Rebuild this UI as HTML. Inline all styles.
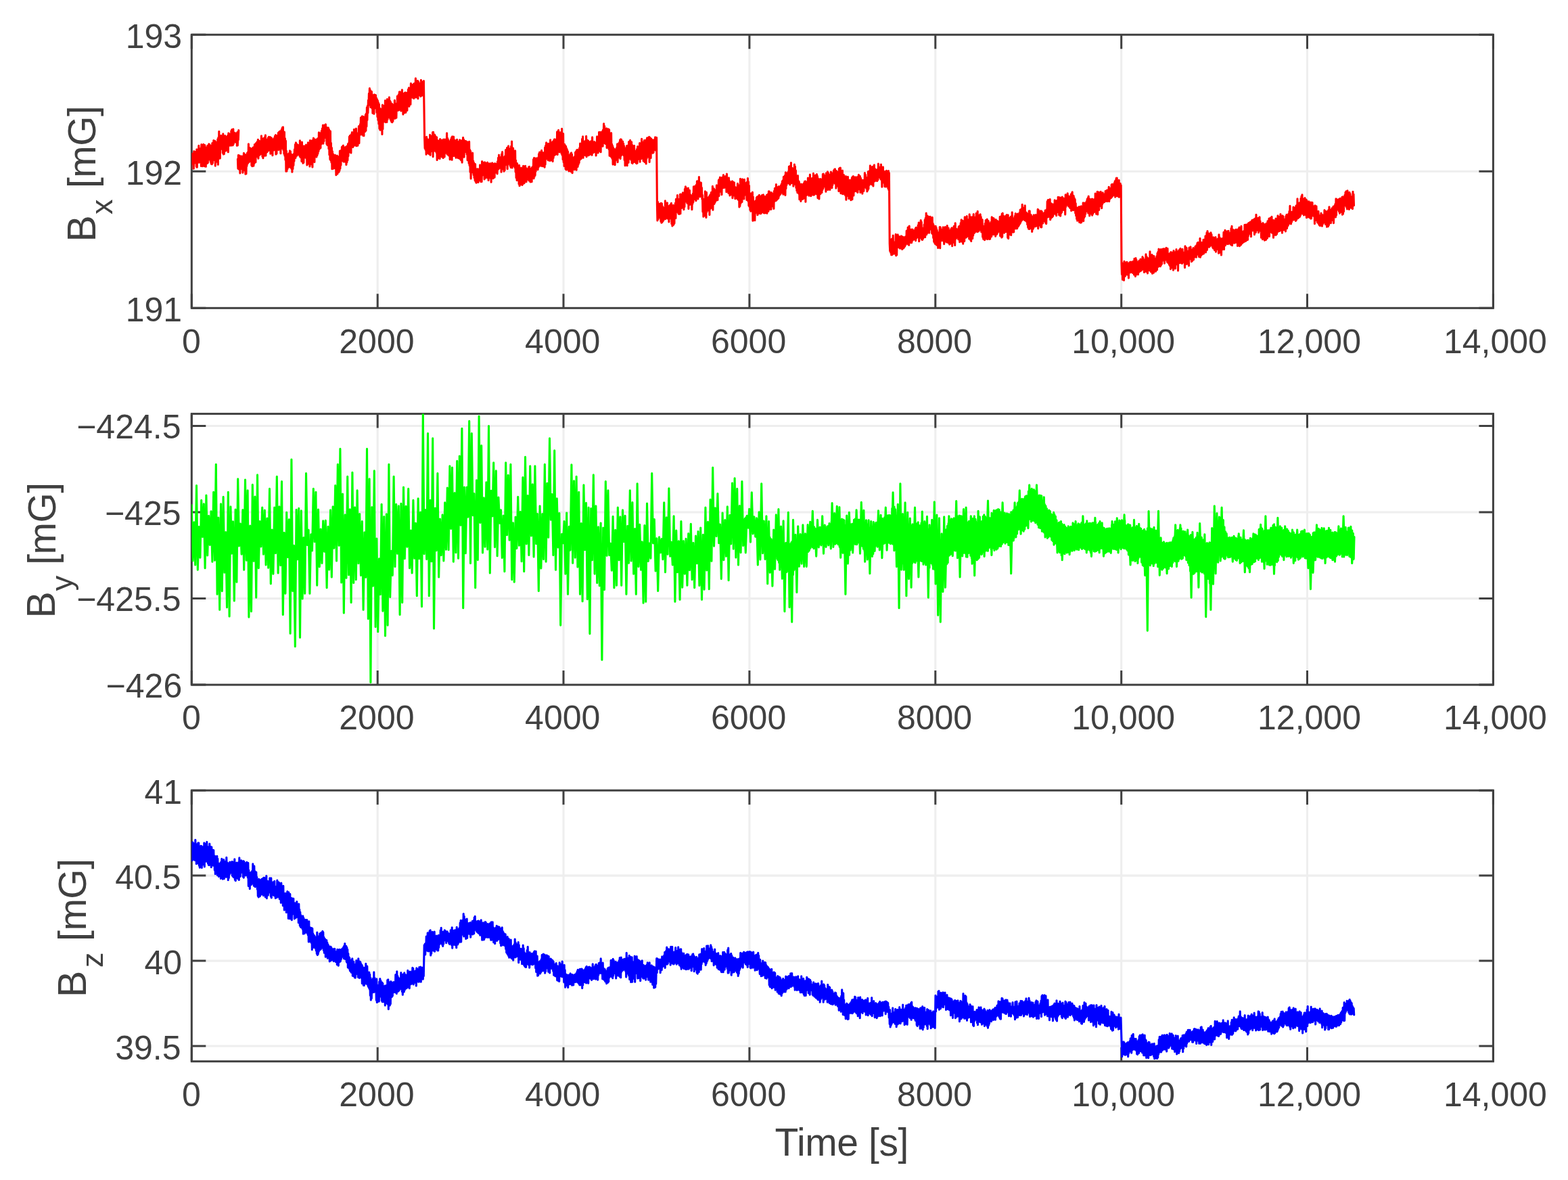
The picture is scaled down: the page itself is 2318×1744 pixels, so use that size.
<!DOCTYPE html>
<html lang="en">
<head>
<meta charset="utf-8">
<title>Magnetic field components Bx, By, Bz versus time</title>
<style>
html,body{margin:0;padding:0;background:#fff;}
body{width:2318px;height:1744px;overflow:hidden;}
svg{display:block;}
text{font-family:"Liberation Sans",sans-serif;fill:#404040;}
.t{font-size:50px;}
.g{stroke:#eeeeee;stroke-width:3.1;fill:none;}
.a{stroke:#404040;stroke-width:3.0;fill:none;}
.d{stroke-width:3.1;fill:none;stroke-linejoin:round;stroke-linecap:round;}
</style>
</head>
<body>
<svg width="2318" height="1744" viewBox="0 0 2318 1744" role="img" aria-label="Magnetic field components versus time">
<rect width="2318" height="1744" fill="#fff"/>
<defs><clipPath id="c0"><rect x="283.3" y="51.3" width="1924.1" height="404.0"/></clipPath><clipPath id="c1"><rect x="283.3" y="611.6" width="1924.1" height="400.5"/></clipPath><clipPath id="c2"><rect x="283.3" y="1168.2" width="1924.1" height="400.5"/></clipPath></defs>
<g><path class="g" d="M558.2 51.3V455.3M833.0 51.3V455.3M1107.9 51.3V455.3M1382.8 51.3V455.3M1657.7 51.3V455.3M1932.5 51.3V455.3M283.3 253.3H2207.4"/>
<path class="a" d="M283.3 51.3v21M283.3 455.3v-21M558.2 51.3v21M558.2 455.3v-21M833.0 51.3v21M833.0 455.3v-21M1107.9 51.3v21M1107.9 455.3v-21M1382.8 51.3v21M1382.8 455.3v-21M1657.7 51.3v21M1657.7 455.3v-21M1932.5 51.3v21M1932.5 455.3v-21M2207.4 51.3v21M2207.4 455.3v-21M283.3 51.3h21M2207.4 51.3h-21M283.3 253.3h21M2207.4 253.3h-21M283.3 455.3h21M2207.4 455.3h-21"/>
<rect class="a" x="283.3" y="51.3" width="1924.1" height="404.0"/>
<path class="d" clip-path="url(#c0)" stroke="#ff0000" d="M281.8 233.3L282.3 249.1L282.8 230.0L283.3 242.8L283.8 227.3L284.3 242.1L284.8 227.1L285.3 241.5L285.8 229.8L286.3 249.1L286.8 223.6L287.3 241.1L287.8 224.3L288.3 240.1L288.8 224.6L289.3 240.1L289.8 226.0L290.3 246.3L290.8 220.9L291.3 247.2L291.8 224.3L292.3 239.9L292.8 220.8L293.3 238.7L293.8 215.3L294.3 240.1L294.8 221.0L295.3 237.9L295.8 219.8L296.3 238.1L296.8 219.1L297.3 245.5L297.8 213.5L298.3 238.5L298.8 215.7L299.3 245.6L299.8 219.6L300.3 239.4L300.8 213.2L301.3 243.2L301.8 219.8L302.3 245.8L302.8 214.5L303.3 244.7L303.8 217.5L304.3 246.1L304.8 219.4L305.3 239.2L305.8 219.5L306.3 241.4L306.8 215.3L307.3 240.5L307.8 215.3L308.3 236.0L308.8 212.9L309.3 235.1L309.8 213.6L310.3 236.2L310.8 215.3L311.3 239.3L311.8 215.2L312.3 242.1L312.8 220.8L313.3 242.7L313.8 211.5L314.3 241.1L314.8 219.7L315.3 236.9L315.8 207.5L316.3 235.4L316.8 208.8L317.3 233.9L317.8 208.4L318.3 245.1L318.8 209.8L319.3 239.4L319.8 211.7L320.3 239.0L320.8 210.5L321.3 237.4L321.8 205.7L322.3 243.2L322.8 203.3L323.3 234.5L323.8 194.4L324.3 229.8L324.8 206.2L325.3 233.9L325.8 202.4L326.3 219.7L326.8 200.4L327.3 216.6L327.8 203.4L328.3 220.4L328.8 205.9L329.3 225.9L329.8 197.8L330.3 227.9L330.8 207.8L331.3 227.7L331.8 211.4L332.3 223.7L332.8 200.6L333.3 222.0L333.8 206.6L334.3 222.7L334.8 203.3L335.3 221.3L335.8 201.9L336.3 218.3L336.8 200.3L337.3 224.7L337.8 196.8L338.3 215.7L338.8 197.9L339.3 213.3L339.8 202.2L340.3 214.9L340.8 200.2L341.3 214.9L341.8 193.5L342.3 214.9L342.8 191.6L343.3 214.0L343.8 198.9L344.3 214.8L344.8 190.9L345.3 212.8L345.8 197.4L346.3 209.7L346.8 196.4L347.3 209.5L347.8 196.9L348.3 210.1L348.8 197.7L349.3 209.7L349.8 197.0L350.3 215.1L350.8 195.5L351.3 214.9L351.8 194.7L352.3 206.7L352.8 192.6M351.4 235.0L351.9 249.3L352.4 229.4L352.9 250.0L353.4 234.3L353.9 249.2L354.4 230.0L354.9 255.9L355.4 234.9L355.9 247.5L356.4 234.1L356.9 249.5L357.4 230.9L357.9 248.1L358.4 231.2L358.9 255.3L359.4 232.7L359.9 248.7L360.4 226.2L360.9 251.7L361.4 227.9L361.9 251.8L362.4 228.8L362.9 257.3L363.4 229.0L363.9 257.0L364.4 236.4L364.9 245.5L365.4 226.3L365.9 242.2L366.4 224.9L366.9 240.7L367.4 212.8L367.9 239.6L368.4 219.2L368.9 239.0L369.4 218.6L369.9 235.9L370.4 219.3L370.9 238.1L371.4 222.0L371.9 244.5L372.4 224.7L372.9 245.7L373.4 218.8L373.9 236.5L374.4 217.9L374.9 245.1L375.4 222.0L375.9 241.7L376.4 213.6L376.9 237.3L377.4 215.5L377.9 239.6L378.4 211.7L378.9 229.9L379.4 210.8L379.9 231.5L380.4 209.3L380.9 231.0L381.4 206.2L381.9 234.1L382.4 211.7L382.9 228.5L383.4 208.4L383.9 229.3L384.4 210.9L384.9 228.0L385.4 211.5L385.9 225.3L386.4 200.8L386.9 227.3L387.4 207.5L387.9 231.2L388.4 209.3L388.9 233.6L389.4 204.5L389.9 227.8L390.4 209.0L390.9 230.1L391.4 202.8L391.9 226.2L392.4 199.8L392.9 230.0L393.4 205.7L393.9 225.5L394.4 206.9L394.9 224.7L395.4 208.1L395.9 223.4L396.4 203.6L396.9 221.9L397.4 202.2L397.9 221.9L398.4 205.9L398.9 222.3L399.4 202.6L399.9 227.2L400.4 209.7L400.9 223.8L401.4 203.9L401.9 221.9L402.4 211.1L402.9 229.7L403.4 207.6L403.9 222.1L404.4 205.5L404.9 221.9L405.4 204.1L405.9 220.0L406.4 201.2L406.9 219.0L407.4 199.5L407.9 227.9L408.4 202.3L408.9 227.3L409.4 201.3L409.9 219.3L410.4 200.1L410.9 216.1L411.4 196.3L411.9 221.4L412.4 195.3L412.9 217.4L413.4 194.4L413.9 219.9L414.4 193.9L414.9 226.8L415.4 196.2L415.9 219.7L416.4 191.1L416.9 214.6L417.4 188.6L417.9 214.6L418.4 187.8L418.9 221.5L419.4 197.1L419.9 227.1L420.4 195.0L420.9 230.1L421.4 204.5L421.9 236.3L422.4 208.0L422.9 253.3L423.4 223.0L423.9 253.0L424.4 227.2L424.9 250.0L425.4 228.9L425.9 247.5L426.4 228.2L426.9 247.3L427.4 226.2L427.9 246.0L428.4 222.7L428.9 244.9L429.4 223.9L429.9 247.7L430.4 236.5L430.9 249.4L431.4 228.4L431.9 254.3L432.4 235.4L432.9 249.8L433.4 231.3L433.9 244.4L434.4 227.3L434.9 238.3L435.4 220.7L435.9 231.4L436.4 213.5L436.9 233.5L437.4 210.8L437.9 227.0L438.4 212.6L438.9 230.1L439.4 213.7L439.9 228.8L440.4 214.4L440.9 228.3L441.4 215.4L441.9 228.2L442.4 214.5L442.9 230.4L443.4 207.8L443.9 232.2L444.4 212.1L444.9 232.6L445.4 213.9L445.9 238.4L446.4 210.0L446.9 231.8L447.4 218.3L447.9 241.1L448.4 217.9L448.9 240.4L449.4 215.7L449.9 233.3L450.4 216.2L450.9 232.4L451.4 219.6L451.9 232.9L452.4 214.1L452.9 234.0L453.4 223.5L453.9 244.0L454.4 222.6L454.9 237.6L455.4 210.9L455.9 242.0L456.4 220.2L456.9 240.1L457.4 215.7L457.9 245.9L458.4 207.6L458.9 239.3L459.4 214.7L459.9 242.7L460.4 208.1L460.9 242.5L461.4 214.4L461.9 246.9L462.4 207.2L462.9 231.7L463.4 204.0L463.9 234.6L464.4 205.5L464.9 239.5L465.4 207.2L465.9 229.7L466.4 206.4L466.9 230.0L467.4 207.1L467.9 232.0L468.4 206.0L468.9 229.8L469.4 204.7L469.9 227.2L470.4 205.2L470.9 223.8L471.4 195.9L471.9 220.8L472.4 201.4L472.9 219.4L473.4 196.9L473.9 218.7L474.4 196.2L474.9 213.0L475.4 193.2L475.9 212.1L476.4 189.8L476.9 209.5L477.4 185.0L477.9 212.1L478.4 189.4L478.9 208.6L479.4 185.1L479.9 203.6L480.4 186.4L480.9 202.7L481.4 183.7L481.9 203.8L482.4 193.0L482.9 212.7L483.4 188.5L483.9 214.4L484.4 191.1L484.9 212.8L485.4 188.9L485.9 219.7L486.4 191.4L486.9 228.8L487.4 196.8L487.9 235.4L488.4 193.9L488.9 237.0L489.4 211.2L489.9 240.0L490.4 218.2L490.9 249.7L491.4 223.6L491.9 247.6L492.4 227.5L492.9 249.1L493.4 233.7L493.9 248.5L494.4 232.2L494.9 248.4L495.4 229.0L495.9 249.0L496.4 234.5L496.9 258.7L497.4 235.4L497.9 249.9L498.4 230.0L498.9 256.9L499.4 231.9L499.9 250.6L500.4 231.9L500.9 254.5L501.4 236.2L501.9 252.5L502.4 223.1L502.9 249.3L503.4 229.2L503.9 244.1L504.4 222.2L504.9 232.7L505.4 217.4L505.9 237.1L506.4 216.2L506.9 237.6L507.4 215.1L507.9 239.0L508.4 223.5L508.9 239.0L509.4 223.3L509.9 239.0L510.4 217.6L510.9 236.6L511.4 220.7L511.9 243.5L512.4 216.3L512.9 239.9L513.4 216.4L513.9 237.0L514.4 212.7L514.9 230.7L515.4 211.5L515.9 225.1L516.4 202.0L516.9 222.3L517.4 200.4L517.9 219.6L518.4 202.8L518.9 225.9L519.4 198.5L519.9 217.2L520.4 195.5L520.9 213.9L521.4 198.0L521.9 217.4L522.4 197.2L522.9 215.8L523.4 191.2L523.9 214.4L524.4 193.0L524.9 214.1L525.4 191.4L525.9 214.9L526.4 190.0L526.9 215.8L527.4 196.5L527.9 212.2L528.4 197.4L528.9 215.2L529.4 197.3L529.9 207.8L530.4 186.6L530.9 211.8L531.4 187.9L531.9 198.4L532.4 183.7L532.9 194.0L533.4 173.8L533.9 199.0L534.4 178.5L534.9 198.7L535.4 171.9L535.9 194.3L536.4 173.4L536.9 200.5L537.4 172.6L537.9 200.7L538.4 175.1L538.9 194.8L539.4 174.2L539.9 194.5L540.4 169.6L540.9 193.3L541.4 167.7L541.9 186.9L542.4 158.8L542.9 177.4L543.4 156.4L543.9 167.0L544.4 148.0L544.9 155.6L545.4 138.0L545.9 152.9L546.4 130.5L546.9 152.1L547.4 133.2L547.9 158.4L548.4 134.8L548.9 157.5L549.4 135.3L549.9 160.0L550.4 139.9L550.9 167.1L551.4 145.9L551.9 164.4L552.4 141.6L552.9 168.3L553.4 139.8L553.9 160.1L554.4 141.2L554.9 158.6L555.4 140.5L555.9 158.8L556.4 144.7L556.9 166.1L557.4 146.9L557.9 172.5L558.4 148.7L558.9 177.4L559.4 151.8L559.9 183.0L560.4 154.1L560.9 190.0L561.4 159.7L561.9 192.1L562.4 170.9L562.9 189.9L563.4 172.2L563.9 186.4L564.4 160.9L564.9 198.5L565.4 155.0L565.9 190.7L566.4 160.1L566.9 180.1L567.4 156.6L567.9 179.5L568.4 156.4L568.9 179.0L569.4 148.5L569.9 180.6L570.4 156.9L570.9 171.8L571.4 157.0L571.9 180.4L572.4 146.5L572.9 176.7L573.4 155.1L573.9 174.0L574.4 150.5L574.9 170.6L575.4 143.9L575.9 173.3L576.4 148.8L576.9 175.7L577.4 150.6L577.9 178.3L578.4 154.6L578.9 180.1L579.4 153.3L579.9 180.7L580.4 154.6L580.9 179.2L581.4 162.5L581.9 175.0L582.4 160.9L582.9 172.0L583.4 148.2L583.9 175.1L584.4 155.8L584.9 172.4L585.4 154.6L585.9 174.3L586.4 152.8L586.9 163.8L587.4 142.1L587.9 162.3L588.4 149.0L588.9 163.3L589.4 139.5L589.9 162.4L590.4 135.7L590.9 160.2L591.4 135.9L591.9 161.0L592.4 142.2L592.9 163.9L593.4 143.5L593.9 161.8L594.4 132.8L594.9 161.9L595.4 137.7L595.9 169.0L596.4 139.1L596.9 162.6L597.4 138.4L597.9 166.7L598.4 137.1L598.9 158.2L599.4 136.8L599.9 166.2L600.4 138.7L600.9 154.1L601.4 137.6L601.9 163.3L602.4 136.9L602.9 156.4L603.4 132.4L603.9 155.1L604.4 129.9L604.9 157.3L605.4 131.3L605.9 146.8L606.4 133.1L606.9 154.2L607.4 123.2L607.9 143.2L608.4 130.6L608.9 142.9L609.4 128.6L609.9 144.2L610.4 125.0L610.9 142.7L611.4 124.4L611.9 145.5L612.4 123.3L612.9 139.4L613.4 123.0L613.9 139.5L614.4 115.7L614.9 143.9L615.4 123.9L615.9 138.8L616.4 120.5L616.9 143.3L617.4 119.3L617.9 145.8L618.4 120.5L618.9 138.0L619.4 122.7L619.9 137.8L620.4 127.7L620.9 141.2L621.4 126.7L621.9 142.4L622.4 118.2L622.9 141.2L623.4 120.5L623.9 141.3L624.4 121.3L624.9 140.7L625.4 121.4L625.9 135.2L626.4 119.5L627.6 203.7L628.1 219.2L628.6 205.7L629.1 221.2L629.6 204.6L630.1 228.3L630.6 202.2L631.1 222.5L631.6 205.6L632.1 226.2L632.6 206.0L633.1 225.3L633.6 207.2L634.1 227.5L634.6 207.9L635.1 226.3L635.6 199.2L636.1 229.3L636.6 201.0L637.1 223.9L637.6 201.2L638.1 222.8L638.6 201.6L639.1 222.5L639.6 195.5L640.1 231.6L640.6 195.2L641.1 221.7L641.6 199.7L642.1 222.9L642.6 199.1L643.1 222.2L643.6 201.0L644.1 223.4L644.6 205.1L645.1 225.4L645.6 202.8L646.1 236.5L646.6 210.1L647.1 232.6L647.6 207.7L648.1 233.7L648.6 212.3L649.1 233.7L649.6 211.5L650.1 234.4L650.6 205.6L651.1 228.1L651.6 206.6L652.1 226.1L652.6 211.7L653.1 231.6L653.6 211.4L654.1 225.3L654.6 206.9L655.1 233.4L655.6 206.1L656.1 228.7L656.6 207.3L657.1 231.9L657.6 206.0L658.1 226.5L658.6 207.7L659.1 223.5L659.6 208.6L660.1 221.3L660.6 196.9L661.1 227.9L661.6 204.2L662.1 227.4L662.6 206.6L663.1 229.7L663.6 208.6L664.1 228.5L664.6 209.0L665.1 235.7L665.6 209.3L666.1 224.7L666.6 206.1L667.1 229.8L667.6 203.3L668.1 236.3L668.6 201.7L669.1 228.5L669.6 205.4L670.1 230.4L670.6 202.1L671.1 230.3L671.6 206.7L672.1 229.3L672.6 207.3L673.1 231.0L673.6 208.6L674.1 233.2L674.6 210.3L675.1 226.5L675.6 206.2L676.1 232.3L676.6 209.4L677.1 233.4L677.6 215.9L678.1 227.3L678.6 209.6L679.1 234.1L679.6 206.8L680.1 234.3L680.6 209.8L681.1 236.1L681.6 207.8L682.1 236.9L682.6 208.4L683.1 240.1L683.6 207.4L684.1 228.7L684.6 203.3L685.1 229.2L685.6 206.4L686.1 232.2L686.6 208.0L687.1 219.7L687.6 209.4L688.1 222.2L688.6 208.5L689.1 224.8L689.6 209.1L690.1 228.0L690.6 209.8L691.1 236.6L691.6 210.2L692.1 231.6L692.6 211.3L693.1 241.3L693.6 209.2L694.1 244.6L694.6 221.3L695.1 254.2L695.6 223.3L696.1 264.0L696.6 228.2L697.1 248.4L697.6 231.9L698.1 252.1L698.6 226.0L699.1 254.9L699.6 237.9L700.1 258.4L700.6 240.6L701.1 262.7L701.6 246.0L702.1 266.5L702.6 242.5L703.1 268.5L703.6 249.5L704.1 270.2L704.6 250.3L705.1 267.8L705.6 249.9L706.1 269.2L706.6 249.8L707.1 269.5L707.6 251.8L708.1 267.3L708.6 252.8L709.1 264.0L709.6 243.7L710.1 263.1L710.6 244.7L711.1 268.6L711.6 246.7L712.1 268.5L712.6 238.6L713.1 259.1L713.6 245.5L714.1 257.9L714.6 240.4L715.1 255.5L715.6 241.7L716.1 264.9L716.6 239.7L717.1 263.5L717.6 240.8L718.1 260.3L718.6 244.0L719.1 262.4L719.6 245.0L720.1 262.2L720.6 240.1L721.1 263.0L721.6 241.5L722.1 266.4L722.6 243.9L723.1 259.5L723.6 242.4L724.1 262.5L724.6 241.6L725.1 263.1L725.6 242.4L726.1 269.2L726.6 246.0L727.1 262.9L727.6 240.7L728.1 261.9L728.6 241.9L729.1 263.7L729.6 242.3L730.1 261.9L730.6 245.3L731.1 262.2L731.6 241.6L732.1 255.5L732.6 246.4L733.1 254.7L733.6 242.2L734.1 254.3L734.6 244.2L735.1 256.9L735.6 238.6L736.1 250.7L736.6 233.0L737.1 249.6L737.6 229.1L738.1 248.4L738.6 232.1L739.1 248.2L739.6 233.8L740.1 244.9L740.6 232.9L741.1 254.3L741.6 227.8L742.1 250.3L742.6 224.6L743.1 250.0L743.6 234.0L744.1 247.7L744.6 234.4L745.1 253.2L745.6 232.0L746.1 251.8L746.6 230.6L747.1 243.9L747.6 221.5L748.1 242.8L748.6 227.4L749.1 242.6L749.6 218.3L750.1 249.6L750.6 225.1L751.1 242.8L751.6 215.9L752.1 241.1L752.6 219.3L753.1 241.4L753.6 220.7L754.1 244.9L754.6 221.0L755.1 247.5L755.6 216.1L756.1 241.4L756.6 209.1L757.1 247.9L757.6 221.5L758.1 245.1L758.6 219.1L759.1 245.2L759.6 225.0L760.1 245.4L760.6 226.2L761.1 247.7L761.6 222.7L762.1 254.1L762.6 237.0L763.1 262.7L763.6 241.4L764.1 266.5L764.6 241.5L765.1 266.3L765.6 246.0L766.1 263.4L766.6 251.8L767.1 271.9L767.6 244.3L768.1 274.7L768.6 254.6L769.1 273.1L769.6 252.5L770.1 266.7L770.6 248.1L771.1 266.7L771.6 250.6L772.1 273.5L772.6 250.4L773.1 271.0L773.6 245.3L774.1 271.2L774.6 250.7L775.1 270.6L775.6 245.9L776.1 266.4L776.6 245.2L777.1 266.7L777.6 248.4L778.1 268.6L778.6 251.2L779.1 265.7L779.6 249.7L780.1 264.8L780.6 249.5L781.1 265.0L781.6 246.7L782.1 266.9L782.6 246.4L783.1 265.3L783.6 249.5L784.1 268.9L784.6 251.4L785.1 261.1L785.6 249.0L786.1 268.6L786.6 247.4L787.1 262.9L787.6 246.2L788.1 262.1L788.6 235.6L789.1 263.6L789.6 233.4L790.1 260.9L790.6 236.6L791.1 259.2L791.6 234.5L792.1 253.3L792.6 233.7L793.1 250.4L793.6 236.0L794.1 247.7L794.6 234.7L795.1 250.8L795.6 232.7L796.1 247.3L796.6 227.5L797.1 245.6L797.6 225.0L798.1 241.2L798.6 225.1L799.1 240.5L799.6 226.1L800.1 245.2L800.6 222.3L801.1 244.5L801.6 228.2L802.1 245.7L802.6 225.5L803.1 245.0L803.6 226.9L804.1 245.7L804.6 228.7L805.1 247.3L805.6 218.0L806.1 242.9L806.6 215.3L807.1 234.6L807.6 210.7L808.1 232.4L808.6 215.3L809.1 234.5L809.6 213.4L810.1 236.7L810.6 212.2L811.1 236.7L811.6 212.6L812.1 237.1L812.6 215.3L813.1 237.4L813.6 206.7L814.1 232.2L814.6 215.0L815.1 236.7L815.6 211.6L816.1 228.3L816.6 210.0L817.1 238.5L817.6 209.0L818.1 233.4L818.6 207.6L819.1 229.6L819.6 205.7L820.1 229.2L820.6 206.6L821.1 228.5L821.6 207.6L822.1 227.2L822.6 205.5L823.1 225.3L823.6 194.9L824.1 228.5L824.6 198.4L825.1 222.8L825.6 192.2L826.1 223.4L826.6 197.1L827.1 224.6L827.6 195.9L828.1 214.3L828.6 195.9L829.1 215.2L829.6 195.4L830.1 227.1L830.6 190.3L831.1 229.2L831.6 207.2L832.1 235.7L832.6 197.5L833.1 239.6L833.6 217.4L834.1 245.4L834.6 213.4L835.1 244.2L835.6 215.2L836.1 249.8L836.6 216.2L837.1 251.0L837.6 219.4L838.1 249.6L838.6 221.5L839.1 246.2L839.6 224.1L840.1 251.1L840.6 231.5L841.1 253.0L841.6 229.3L842.1 250.5L842.6 232.8L843.1 249.4L843.6 226.8L844.1 253.6L844.6 225.8L845.1 252.3L845.6 228.4L846.1 255.6L846.6 233.5L847.1 248.5L847.6 233.4L848.1 248.5L848.6 232.6L849.1 250.7L849.6 231.3L850.1 248.7L850.6 225.1L851.1 247.6L851.6 223.9L852.1 251.1L852.6 221.7L853.1 241.0L853.6 221.4L854.1 246.4L854.6 225.8L855.1 243.2L855.6 222.8L856.1 240.8L856.6 218.9L857.1 236.4L857.6 212.1L858.1 232.8L858.6 212.5L859.1 234.8L859.6 215.3L860.1 225.6L860.6 205.2L861.1 226.2L861.6 201.9L862.1 233.3L862.6 211.1L863.1 228.1L863.6 209.9L864.1 228.2L864.6 208.7L865.1 229.4L865.6 209.3L866.1 229.2L866.6 201.2L867.1 231.7L867.6 209.9L868.1 225.3L868.6 207.3L869.1 222.9L869.6 208.0L870.1 229.6L870.6 209.9L871.1 228.4L871.6 210.0L872.1 228.5L872.6 209.9L873.1 222.9L873.6 208.8L874.1 223.3L874.6 208.8L875.1 229.2L875.6 202.9L876.1 225.8L876.6 210.2L877.1 225.8L877.6 210.5L878.1 224.9L878.6 209.5L879.1 222.1L879.6 210.5L880.1 221.5L880.6 211.5L881.1 229.9L881.6 210.7L882.1 223.4L882.6 201.8L883.1 221.5L883.6 209.0L884.1 226.0L884.6 205.7L885.1 219.8L885.6 195.3L886.1 220.4L886.6 199.8L887.1 223.4L887.6 195.2L888.1 224.8L888.6 198.2L889.1 210.4L889.6 196.0L890.1 207.3L890.6 194.0L891.1 216.1L891.6 191.7L892.1 205.2L892.6 182.7L893.1 210.8L893.6 186.2L894.1 211.6L894.6 190.5L895.1 212.4L895.6 193.2L896.1 208.3L896.6 189.8L897.1 218.5L897.6 193.8L898.1 215.2L898.6 190.8L899.1 214.8L899.6 190.9L900.1 220.4L900.6 191.8L901.1 230.2L901.6 204.4L902.1 226.5L902.6 201.9L903.1 231.1L903.6 196.6L904.1 232.4L904.6 213.1L905.1 234.5L905.6 215.6L906.1 242.9L906.6 218.4L907.1 239.1L907.6 220.0L908.1 241.2L908.6 220.5L909.1 243.8L909.6 221.3L910.1 236.9L910.6 220.9L911.1 233.8L911.6 218.3L912.1 232.1L912.6 212.9L913.1 239.6L913.6 217.4L914.1 233.2L914.6 212.2L915.1 232.8L915.6 210.3L916.1 228.3L916.6 206.8L917.1 234.5L917.6 205.7L918.1 230.1L918.6 206.2L919.1 228.9L919.6 210.4L920.1 224.5L920.6 209.1L921.1 226.0L921.6 212.1L922.1 229.6L922.6 215.5L923.1 236.5L923.6 218.6L924.1 244.8L924.6 220.3L925.1 240.6L925.6 219.4L926.1 239.8L926.6 215.6L927.1 244.6L927.6 215.4L928.1 238.5L928.6 218.3L929.1 240.2L929.6 209.5L930.1 234.5L930.6 214.1L931.1 234.6L931.6 207.2L932.1 234.4L932.6 212.7L933.1 236.5L933.6 209.7L934.1 240.7L934.6 214.3L935.1 241.4L935.6 217.8L936.1 238.8L936.6 219.1L937.1 239.5L937.6 215.2L938.1 238.3L938.6 222.7L939.1 239.1L939.6 224.0L940.1 240.6L940.6 224.5L941.1 241.7L941.6 220.3L942.1 241.1L942.6 216.6L943.1 235.8L943.6 217.1L944.1 234.0L944.6 217.4L945.1 231.9L945.6 211.5L946.1 239.1L946.6 212.3L947.1 230.4L947.6 211.5L948.1 234.4L948.6 205.3L949.1 233.7L949.6 209.5L950.1 231.2L950.6 211.8L951.1 237.9L951.6 213.1L952.1 234.2L952.6 207.3L953.1 239.4L953.6 210.4L954.1 238.9L954.6 208.8L955.1 242.0L955.6 206.4L956.1 234.0L956.6 203.8L957.1 229.9L957.6 203.7L958.1 228.6L958.6 203.8L959.1 232.1L959.6 202.4L960.1 239.4L960.6 203.0L961.1 231.6L961.6 212.2L962.1 233.4L962.6 204.8L963.1 224.9L963.6 209.5L964.1 224.5L964.6 206.7L965.1 226.3L965.6 207.2L966.1 225.4L966.6 206.8L967.1 221.8L967.6 206.7L968.1 221.1L968.6 202.7L969.1 221.4L969.6 209.9L970.1 223.2L970.6 203.4L971.4 303.1L971.9 326.0L972.4 298.2L972.9 324.3L973.4 302.8L973.9 318.1L974.4 305.8L974.9 319.4L975.4 301.0L975.9 322.0L976.4 303.0L976.9 327.2L977.4 300.4L977.9 329.1L978.4 300.9L978.9 328.5L979.4 305.0L979.9 327.3L980.4 307.1L980.9 325.8L981.4 307.4L981.9 323.7L982.4 306.8L982.9 322.2L983.4 296.9L983.9 323.6L984.4 303.5L984.9 319.4L985.4 303.1L985.9 322.1L986.4 299.7L986.9 320.6L987.4 306.3L987.9 323.7L988.4 305.8L988.9 328.0L989.4 304.4L989.9 323.2L990.4 303.3L990.9 322.8L991.4 302.0L991.9 319.8L992.4 300.2L992.9 330.7L993.4 306.8L993.9 334.0L994.4 308.0L994.9 332.6L995.4 303.3L995.9 331.9L996.4 308.1L996.9 330.2L997.4 304.8L997.9 317.8L998.4 300.1L998.9 322.4L999.4 294.2L999.9 313.4L1000.4 296.2L1000.9 312.8L1001.4 288.6L1001.9 313.3L1002.4 299.0L1002.9 315.5L1003.4 297.7L1003.9 316.4L1004.4 294.1L1004.9 315.9L1005.4 287.3L1005.9 315.8L1006.4 287.1L1006.9 306.3L1007.4 292.7L1007.9 307.4L1008.4 288.5L1008.9 304.6L1009.4 284.8L1009.9 301.5L1010.4 286.2L1010.9 309.8L1011.4 285.0L1011.9 305.7L1012.4 279.2L1012.9 296.0L1013.4 275.7L1013.9 295.2L1014.4 277.8L1014.9 298.1L1015.4 279.7L1015.9 300.1L1016.4 281.3L1016.9 300.8L1017.4 278.1L1017.9 308.4L1018.4 285.1L1018.9 301.6L1019.4 281.4L1019.9 302.4L1020.4 287.5L1020.9 300.6L1021.4 288.5L1021.9 300.4L1022.4 289.6L1022.9 309.8L1023.4 289.8L1023.9 301.1L1024.4 286.1L1024.9 298.7L1025.4 275.9L1025.9 293.9L1026.4 278.2L1026.9 294.3L1027.4 275.2L1027.9 294.7L1028.4 274.9L1028.9 296.7L1029.4 273.0L1029.9 288.7L1030.4 267.8L1030.9 289.8L1031.4 267.9L1031.9 293.9L1032.4 267.2L1032.9 290.0L1033.4 261.5L1033.9 286.6L1034.4 269.2L1034.9 290.7L1035.4 271.5L1035.9 286.3L1036.4 270.1L1036.9 287.7L1037.4 277.4L1037.9 294.3L1038.4 288.4L1038.9 313.0L1039.4 294.5L1039.9 320.1L1040.4 294.5L1040.9 318.0L1041.4 295.1L1041.9 318.6L1042.4 282.9L1042.9 317.5L1043.4 285.3L1043.9 321.5L1044.4 284.4L1044.9 313.1L1045.4 292.0L1045.9 310.9L1046.4 292.5L1046.9 309.4L1047.4 291.9L1047.9 311.3L1048.4 290.3L1048.9 317.5L1049.4 288.7L1049.9 308.7L1050.4 287.2L1050.9 304.9L1051.4 284.3L1051.9 302.6L1052.4 285.4L1052.9 307.7L1053.4 275.3L1053.9 310.2L1054.4 279.9L1054.9 299.6L1055.4 278.7L1055.9 301.4L1056.4 280.6L1056.9 299.4L1057.4 282.1L1057.9 297.5L1058.4 281.0L1058.9 294.4L1059.4 273.9L1059.9 295.8L1060.4 278.7L1060.9 295.7L1061.4 276.8L1061.9 286.3L1062.4 266.3L1062.9 289.8L1063.4 265.0L1063.9 283.4L1064.4 262.1L1064.9 283.3L1065.4 263.2L1065.9 279.3L1066.4 264.0L1066.9 287.8L1067.4 262.2L1067.9 277.8L1068.4 262.6L1068.9 277.6L1069.4 258.6L1069.9 276.5L1070.4 264.0L1070.9 277.5L1071.4 265.7L1071.9 276.5L1072.4 260.6L1072.9 275.8L1073.4 261.9L1073.9 283.7L1074.4 257.0L1074.9 283.0L1075.4 266.4L1075.9 276.7L1076.4 267.2L1076.9 285.4L1077.4 262.8L1077.9 279.9L1078.4 267.2L1078.9 288.9L1079.4 270.0L1079.9 286.6L1080.4 270.8L1080.9 285.3L1081.4 268.7L1081.9 287.9L1082.4 267.8L1082.9 292.8L1083.4 268.6L1083.9 285.0L1084.4 270.4L1084.9 289.0L1085.4 269.8L1085.9 288.9L1086.4 276.9L1086.9 293.7L1087.4 276.9L1087.9 293.3L1088.4 277.3L1088.9 290.4L1089.4 277.5L1089.9 293.2L1090.4 271.4L1090.9 294.8L1091.4 277.0L1091.9 295.7L1092.4 277.2L1092.9 305.9L1093.4 273.4L1093.9 304.4L1094.4 264.3L1094.9 300.7L1095.4 270.3L1095.9 292.2L1096.4 269.8L1096.9 298.4L1097.4 264.9L1097.9 290.4L1098.4 272.4L1098.9 287.5L1099.4 267.6L1099.9 294.0L1100.4 265.2L1100.9 288.5L1101.4 270.0L1101.9 285.9L1102.4 272.0L1102.9 285.3L1103.4 271.0L1103.9 295.5L1104.4 268.7L1104.9 290.1L1105.4 263.6L1105.9 297.3L1106.4 268.6L1106.9 304.0L1107.4 274.2L1107.9 305.1L1108.4 285.4L1108.9 310.3L1109.4 288.5L1109.9 312.2L1110.4 292.9L1110.9 309.5L1111.4 285.5L1111.9 310.7L1112.4 284.0L1112.9 326.2L1113.4 291.1L1113.9 325.5L1114.4 297.3L1114.9 323.7L1115.4 300.0L1115.9 325.6L1116.4 298.7L1116.9 315.0L1117.4 296.4L1117.9 312.5L1118.4 292.0L1118.9 311.4L1119.4 290.8L1119.9 317.7L1120.4 290.7L1120.9 315.9L1121.4 289.9L1121.9 311.9L1122.4 288.4L1122.9 314.1L1123.4 295.3L1123.9 315.8L1124.4 290.2L1124.9 315.7L1125.4 293.4L1125.9 314.2L1126.4 288.6L1126.9 310.2L1127.4 295.2L1127.9 309.7L1128.4 287.9L1128.9 314.5L1129.4 289.7L1129.9 315.0L1130.4 291.5L1130.9 307.6L1131.4 291.4L1131.9 314.6L1132.4 290.3L1132.9 305.7L1133.4 288.4L1133.9 315.1L1134.4 287.8L1134.9 304.1L1135.4 286.9L1135.9 312.1L1136.4 282.7L1136.9 308.1L1137.4 283.0L1137.9 309.4L1138.4 288.8L1138.9 303.0L1139.4 285.7L1139.9 309.4L1140.4 284.5L1140.9 301.4L1141.4 287.2L1141.9 300.1L1142.4 287.6L1142.9 305.1L1143.4 285.8L1143.9 308.5L1144.4 282.4L1144.9 297.8L1145.4 278.4L1145.9 296.8L1146.4 280.1L1146.9 296.7L1147.4 272.5L1147.9 296.2L1148.4 281.8L1148.9 294.7L1149.4 279.7L1149.9 294.0L1150.4 276.4L1150.9 292.8L1151.4 275.5L1151.9 289.4L1152.4 276.9L1152.9 287.9L1153.4 276.2L1153.9 286.9L1154.4 274.0L1154.9 284.8L1155.4 271.9L1155.9 284.0L1156.4 267.9L1156.9 285.3L1157.4 266.6L1157.9 287.1L1158.4 261.2L1158.9 286.4L1159.4 262.9L1159.9 284.1L1160.4 259.4L1160.9 288.5L1161.4 254.7L1161.9 278.6L1162.4 258.9L1162.9 273.4L1163.4 256.9L1163.9 270.1L1164.4 255.6L1164.9 268.2L1165.4 253.5L1165.9 271.0L1166.4 246.1L1166.9 270.6L1167.4 252.2L1167.9 272.9L1168.4 245.0L1168.9 269.0L1169.4 240.5L1169.9 270.8L1170.4 248.3L1170.9 266.7L1171.4 248.5L1171.9 268.8L1172.4 249.1L1172.9 275.1L1173.4 250.1L1173.9 272.3L1174.4 243.1L1174.9 270.8L1175.4 246.1L1175.9 272.2L1176.4 251.9L1176.9 277.4L1177.4 263.4L1177.9 281.8L1178.4 264.9L1178.9 284.6L1179.4 259.5L1179.9 284.5L1180.4 267.3L1180.9 286.2L1181.4 268.9L1181.9 294.8L1182.4 272.4L1182.9 290.2L1183.4 277.2L1183.9 297.4L1184.4 272.1L1184.9 294.9L1185.4 272.5L1185.9 293.8L1186.4 273.9L1186.9 294.2L1187.4 272.4L1187.9 293.4L1188.4 270.7L1188.9 292.0L1189.4 268.3L1189.9 291.6L1190.4 267.9L1190.9 298.1L1191.4 268.7L1191.9 288.6L1192.4 269.8L1192.9 288.1L1193.4 268.6L1193.9 286.5L1194.4 263.1L1194.9 286.7L1195.4 264.6L1195.9 289.1L1196.4 265.6L1196.9 289.0L1197.4 258.0L1197.9 287.6L1198.4 264.3L1198.9 289.6L1199.4 264.0L1199.9 283.2L1200.4 263.5L1200.9 286.4L1201.4 267.5L1201.9 288.0L1202.4 256.2L1202.9 288.1L1203.4 261.3L1203.9 287.8L1204.4 265.7L1204.9 285.5L1205.4 259.1L1205.9 284.7L1206.4 266.2L1206.9 286.8L1207.4 257.6L1207.9 286.7L1208.4 260.2L1208.9 292.6L1209.4 263.7L1209.9 285.0L1210.4 268.1L1210.9 294.0L1211.4 266.6L1211.9 281.0L1212.4 264.6L1212.9 286.7L1213.4 264.9L1213.9 282.1L1214.4 265.4L1214.9 284.8L1215.4 266.0L1215.9 280.8L1216.4 257.3L1216.9 278.6L1217.4 257.1L1217.9 276.3L1218.4 262.6L1218.9 275.7L1219.4 260.3L1219.9 274.5L1220.4 259.0L1220.9 283.1L1221.4 256.1L1221.9 278.4L1222.4 263.2L1222.9 279.8L1223.4 253.7L1223.9 280.5L1224.4 255.6L1224.9 276.1L1225.4 260.5L1225.9 278.4L1226.4 258.4L1226.9 280.5L1227.4 258.6L1227.9 277.1L1228.4 254.1L1228.9 275.3L1229.4 258.8L1229.9 277.6L1230.4 258.0L1230.9 273.5L1231.4 255.5L1231.9 269.6L1232.4 252.4L1232.9 270.3L1233.4 250.6L1233.9 270.4L1234.4 249.9L1234.9 271.6L1235.4 254.8L1235.9 278.1L1236.4 252.5L1236.9 271.6L1237.4 253.9L1237.9 273.9L1238.4 256.7L1238.9 275.4L1239.4 255.0L1239.9 282.5L1240.4 249.2L1240.9 274.6L1241.4 248.4L1241.9 279.3L1242.4 248.1L1242.9 285.6L1243.4 258.7L1243.9 275.9L1244.4 260.8L1244.9 286.0L1245.4 252.1L1245.9 286.7L1246.4 261.1L1246.9 285.5L1247.4 258.6L1247.9 281.3L1248.4 266.0L1248.9 287.4L1249.4 268.8L1249.9 288.9L1250.4 260.5L1250.9 295.2L1251.4 270.4L1251.9 285.5L1252.4 263.9L1252.9 287.6L1253.4 261.3L1253.9 289.6L1254.4 266.3L1254.9 293.5L1255.4 266.7L1255.9 291.9L1256.4 266.1L1256.9 291.4L1257.4 268.7L1257.9 295.8L1258.4 267.4L1258.9 289.6L1259.4 262.9L1259.9 294.7L1260.4 261.0L1260.9 285.3L1261.4 260.6L1261.9 289.0L1262.4 261.7L1262.9 283.2L1263.4 262.2L1263.9 282.7L1264.4 261.7L1264.9 281.1L1265.4 262.2L1265.9 282.2L1266.4 262.1L1266.9 283.1L1267.4 261.8L1267.9 284.5L1268.4 261.2L1268.9 278.7L1269.4 258.4L1269.9 279.7L1270.4 262.4L1270.9 279.6L1271.4 260.4L1271.9 284.5L1272.4 263.0L1272.9 279.7L1273.4 265.8L1273.9 280.3L1274.4 266.5L1274.9 286.3L1275.4 266.3L1275.9 281.6L1276.4 266.6L1276.9 282.5L1277.4 266.1L1277.9 277.2L1278.4 255.5L1278.9 276.6L1279.4 258.2L1279.9 276.6L1280.4 262.5L1280.9 278.6L1281.4 263.6L1281.9 282.9L1282.4 262.1L1282.9 281.1L1283.4 253.5L1283.9 279.2L1284.4 254.1L1284.9 273.6L1285.4 252.6L1285.9 270.3L1286.4 244.7L1286.9 270.1L1287.4 247.6L1287.9 272.3L1288.4 247.6L1288.9 272.8L1289.4 246.6L1289.9 271.8L1290.4 246.4L1290.9 275.0L1291.4 245.7L1291.9 267.3L1292.4 243.7L1292.9 268.0L1293.4 249.2L1293.9 267.1L1294.4 250.9L1294.9 265.9L1295.4 251.0L1295.9 267.2L1296.4 251.3L1296.9 267.5L1297.4 250.2L1297.9 265.6L1298.4 242.0L1298.9 262.4L1299.4 246.7L1299.9 262.1L1300.4 249.9L1300.9 262.1L1301.4 250.7L1301.9 264.7L1302.4 243.1L1302.9 265.9L1303.4 254.1L1303.9 276.3L1304.4 253.6L1304.9 268.3L1305.4 246.7L1305.9 269.5L1306.4 252.9L1306.9 270.3L1307.4 258.1L1307.9 275.7L1308.4 253.8L1308.9 275.6L1309.4 259.9L1309.9 275.9L1310.4 252.2L1310.9 271.8L1311.4 260.7L1311.9 271.4L1312.4 255.1L1312.9 278.5L1313.4 252.5L1313.9 280.7L1314.4 255.6L1315.2 360.0L1315.7 371.2L1316.2 359.4L1316.7 373.4L1317.2 356.3L1317.7 376.6L1318.2 353.3L1318.7 376.6L1319.2 352.6L1319.7 373.2L1320.2 348.0L1320.7 374.6L1321.2 358.3L1321.7 375.2L1322.2 358.0L1322.7 372.6L1323.2 357.7L1323.7 371.8L1324.2 346.3L1324.7 377.8L1325.2 348.4L1325.7 376.8L1326.2 350.4L1326.7 365.7L1327.2 346.8L1327.7 365.5L1328.2 349.7L1328.7 364.4L1329.2 349.6L1329.7 366.3L1330.2 352.2L1330.7 367.1L1331.2 350.4L1331.7 366.1L1332.2 348.8L1332.7 363.7L1333.2 349.4L1333.7 368.4L1334.2 350.7L1334.7 361.3L1335.2 350.3L1335.7 366.9L1336.2 351.7L1336.7 365.4L1337.2 351.7L1337.7 364.1L1338.2 350.0L1338.7 362.3L1339.2 349.7L1339.7 360.5L1340.2 341.0L1340.7 359.9L1341.2 343.7L1341.7 360.1L1342.2 336.0L1342.7 361.3L1343.2 339.6L1343.7 362.3L1344.2 334.1L1344.7 355.8L1345.2 338.9L1345.7 355.7L1346.2 340.9L1346.7 358.6L1347.2 339.3L1347.7 358.7L1348.2 339.0L1348.7 355.9L1349.2 339.4L1349.7 353.7L1350.2 341.8L1350.7 354.3L1351.2 342.6L1351.7 353.3L1352.2 340.5L1352.7 353.0L1353.2 337.7L1353.7 355.8L1354.2 336.3L1354.7 352.3L1355.2 336.7L1355.7 350.8L1356.2 336.7L1356.7 350.7L1357.2 332.8L1357.7 350.0L1358.2 329.1L1358.7 356.6L1359.2 336.7L1359.7 350.2L1360.2 336.6L1360.7 349.6L1361.2 325.6L1361.7 351.8L1362.2 328.0L1362.7 354.0L1363.2 336.8L1363.7 354.4L1364.2 337.3L1364.7 352.4L1365.2 337.1L1365.7 350.3L1366.2 331.8L1366.7 350.5L1367.2 325.1L1367.7 350.4L1368.2 322.4L1368.7 344.5L1369.2 315.1L1369.7 346.7L1370.2 318.6L1370.7 344.6L1371.2 319.0L1371.7 340.2L1372.2 320.7L1372.7 340.9L1373.2 320.5L1373.7 344.1L1374.2 320.2L1374.7 337.5L1375.2 320.3L1375.7 338.0L1376.2 322.3L1376.7 339.1L1377.2 322.7L1377.7 344.7L1378.2 321.4L1378.7 345.9L1379.2 330.4L1379.7 351.4L1380.2 332.8L1380.7 357.2L1381.2 335.2L1381.7 358.9L1382.2 335.4L1382.7 360.8L1383.2 334.2L1383.7 359.7L1384.2 336.8L1384.7 362.3L1385.2 340.1L1385.7 362.4L1386.2 343.3L1386.7 366.5L1387.2 344.1L1387.7 358.7L1388.2 344.1L1388.7 361.1L1389.2 335.5L1389.7 366.8L1390.2 335.7L1390.7 356.5L1391.2 340.0L1391.7 355.1L1392.2 339.4L1392.7 355.2L1393.2 340.6L1393.7 355.4L1394.2 335.8L1394.7 356.3L1395.2 341.1L1395.7 360.7L1396.2 341.4L1396.7 355.6L1397.2 335.5L1397.7 356.8L1398.2 336.2L1398.7 357.2L1399.2 337.7L1399.7 358.0L1400.2 333.5L1400.7 358.2L1401.2 341.1L1401.7 358.1L1402.2 337.1L1402.7 359.3L1403.2 344.5L1403.7 361.1L1404.2 342.9L1404.7 360.5L1405.2 340.0L1405.7 357.3L1406.2 337.8L1406.7 358.4L1407.2 336.7L1407.7 363.8L1408.2 341.2L1408.7 358.8L1409.2 341.5L1409.7 353.6L1410.2 334.3L1410.7 358.1L1411.2 339.0L1411.7 362.5L1412.2 329.8L1412.7 353.4L1413.2 339.4L1413.7 351.9L1414.2 338.5L1414.7 350.9L1415.2 339.4L1415.7 351.1L1416.2 338.8L1416.7 353.7L1417.2 335.2L1417.7 352.8L1418.2 334.0L1418.7 357.6L1419.2 335.2L1419.7 350.5L1420.2 329.5L1420.7 355.7L1421.2 324.7L1421.7 357.1L1422.2 326.0L1422.7 356.7L1423.2 326.4L1423.7 360.3L1424.2 334.4L1424.7 352.3L1425.2 334.2L1425.7 356.4L1426.2 320.9L1426.7 349.9L1427.2 329.7L1427.7 351.3L1428.2 321.2L1428.7 350.4L1429.2 319.6L1429.7 349.4L1430.2 325.2L1430.7 347.8L1431.2 324.8L1431.7 348.2L1432.2 325.9L1432.7 353.0L1433.2 316.8L1433.7 344.7L1434.2 322.5L1434.7 354.6L1435.2 320.7L1435.7 356.5L1436.2 321.9L1436.7 346.6L1437.2 320.7L1437.7 352.4L1438.2 322.4L1438.7 348.0L1439.2 316.6L1439.7 345.0L1440.2 323.4L1440.7 344.2L1441.2 321.3L1441.7 342.8L1442.2 321.1L1442.7 337.6L1443.2 315.3L1443.7 335.6L1444.2 320.9L1444.7 342.8L1445.2 312.2L1445.7 341.7L1446.2 319.1L1446.7 342.0L1447.2 320.8L1447.7 340.2L1448.2 317.7L1448.7 331.3L1449.2 316.7L1449.7 333.3L1450.2 320.5L1450.7 342.8L1451.2 324.1L1451.7 343.3L1452.2 324.8L1452.7 350.3L1453.2 336.3L1453.7 353.1L1454.2 336.4L1454.7 348.3L1455.2 334.4L1455.7 354.8L1456.2 330.3L1456.7 347.4L1457.2 325.6L1457.7 344.4L1458.2 326.7L1458.7 353.0L1459.2 324.1L1459.7 353.5L1460.2 326.1L1460.7 350.1L1461.2 326.6L1461.7 352.2L1462.2 329.5L1462.7 353.5L1463.2 335.2L1463.7 353.3L1464.2 334.7L1464.7 347.0L1465.2 327.9L1465.7 349.7L1466.2 320.9L1466.7 340.8L1467.2 322.2L1467.7 340.8L1468.2 322.2L1468.7 346.7L1469.2 322.9L1469.7 339.3L1470.2 325.4L1470.7 342.2L1471.2 327.6L1471.7 349.3L1472.2 324.6L1472.7 344.5L1473.2 328.7L1473.7 346.3L1474.2 326.2L1474.7 344.3L1475.2 329.7L1475.7 342.4L1476.2 327.7L1476.7 341.9L1477.2 327.0L1477.7 342.5L1478.2 320.2L1478.7 348.7L1479.2 326.0L1479.7 341.2L1480.2 319.5L1480.7 350.9L1481.2 316.0L1481.7 349.9L1482.2 315.1L1482.7 341.4L1483.2 322.0L1483.7 342.9L1484.2 319.5L1484.7 344.3L1485.2 321.6L1485.7 342.9L1486.2 321.8L1486.7 340.6L1487.2 318.8L1487.7 342.4L1488.2 317.5L1488.7 341.7L1489.2 320.8L1489.7 351.3L1490.2 317.8L1490.7 352.5L1491.2 329.1L1491.7 346.9L1492.2 327.3L1492.7 346.5L1493.2 321.7L1493.7 343.5L1494.2 320.2L1494.7 347.4L1495.2 319.5L1495.7 342.0L1496.2 313.7L1496.7 338.8L1497.2 323.2L1497.7 343.2L1498.2 322.9L1498.7 342.9L1499.2 322.3L1499.7 337.0L1500.2 319.3L1500.7 337.7L1501.2 315.5L1501.7 337.6L1502.2 317.0L1502.7 337.6L1503.2 319.5L1503.7 337.8L1504.2 316.0L1504.7 335.1L1505.2 318.0L1505.7 334.2L1506.2 316.4L1506.7 332.5L1507.2 314.0L1507.7 330.8L1508.2 310.1L1508.7 329.1L1509.2 311.8L1509.7 326.6L1510.2 308.6L1510.7 325.8L1511.2 302.3L1511.7 323.6L1512.2 306.9L1512.7 322.9L1513.2 307.6L1513.7 324.5L1514.2 309.1L1514.7 325.5L1515.2 303.9L1515.7 324.5L1516.2 313.7L1516.7 326.6L1517.2 314.1L1517.7 327.6L1518.2 315.6L1518.7 331.8L1519.2 317.1L1519.7 335.9L1520.2 319.8L1520.7 338.3L1521.2 311.9L1521.7 338.4L1522.2 311.8L1522.7 335.7L1523.2 317.0L1523.7 336.7L1524.2 317.6L1524.7 338.0L1525.2 319.7L1525.7 342.5L1526.2 324.0L1526.7 338.9L1527.2 323.2L1527.7 337.4L1528.2 317.7L1528.7 334.9L1529.2 321.1L1529.7 334.7L1530.2 318.0L1530.7 334.7L1531.2 317.5L1531.7 334.1L1532.2 319.6L1532.7 331.3L1533.2 319.6L1533.7 328.8L1534.2 309.4L1534.7 337.7L1535.2 310.2L1535.7 330.8L1536.2 315.7L1536.7 332.9L1537.2 316.6L1537.7 331.7L1538.2 311.9L1538.7 335.8L1539.2 311.7L1539.7 336.0L1540.2 312.5L1540.7 330.4L1541.2 315.1L1541.7 330.0L1542.2 315.3L1542.7 327.1L1543.2 315.9L1543.7 325.9L1544.2 314.2L1544.7 324.6L1545.2 311.0L1545.7 329.1L1546.2 310.8L1546.7 330.8L1547.2 309.8L1547.7 321.2L1548.2 297.8L1548.7 321.0L1549.2 295.5L1549.7 320.8L1550.2 299.4L1550.7 317.5L1551.2 295.4L1551.7 317.0L1552.2 294.5L1552.7 324.7L1553.2 301.4L1553.7 322.4L1554.2 300.9L1554.7 321.4L1555.2 301.5L1555.7 320.7L1556.2 302.2L1556.7 319.5L1557.2 302.0L1557.7 316.5L1558.2 302.3L1558.7 314.9L1559.2 295.9L1559.7 315.5L1560.2 299.2L1560.7 316.7L1561.2 297.5L1561.7 318.8L1562.2 296.6L1562.7 314.0L1563.2 297.3L1563.7 312.9L1564.2 291.3L1564.7 313.2L1565.2 292.7L1565.7 317.7L1566.2 291.9L1566.7 311.7L1567.2 292.1L1567.7 319.2L1568.2 294.2L1568.7 315.2L1569.2 293.5L1569.7 313.8L1570.2 291.1L1570.7 310.6L1571.2 296.9L1571.7 310.1L1572.2 293.0L1572.7 309.9L1573.2 296.2L1573.7 310.7L1574.2 293.7L1574.7 317.0L1575.2 287.7L1575.7 305.8L1576.2 291.3L1576.7 303.3L1577.2 293.3L1577.7 301.5L1578.2 285.7L1578.7 298.8L1579.2 289.4L1579.7 304.9L1580.2 290.7L1580.7 302.8L1581.2 291.2L1581.7 307.1L1582.2 290.4L1582.7 307.8L1583.2 287.2L1583.7 311.5L1584.2 285.7L1584.7 306.8L1585.2 283.7L1585.7 307.5L1586.2 288.8L1586.7 310.8L1587.2 289.6L1587.7 307.2L1588.2 292.8L1588.7 306.3L1589.2 294.7L1589.7 314.9L1590.2 300.5L1590.7 318.6L1591.2 306.3L1591.7 323.4L1592.2 309.0L1592.7 326.2L1593.2 308.0L1593.7 322.2L1594.2 306.5L1594.7 322.9L1595.2 305.5L1595.7 328.4L1596.2 307.2L1596.7 323.0L1597.2 305.7L1597.7 329.3L1598.2 304.7L1598.7 328.7L1599.2 306.5L1599.7 320.3L1600.2 308.2L1600.7 323.4L1601.2 299.7L1601.7 326.8L1602.2 301.7L1602.7 321.6L1603.2 300.1L1603.7 320.0L1604.2 300.5L1604.7 316.2L1605.2 299.8L1605.7 312.8L1606.2 297.5L1606.7 311.2L1607.2 294.4L1607.7 310.6L1608.2 292.6L1608.7 314.9L1609.2 290.0L1609.7 315.2L1610.2 294.5L1610.7 319.0L1611.2 294.0L1611.7 315.5L1612.2 298.1L1612.7 314.3L1613.2 297.4L1613.7 316.2L1614.2 294.0L1614.7 318.2L1615.2 294.3L1615.7 315.9L1616.2 295.5L1616.7 313.4L1617.2 296.1L1617.7 313.5L1618.2 294.4L1618.7 313.0L1619.2 286.1L1619.7 312.2L1620.2 291.2L1620.7 316.1L1621.2 290.0L1621.7 315.3L1622.2 283.4L1622.7 316.9L1623.2 288.7L1623.7 310.0L1624.2 284.0L1624.7 310.4L1625.2 284.8L1625.7 305.0L1626.2 287.9L1626.7 302.5L1627.2 283.2L1627.7 300.4L1628.2 289.8L1628.7 307.7L1629.2 290.5L1629.7 301.8L1630.2 284.7L1630.7 299.7L1631.2 289.7L1631.7 298.5L1632.2 288.8L1632.7 298.6L1633.2 286.9L1633.7 297.6L1634.2 282.3L1634.7 296.9L1635.2 282.6L1635.7 296.5L1636.2 281.4L1636.7 297.8L1637.2 281.1L1637.7 296.0L1638.2 280.8L1638.7 295.4L1639.2 276.4L1639.7 297.7L1640.2 279.2L1640.7 294.2L1641.2 279.6L1641.7 292.7L1642.2 278.1L1642.7 292.5L1643.2 272.8L1643.7 291.1L1644.2 272.3L1644.7 290.0L1645.2 277.2L1645.7 288.9L1646.2 275.4L1646.7 287.2L1647.2 270.6L1647.7 286.8L1648.2 267.7L1648.7 291.2L1649.2 266.6L1649.7 287.4L1650.2 263.2L1650.7 289.6L1651.2 263.0L1651.7 287.4L1652.2 269.9L1652.7 289.2L1653.2 268.2L1653.7 290.9L1654.2 266.4L1654.7 291.3L1655.2 271.1L1655.7 290.6L1656.2 271.4L1656.7 291.3L1657.2 273.9L1658.0 389.9L1658.5 405.4L1659.0 388.9L1659.5 413.2L1660.0 393.4L1660.5 411.2L1661.0 389.4L1661.5 414.3L1662.0 386.4L1662.5 406.3L1663.0 388.1L1663.5 408.1L1664.0 388.1L1664.5 405.7L1665.0 390.0L1665.5 403.9L1666.0 387.4L1666.5 406.0L1667.0 390.1L1667.5 406.2L1668.0 389.6L1668.5 411.0L1669.0 389.0L1669.5 402.3L1670.0 387.9L1670.5 402.7L1671.0 387.3L1671.5 402.7L1672.0 387.1L1672.5 401.2L1673.0 388.3L1673.5 401.1L1674.0 389.1L1674.5 403.4L1675.0 386.4L1675.5 402.8L1676.0 386.5L1676.5 405.9L1677.0 382.2L1677.5 405.9L1678.0 389.9L1678.5 408.4L1679.0 381.6L1679.5 404.3L1680.0 384.2L1680.5 405.7L1681.0 388.0L1681.5 405.5L1682.0 387.2L1682.5 405.6L1683.0 388.4L1683.5 402.5L1684.0 385.3L1684.5 400.9L1685.0 385.8L1685.5 401.0L1686.0 383.0L1686.5 400.1L1687.0 385.8L1687.5 399.6L1688.0 387.0L1688.5 398.4L1689.0 379.5L1689.5 397.6L1690.0 381.4L1690.5 397.5L1691.0 385.5L1691.5 402.5L1692.0 385.1L1692.5 401.3L1693.0 383.6L1693.5 399.3L1694.0 375.8L1694.5 401.4L1695.0 379.0L1695.5 396.0L1696.0 381.0L1696.5 404.0L1697.0 381.6L1697.5 396.7L1698.0 382.8L1698.5 398.7L1699.0 383.2L1699.5 399.6L1700.0 371.8L1700.5 400.2L1701.0 379.9L1701.5 401.7L1702.0 379.9L1702.5 399.3L1703.0 376.5L1703.5 404.1L1704.0 379.7L1704.5 399.5L1705.0 378.2L1705.5 403.2L1706.0 378.5L1706.5 397.8L1707.0 382.9L1707.5 400.4L1708.0 383.6L1708.5 401.3L1709.0 381.6L1709.5 394.1L1710.0 378.5L1710.5 399.0L1711.0 374.2L1711.5 392.8L1712.0 372.0L1712.5 394.1L1713.0 368.1L1713.5 392.6L1714.0 370.2L1714.5 389.5L1715.0 370.0L1715.5 393.6L1716.0 368.6L1716.5 391.6L1717.0 368.7L1717.5 390.1L1718.0 370.1L1718.5 385.5L1719.0 368.0L1719.5 383.6L1720.0 367.7L1720.5 384.2L1721.0 367.8L1721.5 389.1L1722.0 368.4L1722.5 384.2L1723.0 371.4L1723.5 382.3L1724.0 366.4L1724.5 383.9L1725.0 368.1L1725.5 387.1L1726.0 367.4L1726.5 387.9L1727.0 374.9L1727.5 389.2L1728.0 376.3L1728.5 391.2L1729.0 376.4L1729.5 392.8L1730.0 373.7L1730.5 397.8L1731.0 372.6L1731.5 392.9L1732.0 373.3L1732.5 394.5L1733.0 376.3L1733.5 395.9L1734.0 373.0L1734.5 399.1L1735.0 370.6L1735.5 390.7L1736.0 379.1L1736.5 391.6L1737.0 375.5L1737.5 396.9L1738.0 372.4L1738.5 390.1L1739.0 368.5L1739.5 390.8L1740.0 373.3L1740.5 390.0L1741.0 371.8L1741.5 399.9L1742.0 371.9L1742.5 388.7L1743.0 369.7L1743.5 387.5L1744.0 368.7L1744.5 388.6L1745.0 367.3L1745.5 388.0L1746.0 372.8L1746.5 388.1L1747.0 369.3L1747.5 389.5L1748.0 368.3L1748.5 388.1L1749.0 372.9L1749.5 387.1L1750.0 373.7L1750.5 387.2L1751.0 374.1L1751.5 395.5L1752.0 363.8L1752.5 390.3L1753.0 365.5L1753.5 390.4L1754.0 366.3L1754.5 389.9L1755.0 373.7L1755.5 390.0L1756.0 372.4L1756.5 389.4L1757.0 370.9L1757.5 392.8L1758.0 366.1L1758.5 383.1L1759.0 371.1L1759.5 382.8L1760.0 364.9L1760.5 382.5L1761.0 369.9L1761.5 386.7L1762.0 369.2L1762.5 385.6L1763.0 368.8L1763.5 384.0L1764.0 366.5L1764.5 384.0L1765.0 368.8L1765.5 380.4L1766.0 368.6L1766.5 379.0L1767.0 364.3L1767.5 378.8L1768.0 363.6L1768.5 380.1L1769.0 362.3L1769.5 374.2L1770.0 359.3L1770.5 374.8L1771.0 358.4L1771.5 376.4L1772.0 360.3L1772.5 379.4L1773.0 360.7L1773.5 376.3L1774.0 352.3L1774.5 380.2L1775.0 358.1L1775.5 377.6L1776.0 358.9L1776.5 373.2L1777.0 358.6L1777.5 375.9L1778.0 358.9L1778.5 371.8L1779.0 354.4L1779.5 375.0L1780.0 354.6L1780.5 371.3L1781.0 353.7L1781.5 372.0L1782.0 348.9L1782.5 373.0L1783.0 349.3L1783.5 370.1L1784.0 344.1L1784.5 369.2L1785.0 341.6L1785.5 361.3L1786.0 347.2L1786.5 363.2L1787.0 345.1L1787.5 365.1L1788.0 346.6L1788.5 364.3L1789.0 346.6L1789.5 361.8L1790.0 343.8L1790.5 361.7L1791.0 346.5L1791.5 363.0L1792.0 350.6L1792.5 365.2L1793.0 352.4L1793.5 367.0L1794.0 350.9L1794.5 367.2L1795.0 355.0L1795.5 369.6L1796.0 352.6L1796.5 369.4L1797.0 350.5L1797.5 372.2L1798.0 357.3L1798.5 367.6L1799.0 355.6L1799.5 368.4L1800.0 353.4L1800.5 367.1L1801.0 352.9L1801.5 374.1L1802.0 346.7L1802.5 369.6L1803.0 350.8L1803.5 370.6L1804.0 353.0L1804.5 373.6L1805.0 353.1L1805.5 377.0L1806.0 352.7L1806.5 369.1L1807.0 354.6L1807.5 365.5L1808.0 352.3L1808.5 363.1L1809.0 343.4L1809.5 368.8L1810.0 346.0L1810.5 360.2L1811.0 340.2L1811.5 362.8L1812.0 343.4L1812.5 359.4L1813.0 343.4L1813.5 360.2L1814.0 341.9L1814.5 360.5L1815.0 345.1L1815.5 360.6L1816.0 341.4L1816.5 357.5L1817.0 346.5L1817.5 357.4L1818.0 345.6L1818.5 360.2L1819.0 344.1L1819.5 361.5L1820.0 337.6L1820.5 361.0L1821.0 334.3L1821.5 362.7L1822.0 339.3L1822.5 355.8L1823.0 339.6L1823.5 356.1L1824.0 342.0L1824.5 359.3L1825.0 341.3L1825.5 358.9L1826.0 339.9L1826.5 356.6L1827.0 339.2L1827.5 358.1L1828.0 339.4L1828.5 358.5L1829.0 340.0L1829.5 363.5L1830.0 340.3L1830.5 354.9L1831.0 338.0L1831.5 357.2L1832.0 336.0L1832.5 363.7L1833.0 341.8L1833.5 356.8L1834.0 344.1L1834.5 362.0L1835.0 334.3L1835.5 360.2L1836.0 342.7L1836.5 359.4L1837.0 342.5L1837.5 358.2L1838.0 343.0L1838.5 358.0L1839.0 341.0L1839.5 357.3L1840.0 332.4L1840.5 356.5L1841.0 339.8L1841.5 356.4L1842.0 332.1L1842.5 355.5L1843.0 332.4L1843.5 351.8L1844.0 335.2L1844.5 354.4L1845.0 330.5L1845.5 348.7L1846.0 329.5L1846.5 345.9L1847.0 335.7L1847.5 344.8L1848.0 328.2L1848.5 345.0L1849.0 331.6L1849.5 349.8L1850.0 327.0L1850.5 340.0L1851.0 325.6L1851.5 340.7L1852.0 325.3L1852.5 340.6L1853.0 324.5L1853.5 338.6L1854.0 324.6L1854.5 346.8L1855.0 323.4L1855.5 337.4L1856.0 322.5L1856.5 343.4L1857.0 317.4L1857.5 340.8L1858.0 324.7L1858.5 337.8L1859.0 322.9L1859.5 335.9L1860.0 322.2L1860.5 343.6L1861.0 322.8L1861.5 341.3L1862.0 320.8L1862.5 340.4L1863.0 326.8L1863.5 341.4L1864.0 330.3L1864.5 351.3L1865.0 330.9L1865.5 348.0L1866.0 334.9L1866.5 353.6L1867.0 329.6L1867.5 350.4L1868.0 336.7L1868.5 349.0L1869.0 331.6L1869.5 355.3L1870.0 333.1L1870.5 352.5L1871.0 331.5L1871.5 354.4L1872.0 330.4L1872.5 346.2L1873.0 330.6L1873.5 352.3L1874.0 326.8L1874.5 348.0L1875.0 330.0L1875.5 342.7L1876.0 323.0L1876.5 349.4L1877.0 323.9L1877.5 340.7L1878.0 322.1L1878.5 342.4L1879.0 324.4L1879.5 343.2L1880.0 320.2L1880.5 344.2L1881.0 326.1L1881.5 343.1L1882.0 325.5L1882.5 351.3L1883.0 325.5L1883.5 347.4L1884.0 327.0L1884.5 344.8L1885.0 329.5L1885.5 347.2L1886.0 323.0L1886.5 347.1L1887.0 328.3L1887.5 345.9L1888.0 327.8L1888.5 343.3L1889.0 318.7L1889.5 342.3L1890.0 323.9L1890.5 341.0L1891.0 320.5L1891.5 341.5L1892.0 321.5L1892.5 341.0L1893.0 316.5L1893.5 338.8L1894.0 321.6L1894.5 336.6L1895.0 320.6L1895.5 344.1L1896.0 318.7L1896.5 340.4L1897.0 319.8L1897.5 337.6L1898.0 324.9L1898.5 339.8L1899.0 326.4L1899.5 338.4L1900.0 323.8L1900.5 342.0L1901.0 319.6L1901.5 337.6L1902.0 317.3L1902.5 337.8L1903.0 320.5L1903.5 334.4L1904.0 319.1L1904.5 332.7L1905.0 315.8L1905.5 330.8L1906.0 312.4L1906.5 329.4L1907.0 304.4L1907.5 329.9L1908.0 313.3L1908.5 330.9L1909.0 314.3L1909.5 328.1L1910.0 313.4L1910.5 325.4L1911.0 314.0L1911.5 324.9L1912.0 306.0L1912.5 325.0L1913.0 312.6L1913.5 324.2L1914.0 310.9L1914.5 324.1L1915.0 306.5L1915.5 326.4L1916.0 304.1L1916.5 325.3L1917.0 303.3L1917.5 323.3L1918.0 293.8L1918.5 322.8L1919.0 303.0L1919.5 322.3L1920.0 301.9L1920.5 320.9L1921.0 299.8L1921.5 320.4L1922.0 299.9L1922.5 318.5L1923.0 293.3L1923.5 314.1L1924.0 290.0L1924.5 311.3L1925.0 287.7L1925.5 315.9L1926.0 294.8L1926.5 311.7L1927.0 294.1L1927.5 318.0L1928.0 294.5L1928.5 311.8L1929.0 292.6L1929.5 315.1L1930.0 301.2L1930.5 317.9L1931.0 295.0L1931.5 321.6L1932.0 296.6L1932.5 317.0L1933.0 301.0L1933.5 320.0L1934.0 302.6L1934.5 320.9L1935.0 297.8L1935.5 319.9L1936.0 300.0L1936.5 321.7L1937.0 305.1L1937.5 323.0L1938.0 299.0L1938.5 322.9L1939.0 300.6L1939.5 319.2L1940.0 299.2L1940.5 318.7L1941.0 304.4L1941.5 318.6L1942.0 306.0L1942.5 319.6L1943.0 308.6L1943.5 330.6L1944.0 303.8L1944.5 325.5L1945.0 312.0L1945.5 325.1L1946.0 304.7L1946.5 325.6L1947.0 315.4L1947.5 328.8L1948.0 316.5L1948.5 329.5L1949.0 312.3L1949.5 331.0L1950.0 319.7L1950.5 333.0L1951.0 319.5L1951.5 333.6L1952.0 318.1L1952.5 330.0L1953.0 315.0L1953.5 332.3L1954.0 317.0L1954.5 334.2L1955.0 317.8L1955.5 331.1L1956.0 318.1L1956.5 326.0L1957.0 317.7L1957.5 326.8L1958.0 310.6L1958.5 329.2L1959.0 313.6L1959.5 331.5L1960.0 312.2L1960.5 326.5L1961.0 313.3L1961.5 335.2L1962.0 313.6L1962.5 330.3L1963.0 311.9L1963.5 334.6L1964.0 310.2L1964.5 332.4L1965.0 305.7L1965.5 328.5L1966.0 312.2L1966.5 329.2L1967.0 310.3L1967.5 329.6L1968.0 312.8L1968.5 326.0L1969.0 307.8L1969.5 324.5L1970.0 313.5L1970.5 323.4L1971.0 305.4L1971.5 329.7L1972.0 306.2L1972.5 320.3L1973.0 303.8L1973.5 317.7L1974.0 301.2L1974.5 321.0L1975.0 293.8L1975.5 317.9L1976.0 294.6L1976.5 310.5L1977.0 295.5L1977.5 309.6L1978.0 295.3L1978.5 309.6L1979.0 294.6L1979.5 312.4L1980.0 294.5L1980.5 315.1L1981.0 293.2L1981.5 310.3L1982.0 294.6L1982.5 313.2L1983.0 295.0L1983.5 313.4L1984.0 291.3L1984.5 317.1L1985.0 290.8L1985.5 316.1L1986.0 292.7L1986.5 312.8L1987.0 294.0L1987.5 304.2L1988.0 288.4L1988.5 303.4L1989.0 284.4L1989.5 303.1L1990.0 282.7L1990.5 305.9L1991.0 284.1L1991.5 309.0L1992.0 281.8L1992.5 304.3L1993.0 286.3L1993.5 307.9L1994.0 285.9L1994.5 309.5L1995.0 284.3L1995.5 301.4L1996.0 286.6L1996.5 303.4L1997.0 291.5L1997.5 307.1L1998.0 290.9L1998.5 306.3L1999.0 290.6L1999.5 308.7L2000.0 283.4L2000.5 304.2L2001.0 287.0L2001.5 303.6"/>
<text class="t" x="269.2" y="70.6" text-anchor="end">193</text>
<text class="t" x="269.2" y="272.6" text-anchor="end">192</text>
<text class="t" x="269.2" y="474.6" text-anchor="end">191</text>
<text class="t" x="282.8" y="521.8" text-anchor="middle">0</text>
<text class="t" x="556.9" y="521.8" text-anchor="middle">2000</text>
<text class="t" x="831.7" y="521.8" text-anchor="middle">4000</text>
<text class="t" x="1106.6" y="521.8" text-anchor="middle">6000</text>
<text class="t" x="1381.5" y="521.8" text-anchor="middle">8000</text>
<text class="t" x="1660.7" y="521.8" text-anchor="middle">10,000</text>
<text class="t" x="1935.5" y="521.8" text-anchor="middle">12,000</text>
<text class="t" x="2210.4" y="521.8" text-anchor="middle">14,000</text>
<text transform="rotate(-90)" font-size="57"><tspan x="-357.4" y="140.5" font-size="59">B</tspan><tspan x="-317.0" y="166.0" font-size="45">x</tspan><tspan x="-293.4" y="140.8" letter-spacing="-0.5"> [mG]</tspan></text></g>
<g><path class="g" d="M558.2 611.6V1012.1M833.0 611.6V1012.1M1107.9 611.6V1012.1M1382.8 611.6V1012.1M1657.7 611.6V1012.1M1932.5 611.6V1012.1M283.3 629.5H2207.4M283.3 757.0H2207.4M283.3 884.6H2207.4"/>
<path class="a" d="M283.3 611.6v21M283.3 1012.1v-21M558.2 611.6v21M558.2 1012.1v-21M833.0 611.6v21M833.0 1012.1v-21M1107.9 611.6v21M1107.9 1012.1v-21M1382.8 611.6v21M1382.8 1012.1v-21M1657.7 611.6v21M1657.7 1012.1v-21M1932.5 611.6v21M1932.5 1012.1v-21M2207.4 611.6v21M2207.4 1012.1v-21M283.3 629.5h21M2207.4 629.5h-21M283.3 757.0h21M2207.4 757.0h-21M283.3 884.6h21M2207.4 884.6h-21M283.3 1012.1h21M2207.4 1012.1h-21"/>
<rect class="a" x="283.3" y="611.6" width="1924.1" height="400.5"/>
<path class="d" clip-path="url(#c1)" stroke="#00ff00" d="M283.3 746.5L285.1 828.9L286.9 771.9L288.7 835.0L290.5 717.6L292.3 842.2L294.1 778.6L295.9 824.3L297.7 739.3L299.5 793.5L301.3 744.7L303.1 839.8L304.9 732.0L306.7 821.0L308.5 762.3L310.3 805.5L312.1 755.9L313.9 830.1L315.7 727.2L317.5 828.1L319.3 686.2L321.1 878.3L322.9 765.0L324.7 901.2L326.5 744.8L328.3 873.6L330.1 734.4L331.9 846.2L333.7 786.6L335.5 897.6L337.3 727.2L339.1 910.9L340.9 748.9L342.7 818.0L344.5 770.8L346.3 888.0L348.1 753.0L349.9 860.3L351.7 707.9L353.5 807.0L355.3 774.1L357.1 819.3L358.9 753.5L360.7 842.1L362.5 709.1L364.3 828.1L366.1 724.8L367.9 912.1L369.7 777.1L371.5 903.6L373.3 716.4L375.1 829.2L376.9 734.1L378.7 883.1L380.5 701.9L382.3 839.8L384.1 770.5L385.9 808.0L387.7 750.1L389.5 819.2L391.3 754.0L393.1 835.0L394.9 766.1L396.7 839.1L398.5 722.4L400.3 862.7L402.1 783.1L403.9 848.1L405.7 750.1L407.5 817.8L409.3 704.3L411.1 847.0L412.9 748.7L414.7 835.5L416.5 711.5L418.3 908.5L420.1 787.3L421.9 877.1L423.7 757.3L425.5 823.4L427.3 767.7L429.1 936.2L430.9 679.0L432.7 873.4L434.5 806.3L436.3 955.4L438.1 753.3L439.9 826.7L441.7 751.3L443.5 942.2L445.3 754.9L447.1 884.9L448.9 794.6L450.7 877.1L452.5 699.5L454.3 805.5L456.1 783.4L457.9 877.1L459.7 789.8L461.5 814.0L463.3 722.4L465.1 800.7L466.9 727.2L468.7 865.1L470.5 753.1L472.3 837.6L474.1 782.1L475.9 832.5L477.7 769.8L479.5 815.2L481.3 769.4L483.1 868.7L484.9 778.3L486.7 841.9L488.5 753.7L490.3 853.0L492.1 748.8L493.9 810.2L495.7 717.6L497.5 828.9L499.3 686.2L501.1 806.2L502.9 663.4L504.7 861.0L506.5 730.1L508.3 906.0L510.1 760.9L511.9 854.2L513.7 704.3L515.5 849.8L517.3 752.9L519.1 890.4L520.9 698.3L522.7 861.5L524.5 749.9L526.3 856.6L528.1 724.8L529.9 832.7L531.7 759.6L533.5 850.4L535.3 770.6L537.1 901.2L538.9 786.7L540.7 853.2L542.5 663.4L544.3 914.5L546.1 707.8L547.9 1008.5L549.7 749.5L551.5 866.0L553.3 695.9L555.1 926.5L556.9 796.0L558.7 933.8L560.5 825.8L562.3 878.7L564.1 745.3L565.9 903.1L567.7 763.5L569.5 939.8L571.3 759.7L573.1 924.1L574.9 686.2L576.7 882.4L578.5 814.3L580.3 850.4L582.1 704.3L583.9 837.4L585.7 745.4L587.5 818.1L589.3 747.7L591.1 908.5L592.9 744.4L594.7 890.4L596.5 720.0L598.3 825.7L600.1 748.3L601.9 808.1L603.7 722.4L605.5 839.8L607.3 784.0L609.1 847.0L610.9 739.3L612.7 825.1L614.5 773.4L616.3 880.7L618.1 736.9L619.9 825.7L621.7 757.0L623.5 896.4L625.3 611.5L627.1 818.6L628.9 753.5L630.7 826.5L632.5 640.5L634.3 880.7L636.1 739.4L637.9 829.7L639.7 647.7L641.5 928.9L643.3 751.0L645.1 813.8L646.9 699.5L648.7 853.0L650.5 767.0L652.3 820.7L654.1 760.9L655.9 828.9L657.7 742.9L659.5 812.1L661.3 721.0L663.1 812.8L664.9 688.7L666.7 781.4L668.5 691.1L670.3 830.1L672.1 728.6L673.9 816.8L675.7 681.4L677.5 825.3L679.3 674.0L681.1 776.1L682.9 633.2L684.7 898.8L686.5 720.0L688.3 817.7L690.1 720.1L691.9 764.1L693.7 622.4L695.5 832.5L697.3 640.5L699.1 761.6L700.9 729.6L702.7 868.7L704.5 709.7L706.3 827.5L708.1 615.2L709.9 772.4L711.7 658.5L713.5 816.9L715.3 735.7L717.1 808.3L718.9 712.8L720.7 812.0L722.5 629.6L724.3 847.0L726.1 725.3L727.9 762.9L729.7 683.8L731.5 808.6L733.3 695.9L735.1 821.7L736.9 735.1L738.7 773.3L740.5 753.7L742.3 824.4L744.1 762.0L745.9 844.6L747.7 683.8L749.5 790.8L751.3 702.4L753.1 798.3L754.9 686.2L756.7 856.6L758.5 772.8L760.3 860.3L762.1 764.0L763.9 810.5L765.7 734.4L767.5 806.1L769.3 756.5L771.1 829.8L772.9 705.5L774.7 844.6L776.5 675.4L778.3 804.0L780.1 732.5L781.9 820.5L783.7 688.7L785.5 791.9L787.3 715.8L789.1 822.9L790.9 688.7L792.7 803.7L794.5 759.5L796.3 873.5L798.1 747.7L799.9 839.9L801.7 759.5L803.5 826.5L805.3 686.2L807.1 830.1L808.9 714.3L810.7 794.2L812.5 647.7L814.3 768.3L816.1 730.6L817.9 820.5L819.7 665.8L821.5 842.2L823.3 736.8L825.1 809.0L826.9 758.5L828.7 924.1L830.5 789.3L832.3 802.8L834.1 770.6L835.9 848.2L837.7 758.0L839.5 878.3L841.3 778.4L843.1 813.1L844.9 686.7L846.7 832.2L848.5 710.7L850.3 824.1L852.1 704.3L853.9 838.0L855.7 727.2L857.5 878.3L859.3 773.5L861.1 888.7L862.9 716.9L864.7 812.7L866.5 743.4L868.3 885.6L870.1 750.1L871.9 936.6L873.7 751.5L875.5 827.7L877.3 701.9L879.1 848.1L880.9 747.7L882.7 861.5L884.5 778.7L886.3 865.8L888.1 773.0L889.9 975.2L891.7 780.1L893.5 871.4L895.3 711.5L897.1 821.1L898.9 724.8L900.7 820.5L902.5 803.4L904.3 843.1L906.1 763.4L907.9 868.7L909.7 783.3L911.5 865.1L913.3 750.1L915.1 827.7L916.9 763.8L918.7 865.1L920.5 753.7L922.3 800.6L924.1 762.2L925.9 878.3L927.7 777.2L929.5 832.1L931.3 724.8L933.1 828.9L934.9 742.5L936.7 848.2L938.5 781.6L940.3 878.3L942.1 714.7L943.9 837.4L945.7 775.4L947.5 842.2L949.3 800.7L951.1 891.1L952.9 776.6L954.7 889.2L956.5 744.1L958.3 829.5L960.1 803.0L961.9 825.3L963.7 699.5L965.5 802.8L967.3 767.5L969.1 844.0L970.9 795.9L972.7 873.5L974.5 793.8L976.3 816.8L978.1 796.6L979.9 826.8L981.7 742.9L983.5 845.8L985.3 764.9L987.1 819.1L988.9 721.9L990.7 822.1L992.5 801.3L994.3 835.0L996.1 762.9L997.9 889.2L999.7 784.1L1001.5 845.7L1003.3 799.7L1005.1 886.3L1006.9 770.6L1008.7 868.3L1010.5 799.5L1012.3 848.1L1014.1 796.2L1015.9 865.1L1017.7 788.5L1019.5 842.8L1021.3 774.2L1023.1 856.6L1024.9 802.3L1026.7 868.7L1028.5 792.0L1030.3 832.7L1032.1 785.5L1033.9 865.4L1035.7 780.1L1037.5 886.3L1039.3 790.3L1041.1 871.1L1042.9 750.1L1044.7 843.0L1046.5 771.3L1048.3 870.6L1050.1 738.3L1051.9 829.3L1053.7 691.1L1055.5 807.1L1057.3 750.7L1059.1 792.8L1060.9 729.6L1062.7 802.6L1064.5 775.1L1066.3 855.4L1068.1 758.1L1069.9 827.7L1071.7 768.5L1073.5 822.2L1075.3 748.8L1077.1 857.8L1078.9 761.3L1080.7 804.0L1082.5 714.0L1084.3 811.1L1086.1 706.7L1087.9 823.9L1089.7 722.4L1091.5 835.0L1093.3 747.5L1095.1 816.8L1096.9 711.5L1098.7 806.4L1100.5 775.1L1102.3 816.9L1104.1 762.2L1105.9 780.0L1107.7 752.4L1109.5 801.2L1111.3 727.7L1113.1 789.0L1114.9 763.9L1116.7 793.1L1118.5 765.8L1120.3 835.0L1122.1 756.8L1123.9 826.9L1125.7 714.7L1127.5 817.7L1129.3 770.1L1131.1 826.5L1132.9 762.9L1134.7 862.7L1136.5 770.6L1138.3 846.3L1140.1 796.8L1141.9 866.3L1143.7 783.1L1145.5 841.3L1147.3 760.9L1149.1 826.0L1150.9 752.5L1152.7 842.2L1154.5 778.1L1156.3 855.3L1158.1 769.7L1159.9 903.6L1161.7 802.3L1163.5 839.0L1165.3 757.3L1167.1 897.4L1168.9 809.4L1170.7 919.3L1172.5 768.2L1174.3 835.8L1176.1 790.3L1177.9 875.4L1179.7 777.8L1181.5 837.1L1183.3 789.6L1185.1 833.2L1186.9 775.9L1188.7 837.4L1190.5 788.7L1192.3 837.4L1194.1 775.5L1195.9 814.2L1197.7 771.4L1199.5 805.9L1201.3 755.4L1203.1 810.7L1204.9 788.1L1206.7 822.2L1208.5 768.2L1210.3 809.0L1212.1 779.4L1213.9 805.9L1215.7 762.9L1217.5 818.1L1219.3 776.0L1221.1 808.4L1222.9 780.2L1224.7 805.9L1226.5 776.4L1228.3 810.9L1230.1 743.6L1231.9 808.4L1233.7 758.6L1235.5 799.2L1237.3 748.4L1239.1 804.8L1240.9 749.6L1242.7 824.1L1244.5 767.1L1246.3 795.5L1248.1 769.1L1249.9 878.3L1251.7 762.0L1253.5 832.9L1255.3 757.3L1257.1 799.0L1258.9 782.3L1260.7 816.9L1262.5 768.2L1264.3 804.5L1266.1 753.7L1267.9 802.3L1269.7 768.5L1271.5 818.1L1273.3 742.4L1275.1 804.8L1276.9 754.2L1278.7 830.1L1280.5 768.9L1282.3 826.9L1284.1 768.9L1285.9 847.7L1287.7 770.6L1289.5 822.4L1291.3 771.5L1293.1 814.5L1294.9 775.1L1296.7 805.4L1298.5 754.9L1300.3 813.0L1302.1 761.4L1303.9 824.8L1305.7 774.2L1307.5 798.8L1309.3 750.1L1311.1 813.3L1312.9 769.7L1314.7 785.4L1316.5 765.7L1318.3 796.4L1320.1 727.7L1321.9 813.7L1323.7 756.1L1325.5 837.4L1327.3 745.3L1329.1 898.8L1330.9 714.7L1332.7 842.0L1334.5 759.5L1336.3 842.2L1338.1 742.9L1339.9 880.7L1341.7 757.3L1343.5 855.5L1345.3 766.0L1347.1 868.2L1348.9 774.8L1350.7 820.8L1352.5 750.1L1354.3 827.2L1356.1 788.0L1357.9 853.0L1359.7 781.0L1361.5 826.8L1363.3 756.1L1365.1 834.2L1366.9 770.5L1368.7 835.0L1370.5 763.4L1372.3 883.1L1374.1 775.8L1375.9 822.4L1377.7 768.2L1379.5 841.0L1381.3 741.7L1383.1 863.0L1384.9 761.0L1386.7 909.2L1388.5 765.8L1390.3 919.3L1392.1 788.9L1393.9 874.4L1395.7 763.8L1397.5 868.2L1399.3 792.6L1401.1 812.9L1402.9 762.9L1404.7 806.0L1406.5 766.8L1408.3 821.7L1410.1 765.7L1411.9 807.4L1413.7 740.5L1415.5 824.6L1417.3 765.8L1419.1 853.0L1420.9 772.3L1422.7 822.0L1424.5 752.5L1426.3 804.1L1428.1 750.1L1429.9 814.5L1431.7 776.4L1433.5 813.6L1435.3 762.9L1437.1 833.3L1438.9 772.9L1440.7 850.6L1442.5 770.4L1444.3 827.7L1446.1 755.4L1447.9 802.6L1449.7 777.4L1451.5 819.0L1453.3 770.6L1455.1 822.4L1456.9 773.7L1458.7 799.9L1460.5 740.0L1462.3 808.5L1464.1 769.0L1465.9 820.5L1467.7 760.9L1469.5 804.2L1471.3 771.7L1473.1 812.1L1474.9 753.7L1476.7 800.7L1478.5 760.5L1480.3 794.7L1482.1 742.9L1483.9 791.1L1485.7 764.6L1487.5 801.2L1489.3 760.9L1491.1 802.7L1492.9 763.7L1494.7 847.7L1496.5 768.3L1498.3 798.9L1500.1 742.9L1501.9 794.0L1503.7 748.2L1505.5 779.0L1507.3 724.8L1509.1 789.2L1510.9 751.1L1512.7 770.7L1514.5 742.9L1516.3 772.5L1518.1 743.5L1519.9 780.7L1521.7 716.9L1523.5 760.5L1525.3 722.4L1527.1 765.1L1528.9 727.2L1530.7 764.1L1532.5 716.9L1534.3 763.9L1536.1 738.5L1537.9 780.7L1539.7 732.7L1541.5 781.7L1543.3 734.9L1545.1 794.0L1546.9 762.9L1548.7 781.0L1550.5 755.6L1552.3 790.3L1554.1 772.1L1555.9 798.8L1557.7 757.3L1559.5 789.1L1561.3 769.7L1563.1 816.9L1564.9 776.2L1566.7 816.6L1568.5 770.6L1570.3 827.7L1572.1 781.1L1573.9 815.9L1575.7 786.2L1577.5 809.5L1579.3 777.8L1581.1 819.8L1582.9 778.2L1584.7 812.7L1586.5 783.0L1588.3 802.6L1590.1 770.6L1591.9 812.1L1593.7 786.4L1595.5 800.8L1597.3 776.3L1599.1 811.0L1600.9 762.9L1602.7 798.1L1604.5 778.6L1606.3 816.9L1608.1 775.4L1609.9 804.6L1611.7 782.1L1613.5 822.4L1615.3 773.0L1617.1 811.0L1618.9 765.3L1620.7 814.5L1622.5 783.2L1624.3 804.7L1626.1 770.6L1627.9 807.5L1629.7 782.3L1631.5 822.2L1633.3 785.6L1635.1 808.6L1636.9 781.4L1638.7 814.7L1640.5 785.4L1642.3 817.4L1644.1 770.6L1645.9 808.8L1647.7 778.6L1649.5 799.7L1651.3 765.8L1653.1 816.9L1654.9 770.4L1656.7 807.6L1658.5 768.7L1660.3 798.0L1662.1 760.9L1663.9 801.2L1665.7 782.7L1667.5 813.4L1669.3 791.1L1671.1 835.0L1672.9 794.6L1674.7 828.5L1676.5 768.2L1678.3 823.3L1680.1 779.2L1681.9 832.5L1683.7 774.2L1685.5 816.6L1687.3 788.0L1689.1 832.5L1690.9 798.1L1692.7 850.4L1694.5 788.7L1696.3 932.1L1698.1 755.6L1699.9 824.6L1701.7 794.4L1703.5 817.9L1705.3 789.9L1707.1 823.4L1708.9 795.0L1710.7 824.6L1712.5 755.4L1714.3 850.1L1716.1 794.7L1717.9 842.2L1719.7 805.6L1721.5 832.2L1723.3 803.1L1725.1 847.7L1726.9 806.0L1728.7 834.9L1730.5 801.9L1732.3 837.4L1734.1 798.1L1735.9 820.7L1737.7 775.9L1739.5 837.4L1741.3 801.6L1743.1 818.0L1744.9 775.9L1746.7 812.1L1748.5 803.8L1750.3 814.3L1752.1 785.7L1753.9 827.7L1755.7 783.1L1757.5 827.2L1759.3 799.6L1761.1 883.1L1762.9 786.2L1764.7 827.7L1766.5 799.8L1768.3 824.8L1770.1 787.3L1771.9 868.2L1773.7 773.5L1775.5 825.3L1777.3 798.1L1779.1 832.4L1780.9 789.9L1782.7 911.6L1784.5 807.8L1786.3 843.9L1788.1 801.9L1789.9 901.2L1791.7 780.6L1793.5 863.2L1795.3 747.7L1797.1 847.7L1798.9 758.5L1800.7 831.1L1802.5 764.1L1804.3 828.9L1806.1 750.1L1807.9 818.1L1809.7 785.0L1811.5 825.3L1813.3 789.9L1815.1 822.4L1816.9 801.7L1818.7 817.5L1820.5 799.2L1822.3 830.1L1824.1 792.3L1825.9 823.0L1827.7 802.0L1829.5 825.0L1831.3 788.7L1833.1 832.5L1834.9 797.4L1836.7 822.9L1838.5 783.8L1840.3 845.8L1842.1 809.1L1843.9 833.7L1845.7 807.2L1847.5 845.8L1849.3 803.1L1851.1 833.7L1852.9 788.7L1854.7 827.8L1856.5 793.4L1858.3 825.3L1860.1 801.9L1861.9 819.5L1863.7 775.4L1865.5 830.1L1867.3 787.5L1869.1 840.5L1870.9 762.9L1872.7 827.0L1874.5 785.8L1876.3 828.8L1878.1 782.6L1879.9 834.5L1881.7 785.5L1883.5 848.2L1885.3 786.5L1887.1 821.6L1888.9 765.3L1890.7 822.9L1892.5 777.8L1894.3 813.0L1896.1 786.4L1897.9 827.7L1899.7 777.8L1901.5 812.8L1903.3 797.3L1905.1 814.6L1906.9 789.2L1908.7 821.5L1910.5 783.1L1912.3 832.5L1914.1 791.5L1915.9 815.7L1917.7 783.1L1919.5 827.2L1921.3 801.2L1923.1 818.3L1924.9 798.7L1926.7 819.5L1928.5 783.1L1930.3 824.6L1932.1 797.6L1933.9 839.8L1935.7 795.9L1937.5 870.6L1939.3 795.9L1941.1 846.4L1942.9 791.1L1944.7 827.7L1946.5 775.9L1948.3 816.2L1950.1 790.3L1951.9 822.9L1953.7 795.9L1955.5 820.7L1957.3 780.7L1959.1 832.5L1960.9 787.6L1962.7 820.6L1964.5 780.2L1966.3 824.1L1968.1 799.6L1969.9 827.7L1971.7 792.7L1973.5 830.1L1975.3 791.1L1977.1 813.6L1978.9 777.8L1980.7 811.6L1982.5 781.1L1984.3 822.9L1986.1 762.9L1987.9 812.1L1989.7 784.5L1991.5 820.5L1993.3 780.2L1995.1 819.6L1996.9 778.3L1998.7 832.5L2002.0 793.5M1090.0 774.6L1090.8 790.5L1091.6 775.9L1092.4 789.7L1093.2 773.6L1094.0 784.9L1094.8 765.7L1095.6 778.6L1096.4 766.3L1097.2 781.8L1098.0 769.5L1098.8 784.9L1099.6 769.0L1100.4 780.3L1101.2 766.6L1102.0 778.2L1102.8 764.7L1103.6 777.7L1104.4 765.9L1105.2 780.0L1106.0 769.1L1106.8 780.2L1107.6 766.0L1108.4 779.2L1109.2 767.1L1110.0 781.7L1110.8 770.1L1111.6 783.9L1112.4 772.6L1113.2 785.5L1114.0 773.1L1114.8 785.4L1115.6 771.8L1116.4 786.6L1117.2 770.0L1118.0 786.9L1118.8 770.5L1119.6 786.7L1120.4 767.9L1121.2 785.9L1122.0 767.6L1122.8 787.5L1123.6 769.9L1124.4 791.1L1125.2 773.1L1126.0 795.3L1126.8 775.3L1127.6 797.4L1128.4 778.3L1129.2 800.4L1130.0 780.8L1130.8 804.7L1131.6 783.0L1132.4 808.8L1133.2 786.5L1134.0 812.5L1134.8 788.2L1135.6 815.3L1136.4 790.9L1137.2 819.2L1138.0 794.0L1138.8 825.8L1139.6 798.6L1140.4 828.8L1141.2 800.2L1142.0 825.9L1142.8 798.9L1143.6 826.0L1144.4 797.0L1145.2 821.4L1146.0 790.4L1146.8 819.0L1147.6 789.3L1148.4 819.5L1149.2 793.5L1150.0 827.6L1150.8 796.3L1151.6 831.4L1152.4 796.3L1153.2 831.5L1154.0 799.9L1154.8 831.5L1155.6 803.3L1156.4 833.8L1157.2 803.6L1158.0 842.4L1158.8 809.5L1159.6 850.8L1160.4 812.4L1161.2 845.2L1162.0 804.6L1162.8 845.4L1163.6 803.2L1164.4 840.5L1165.2 800.3L1166.0 845.4L1166.8 806.2L1167.6 847.6L1168.4 804.1L1169.2 849.2L1170.0 801.5L1170.8 855.6L1171.6 799.5L1172.4 849.5L1173.2 804.3L1174.0 842.4L1174.8 802.6L1175.6 840.5L1176.4 803.3L1177.2 835.6L1178.0 801.1L1178.8 833.2L1179.6 800.2L1180.4 829.7L1181.2 797.9L1182.0 827.8L1182.8 801.3L1183.6 826.5L1184.4 797.9L1185.2 825.8L1186.0 797.9L1186.8 820.6L1187.6 796.2L1188.4 817.5L1189.2 792.9L1190.0 816.8L1190.8 791.3L1191.6 818.9L1192.4 790.0L1193.2 816.1L1194.0 788.7L1194.8 815.5L1195.6 788.3L1196.4 813.1L1197.2 785.2L1198.0 810.2L1198.8 779.4L1199.6 806.3L1200.4 782.3L1201.2 808.7L1202.0 784.2L1202.8 806.5L1203.6 778.9L1204.4 808.7L1205.2 781.2L1206.0 807.4L1206.8 784.1L1207.6 805.1L1208.4 782.9L1209.2 803.3L1210.0 782.3L1210.8 804.9L1211.6 780.8L1212.4 803.3L1213.2 780.4L1214.0 803.9L1214.8 780.0L1215.6 803.5L1216.4 783.0L1217.2 803.0L1218.0 781.4L1218.8 802.9L1219.6 781.9L1220.4 802.8L1221.2 781.1L1222.0 801.6L1222.8 778.1L1223.6 802.4L1224.4 777.6L1225.2 799.8L1226.0 773.5L1226.8 801.5L1227.6 775.8L1228.4 799.1L1229.2 770.6L1230.0 795.9L1230.8 772.3L1231.6 799.7L1232.4 768.7L1233.2 800.8L1234.0 768.5L1234.8 804.2L1235.6 767.4L1236.4 802.9L1237.2 764.5L1238.0 801.4L1238.8 765.1L1239.6 804.8L1240.4 766.0L1241.2 808.3L1242.0 770.5L1242.8 809.8L1243.6 771.2L1244.4 810.9L1245.2 770.5L1246.0 817.3L1246.8 768.0L1247.6 814.7L1248.4 775.4L1249.2 815.3L1250.0 777.8L1250.8 818.1L1251.6 780.2L1252.4 823.3L1253.2 779.6L1254.0 817.7L1254.8 771.4L1255.6 820.1L1256.4 773.8L1257.2 813.3L1258.0 775.6L1258.8 806.2L1259.6 774.2L1260.4 803.4L1261.2 774.0L1262.0 803.5L1262.8 772.0L1263.6 801.1L1264.4 766.8L1265.2 799.7L1266.0 771.4L1266.8 804.6L1267.6 769.3L1268.4 799.9L1269.2 768.1L1270.0 799.2L1270.8 768.3L1271.6 799.7L1272.4 768.2L1273.2 798.6L1274.0 767.1L1274.8 807.2L1275.6 770.8L1276.4 811.2L1277.2 770.8L1278.0 814.4L1278.8 775.3L1279.6 819.1L1280.4 775.7L1281.2 815.3L1282.0 775.3L1282.8 812.6L1283.6 774.4L1284.4 814.7L1285.2 780.3L1286.0 817.7L1286.8 782.4L1287.6 817.2L1288.4 778.6L1289.2 817.4L1290.0 780.3L1290.8 818.7L1291.6 781.1L1292.4 814.1L1293.2 775.4L1294.0 807.5L1294.8 772.6L1295.6 805.8L1296.4 772.2L1297.2 808.3L1298.0 768.2L1298.8 807.0L1299.6 770.4L1300.4 806.6L1301.2 768.5L1302.0 805.6L1302.8 768.8L1303.6 802.0L1304.4 766.3L1305.2 801.4L1306.0 768.6L1306.8 803.4L1307.6 764.8L1308.4 801.9L1309.2 761.1L1310.0 802.9L1310.8 762.4L1311.6 799.9L1312.4 761.9L1313.2 801.9L1314.0 761.6L1314.8 802.1L1315.6 761.6L1316.4 803.7L1317.2 762.4L1318.0 802.8L1318.8 751.2L1319.6 803.9L1320.4 748.6L1321.2 803.7L1322.0 749.1L1322.8 805.7L1323.6 752.9L1324.4 805.7L1325.2 762.3L1326.0 812.0L1326.8 767.0L1327.6 817.6L1328.4 763.7L1329.2 814.7L1330.0 775.7L1330.8 823.1L1331.6 773.8L1332.4 825.7L1333.2 775.3L1334.0 825.3L1334.8 775.1L1335.6 833.1L1336.4 780.1L1337.2 832.9L1338.0 781.2L1338.8 827.4L1339.6 778.4L1340.4 823.8L1341.2 776.7L1342.0 826.2L1342.8 780.8L1343.6 836.2L1344.4 782.7L1345.2 835.9L1346.0 781.0L1346.8 834.4L1347.6 776.8L1348.4 832.7L1349.2 780.4L1350.0 827.0L1350.8 775.0L1351.6 830.9L1352.4 778.4L1353.2 831.6L1354.0 773.7L1354.8 828.7L1355.6 774.0L1356.4 822.9L1357.2 771.8L1358.0 819.8L1358.8 776.6L1359.6 827.7L1360.4 776.8L1361.2 828.7L1362.0 772.7L1362.8 829.5L1363.6 770.1L1364.4 828.1L1365.2 775.2L1366.0 831.6L1366.8 773.5L1367.6 826.1L1368.4 773.3L1369.2 829.9L1370.0 774.7L1370.8 831.6L1371.6 782.7L1372.4 831.2L1373.2 782.0L1374.0 839.0L1374.8 785.2L1375.6 831.3L1376.4 791.2L1377.2 832.8L1378.0 787.6L1378.8 835.5L1379.6 792.3L1380.4 840.6L1381.2 795.6L1382.0 841.9L1382.8 801.5L1383.6 851.1L1384.4 808.4L1385.2 855.2L1386.0 803.6L1386.8 854.4L1387.6 807.2L1388.4 851.7L1389.2 802.2L1390.0 850.4L1390.8 801.5L1391.6 854.1L1392.4 800.5L1393.2 856.6L1394.0 803.1L1394.8 852.4L1395.6 803.5L1396.4 844.7L1397.2 791.2L1398.0 844.4L1398.8 782.8L1399.6 833.7L1400.4 777.4L1401.2 831.6L1402.0 773.5L1402.8 821.1L1403.6 774.5L1404.4 819.9L1405.2 768.5L1406.0 818.8L1406.8 769.0L1407.6 818.0L1408.4 767.8L1409.2 814.2L1410.0 770.1L1410.8 812.2L1411.6 769.5L1412.4 813.9L1413.2 760.7L1414.0 811.5L1414.8 762.2L1415.6 814.1L1416.4 765.8L1417.2 820.7L1418.0 762.1L1418.8 818.0L1419.6 762.5L1420.4 813.6L1421.2 762.8L1422.0 813.8L1422.8 766.5L1423.6 817.6L1424.4 768.2L1425.2 816.4L1426.0 773.9L1426.8 817.7L1427.6 776.7L1428.4 822.9L1429.2 773.2L1430.0 823.2L1430.8 772.3L1431.6 817.5L1432.4 770.4L1433.2 817.0L1434.0 771.9L1434.8 821.2L1435.6 771.7L1436.4 825.1L1437.2 766.5L1438.0 823.8L1438.8 766.3L1439.6 821.9L1440.4 762.8L1441.2 818.2L1442.0 767.4L1442.8 820.5L1443.6 774.7L1444.4 820.1L1445.2 775.0L1446.0 825.9L1446.8 765.3L1447.6 824.2L1448.4 763.8L1449.2 818.0L1450.0 771.7L1450.8 819.5L1451.6 770.4L1452.4 815.5L1453.2 763.2L1454.0 812.1L1454.8 760.7L1455.6 815.6L1456.4 763.6L1457.2 813.8L1458.0 766.1L1458.8 813.8L1459.6 766.4L1460.4 814.2L1461.2 763.5L1462.0 809.5L1462.8 765.7L1463.6 808.0L1464.4 765.5L1465.2 812.1L1466.0 758.4L1466.8 810.4L1467.6 759.9L1468.4 810.3L1469.2 754.3L1470.0 813.4L1470.8 755.4L1471.6 805.1L1472.4 754.4L1473.2 807.3L1474.0 753.5L1474.8 810.8L1475.6 752.6L1476.4 807.7L1477.2 753.2L1478.0 806.7L1478.8 756.9L1479.6 807.4L1480.4 760.4L1481.2 804.1L1482.0 761.3L1482.8 801.6L1483.6 758.2L1484.4 798.5L1485.2 758.1L1486.0 803.2L1486.8 762.4L1487.6 799.2L1488.4 758.9L1489.2 801.5L1490.0 759.7L1490.8 805.4L1491.6 759.7L1492.4 805.7L1493.2 761.9L1494.0 801.7L1494.8 756.8L1495.6 803.0L1496.4 756.9L1497.2 799.0L1498.0 754.0L1498.8 796.3L1499.6 755.5L1500.4 792.3L1501.2 754.8L1502.0 786.4L1502.8 750.1L1503.6 788.7L1504.4 743.6L1505.2 783.0L1506.0 741.5L1506.8 779.3L1507.6 737.1L1508.4 783.0L1509.2 738.5L1510.0 784.3L1510.8 737.2L1511.6 783.4L1512.4 739.3L1513.2 785.1L1514.0 737.0L1514.8 782.2L1515.6 733.8L1516.4 777.1L1517.2 732.7L1518.0 776.1L1518.8 732.7L1519.6 773.1L1520.4 726.0L1521.2 766.2L1522.0 727.6L1522.8 767.1L1523.6 724.2L1524.4 770.9L1525.2 727.5L1526.0 769.5L1526.8 728.4L1527.6 769.3L1528.4 723.6L1529.2 769.9L1530.0 725.8L1530.8 772.8L1531.6 731.1L1532.4 770.9L1533.2 730.6L1534.0 775.3L1534.8 733.6L1535.6 779.6L1536.4 732.0L1537.2 774.6L1538.0 732.4L1538.8 774.8L1539.6 736.2L1540.4 785.2L1541.2 739.9L1542.0 785.5L1542.8 742.8L1543.6 786.9L1544.4 745.3L1545.2 787.0L1546.0 747.9L1546.8 791.8L1547.6 751.7L1548.4 795.5L1549.2 756.1L1550.0 793.6L1550.8 754.0L1551.6 790.4L1552.4 755.6L1553.2 792.9L1554.0 759.7L1554.8 798.0L1555.6 761.8L1556.4 799.7L1557.2 760.1L1558.0 805.3L1558.8 760.3L1559.6 803.1L1560.4 763.0L1561.2 802.6L1562.0 768.9L1562.8 808.6L1563.6 774.6L1564.4 814.2L1565.2 772.6L1566.0 812.1L1566.8 771.8L1567.6 813.4L1568.4 778.1L1569.2 820.8L1570.0 774.3L1570.8 814.6L1571.6 776.7L1572.4 817.6L1573.2 775.5L1574.0 818.6L1574.8 778.3L1575.6 814.9L1576.4 780.3L1577.2 816.9L1578.0 782.8L1578.8 815.9L1579.6 779.8L1580.4 816.7L1581.2 779.7L1582.0 815.5L1582.8 780.1L1583.6 811.9L1584.4 778.7L1585.2 814.1L1586.0 772.9L1586.8 811.0L1587.6 774.8L1588.4 813.5L1589.2 775.3L1590.0 811.0L1590.8 776.9L1591.6 810.4L1592.4 776.2L1593.2 811.6L1594.0 773.7L1594.8 812.6L1595.6 774.8L1596.4 809.3L1597.2 775.4L1598.0 807.9L1598.8 772.8L1599.6 811.5L1600.4 770.5L1601.2 808.8L1602.0 776.4L1602.8 810.7L1603.6 775.7L1604.4 811.8L1605.2 773.8L1606.0 813.5L1606.8 769.8L1607.6 812.6L1608.4 774.1L1609.2 808.2L1610.0 773.5L1610.8 813.1L1611.6 773.4L1612.4 816.7L1613.2 775.3L1614.0 812.2L1614.8 772.9L1615.6 811.3L1616.4 772.8L1617.2 814.8L1618.0 774.9L1618.8 815.3L1619.6 771.9L1620.4 809.8L1621.2 777.7L1622.0 812.0L1622.8 775.2L1623.6 813.2L1624.4 773.3L1625.2 816.7L1626.0 773.4L1626.8 810.8L1627.6 775.1L1628.4 810.2L1629.2 772.8L1630.0 810.6L1630.8 779.9L1631.6 816.7L1632.4 780.6L1633.2 817.9L1634.0 782.9L1634.8 816.8L1635.6 781.9L1636.4 815.7L1637.2 781.6L1638.0 813.4L1638.8 781.1L1639.6 815.2L1640.4 780.8L1641.2 813.3L1642.0 782.5L1642.8 812.6L1643.6 775.8L1644.4 809.4L1645.2 776.6L1646.0 811.2L1646.8 775.4L1647.6 811.3L1648.4 770.7L1649.2 811.6L1650.0 772.2L1650.8 812.5L1651.6 773.5L1652.4 811.8L1653.2 772.6L1654.0 810.2L1654.8 769.1L1655.6 807.1L1656.4 770.6L1657.2 811.6L1658.0 769.5L1658.8 809.0L1659.6 772.8L1660.4 809.7L1661.2 774.7L1662.0 810.6L1662.8 769.4L1663.6 810.0L1664.4 776.3L1665.2 811.6L1666.0 779.0L1666.8 813.6L1667.6 774.7L1668.4 819.8L1669.2 775.7L1670.0 821.1L1670.8 776.1L1671.6 826.2L1672.4 784.3L1673.2 827.9L1674.0 779.9L1674.8 823.0L1675.6 785.2L1676.4 826.8L1677.2 786.1L1678.0 829.5L1678.8 779.7L1679.6 828.2L1680.4 777.3L1681.2 828.8L1682.0 779.2L1682.8 825.8L1683.6 776.3L1684.4 823.0L1685.2 780.2L1686.0 823.0L1686.8 781.2L1687.6 831.1L1688.4 784.8L1689.2 835.2L1690.0 784.1L1690.8 836.5L1691.6 782.3L1692.4 830.7L1693.2 785.0L1694.0 833.9L1694.8 786.3L1695.6 839.6L1696.4 780.9L1697.2 836.3L1698.0 781.9L1698.8 834.5L1699.6 780.4L1700.4 835.7L1701.2 781.9L1702.0 832.3L1702.8 781.8L1703.6 833.0L1704.4 783.2L1705.2 836.4L1706.0 779.3L1706.8 832.7L1707.6 784.1L1708.4 827.8L1709.2 784.4L1710.0 831.7L1710.8 792.7L1711.6 837.4L1712.4 791.3L1713.2 835.3L1714.0 796.6L1714.8 836.2L1715.6 796.3L1716.4 840.8L1717.2 803.8L1718.0 840.0L1718.8 802.3L1719.6 840.3L1720.4 800.9L1721.2 837.7L1722.0 804.2L1722.8 838.7L1723.6 804.3L1724.4 838.4L1725.2 802.3L1726.0 840.1L1726.8 804.3L1727.6 840.7L1728.4 802.0L1729.2 836.6L1730.0 804.1L1730.8 835.7L1731.6 804.3L1732.4 833.4L1733.2 800.5L1734.0 831.4L1734.8 795.0L1735.6 827.1L1736.4 792.7L1737.2 829.5L1738.0 787.6L1738.8 830.4L1739.6 784.9L1740.4 829.2L1741.2 783.4L1742.0 829.1L1742.8 786.6L1743.6 826.0L1744.4 780.2L1745.2 822.8L1746.0 780.7L1746.8 826.3L1747.6 786.0L1748.4 825.2L1749.2 785.0L1750.0 820.3L1750.8 787.3L1751.6 821.0L1752.4 788.6L1753.2 822.8L1754.0 789.3L1754.8 826.8L1755.6 792.8L1756.4 831.7L1757.2 791.9L1758.0 835.5L1758.8 795.2L1759.6 844.3L1760.4 790.5L1761.2 842.1L1762.0 797.0L1762.8 844.2L1763.6 797.2L1764.4 848.3L1765.2 797.9L1766.0 846.8L1766.8 796.5L1767.6 844.4L1768.4 794.2L1769.2 844.4L1770.0 793.5L1770.8 844.7L1771.6 793.3L1772.4 837.2L1773.2 793.1L1774.0 840.4L1774.8 793.6L1775.6 844.8L1776.4 794.4L1777.2 845.9L1778.0 797.8L1778.8 844.3L1779.6 807.0L1780.4 847.8L1781.2 804.3L1782.0 853.0L1782.8 803.7L1783.6 857.4L1784.4 802.6L1785.2 855.2L1786.0 803.5L1786.8 855.5L1787.6 813.4L1788.4 862.0L1789.2 808.4L1790.0 861.8L1790.8 801.7L1791.6 854.2L1792.4 802.9L1793.2 843.9L1794.0 793.7L1794.8 836.3L1795.6 783.8L1796.4 830.4L1797.2 776.0L1798.0 829.8L1798.8 775.6L1799.6 827.1L1800.4 773.8L1801.2 818.5L1802.0 770.0L1802.8 814.1L1803.6 766.7L1804.4 819.1L1805.2 765.3L1806.0 822.9L1806.8 769.3L1807.6 820.7L1808.4 768.6L1809.2 825.1L1810.0 778.9L1810.8 826.3L1811.6 785.7L1812.4 820.2L1813.2 788.5L1814.0 820.0L1814.8 795.6L1815.6 823.8L1816.4 794.8L1817.2 823.5L1818.0 794.3L1818.8 823.3L1819.6 797.3L1820.4 821.9L1821.2 794.3L1822.0 825.6L1822.8 798.0L1823.6 824.5L1824.4 793.3L1825.2 825.4L1826.0 795.0L1826.8 827.4L1827.6 795.5L1828.4 828.4L1829.2 797.2L1830.0 825.3L1830.8 791.8L1831.6 824.4L1832.4 794.8L1833.2 831.6L1834.0 794.3L1834.8 830.9L1835.6 797.8L1836.4 829.6L1837.2 797.7L1838.0 829.3L1838.8 791.8L1839.6 829.1L1840.4 797.5L1841.2 834.8L1842.0 799.7L1842.8 835.6L1843.6 798.6L1844.4 837.2L1845.2 798.2L1846.0 839.8L1846.8 800.6L1847.6 836.1L1848.4 795.3L1849.2 834.5L1850.0 800.2L1850.8 831.3L1851.6 795.7L1852.4 830.8L1853.2 791.2L1854.0 830.6L1854.8 789.9L1855.6 829.6L1856.4 790.2L1857.2 825.0L1858.0 792.5L1858.8 825.2L1859.6 791.7L1860.4 827.4L1861.2 782.3L1862.0 824.6L1862.8 781.2L1863.6 823.8L1864.4 779.5L1865.2 823.3L1866.0 781.5L1866.8 828.1L1867.6 787.5L1868.4 831.4L1869.2 784.3L1870.0 828.8L1870.8 776.2L1871.6 828.8L1872.4 783.9L1873.2 834.3L1874.0 783.9L1874.8 830.9L1875.6 783.9L1876.4 835.0L1877.2 787.7L1878.0 835.1L1878.8 780.1L1879.6 830.7L1880.4 780.4L1881.2 833.4L1882.0 776.4L1882.8 836.1L1883.6 774.7L1884.4 835.7L1885.2 779.1L1886.0 828.3L1886.8 780.1L1887.6 830.8L1888.4 784.0L1889.2 828.7L1890.0 785.9L1890.8 819.7L1891.6 783.2L1892.4 817.9L1893.2 782.8L1894.0 820.0L1894.8 780.1L1895.6 822.2L1896.4 786.4L1897.2 819.7L1898.0 783.3L1898.8 821.5L1899.6 783.0L1900.4 819.2L1901.2 781.8L1902.0 822.6L1902.8 782.0L1903.6 822.0L1904.4 784.5L1905.2 822.3L1906.0 787.4L1906.8 821.4L1907.6 788.6L1908.4 824.1L1909.2 788.3L1910.0 821.0L1910.8 784.8L1911.6 822.4L1912.4 787.0L1913.2 824.6L1914.0 790.2L1914.8 828.6L1915.6 790.4L1916.4 820.4L1917.2 787.3L1918.0 823.5L1918.8 790.3L1919.6 824.2L1920.4 790.4L1921.2 826.0L1922.0 789.2L1922.8 824.1L1923.6 785.5L1924.4 820.7L1925.2 784.7L1926.0 822.7L1926.8 785.0L1927.6 820.8L1928.4 786.8L1929.2 824.6L1930.0 790.0L1930.8 825.2L1931.6 788.6L1932.4 824.1L1933.2 788.6L1934.0 823.6L1934.8 788.2L1935.6 828.0L1936.4 790.3L1937.2 831.5L1938.0 793.9L1938.8 826.6L1939.6 793.2L1940.4 830.0L1941.2 787.9L1942.0 827.2L1942.8 786.9L1943.6 827.7L1944.4 787.0L1945.2 822.3L1946.0 784.0L1946.8 822.2L1947.6 783.0L1948.4 823.1L1949.2 781.2L1950.0 822.9L1950.8 782.9L1951.6 823.9L1952.4 784.1L1953.2 825.0L1954.0 780.4L1954.8 825.4L1955.6 784.4L1956.4 822.8L1957.2 786.1L1958.0 825.5L1958.8 788.5L1959.6 824.8L1960.4 784.7L1961.2 823.6L1962.0 784.3L1962.8 821.7L1963.6 789.6L1964.4 822.6L1965.2 788.3L1966.0 822.4L1966.8 783.4L1967.6 824.7L1968.4 787.6L1969.2 823.0L1970.0 787.0L1970.8 825.1L1971.6 791.2L1972.4 827.4L1973.2 786.2L1974.0 821.6L1974.8 786.9L1975.6 821.9L1976.4 789.0L1977.2 820.0L1978.0 787.0L1978.8 817.9L1979.6 784.9L1980.4 820.1L1981.2 783.6L1982.0 818.1L1982.8 781.8L1983.6 814.9L1984.4 781.6L1985.2 821.4L1986.0 781.0L1986.8 823.0L1987.6 781.2L1988.4 819.9L1989.2 779.2L1990.0 819.9L1990.8 786.2L1991.6 815.9L1992.4 786.7L1993.2 817.7L1994.0 780.1L1994.8 822.1L1995.6 788.1L1996.4 823.3L1997.2 787.9L1998.0 821.2L1998.8 784.0L1999.6 822.8L2000.4 788.4L2001.2 826.4L2002.0 793.9"/>
<text class="t" x="267.5" y="648.1" text-anchor="end">−424.5</text>
<text class="t" x="267.5" y="775.6" text-anchor="end">−425</text>
<text class="t" x="267.5" y="903.2" text-anchor="end">−425.5</text>
<text class="t" x="269.2" y="1030.7" text-anchor="end">−426</text>
<text class="t" x="282.8" y="1077.8" text-anchor="middle">0</text>
<text class="t" x="556.9" y="1077.8" text-anchor="middle">2000</text>
<text class="t" x="831.7" y="1077.8" text-anchor="middle">4000</text>
<text class="t" x="1106.6" y="1077.8" text-anchor="middle">6000</text>
<text class="t" x="1381.5" y="1077.8" text-anchor="middle">8000</text>
<text class="t" x="1660.7" y="1077.8" text-anchor="middle">10,000</text>
<text class="t" x="1935.5" y="1077.8" text-anchor="middle">12,000</text>
<text class="t" x="2210.4" y="1077.8" text-anchor="middle">14,000</text>
<text transform="rotate(-90)" font-size="57"><tspan x="-913.4" y="81.2" font-size="59">B</tspan><tspan x="-873.2" y="106.7" font-size="45">y</tspan><tspan x="-850.2" y="81.5" letter-spacing="-0.5"> [mG]</tspan></text></g>
<g><path class="g" d="M558.2 1168.2V1568.7M833.0 1168.2V1568.7M1107.9 1168.2V1568.7M1382.8 1168.2V1568.7M1657.7 1168.2V1568.7M1932.5 1168.2V1568.7M283.3 1294.1H2207.4M283.3 1420.1H2207.4M283.3 1546.0H2207.4"/>
<path class="a" d="M283.3 1168.2v21M283.3 1568.7v-21M558.2 1168.2v21M558.2 1568.7v-21M833.0 1168.2v21M833.0 1568.7v-21M1107.9 1168.2v21M1107.9 1568.7v-21M1382.8 1168.2v21M1382.8 1568.7v-21M1657.7 1168.2v21M1657.7 1568.7v-21M1932.5 1168.2v21M1932.5 1568.7v-21M2207.4 1168.2v21M2207.4 1568.7v-21M283.3 1168.2h21M2207.4 1168.2h-21M283.3 1294.1h21M2207.4 1294.1h-21M283.3 1420.1h21M2207.4 1420.1h-21M283.3 1546.0h21M2207.4 1546.0h-21"/>
<rect class="a" x="283.3" y="1168.2" width="1924.1" height="400.5"/>
<path class="d" clip-path="url(#c2)" stroke="#0000ff" d="M281.8 1254.9L282.3 1269.0L282.8 1249.8L283.3 1272.1L283.8 1245.7L284.3 1270.6L284.8 1244.9L285.3 1271.0L285.8 1246.3L286.3 1262.1L286.8 1249.4L287.3 1264.1L287.8 1250.0L288.3 1271.4L288.8 1241.4L289.3 1264.4L289.8 1247.2L290.3 1276.6L290.8 1252.2L291.3 1268.0L291.8 1255.2L292.3 1275.4L292.8 1245.8L293.3 1276.1L293.8 1245.7L294.3 1279.2L294.8 1257.4L295.3 1282.1L295.8 1254.2L296.3 1275.2L296.8 1250.4L297.3 1277.6L297.8 1250.4L298.3 1282.4L298.8 1252.7L299.3 1278.2L299.8 1251.9L300.3 1275.9L300.8 1252.2L301.3 1272.7L301.8 1245.9L302.3 1281.0L302.8 1246.7L303.3 1272.0L303.8 1251.8L304.3 1273.1L304.8 1248.8L305.3 1272.8L305.8 1244.2L306.3 1273.3L306.8 1251.4L307.3 1275.7L307.8 1253.9L308.3 1278.3L308.8 1254.7L309.3 1278.6L309.8 1247.1L310.3 1270.8L310.8 1251.1L311.3 1270.7L311.8 1256.2L312.3 1281.6L312.8 1251.7L313.3 1274.0L313.8 1257.7L314.3 1276.3L314.8 1256.2L315.3 1279.3L315.8 1256.5L316.3 1279.1L316.8 1264.7L317.3 1285.9L317.8 1265.3L318.3 1291.7L318.8 1268.4L319.3 1284.7L319.8 1266.1L320.3 1287.1L320.8 1265.4L321.3 1293.4L321.8 1269.1L322.3 1288.5L322.8 1275.7L323.3 1295.5L323.8 1277.6L324.3 1289.8L324.8 1277.8L325.3 1290.8L325.8 1275.5L326.3 1298.4L326.8 1273.7L327.3 1292.9L327.8 1269.3L328.3 1293.0L328.8 1274.6L329.3 1299.1L329.8 1273.8L330.3 1290.7L330.8 1270.5L331.3 1298.7L331.8 1273.0L332.3 1291.3L332.8 1273.6L333.3 1295.0L333.8 1273.5L334.3 1296.1L334.8 1267.4L335.3 1291.0L335.8 1274.7L336.3 1291.9L336.8 1275.5L337.3 1300.7L337.8 1279.9L338.3 1297.7L338.8 1281.6L339.3 1292.2L339.8 1274.0L340.3 1290.5L340.8 1276.6L341.3 1289.7L341.8 1275.4L342.3 1289.9L342.8 1273.6L343.3 1294.0L343.8 1273.7L344.3 1295.3L344.8 1274.4L345.3 1296.5L345.8 1274.6L346.3 1295.8L346.8 1269.9L347.3 1300.3L347.8 1276.6L348.3 1301.7L348.8 1279.2L349.3 1294.7L349.8 1275.0L350.3 1296.8L350.8 1275.8L351.3 1298.1L351.8 1276.4L352.3 1299.1L352.8 1274.3L353.3 1300.4L353.8 1267.9L354.3 1288.1L354.8 1275.2L355.3 1295.4L355.8 1273.9L356.3 1286.1L356.8 1271.8L357.3 1287.8L357.8 1273.3L358.3 1289.7L358.8 1273.2L359.3 1295.7L359.8 1272.6L360.3 1297.3L360.8 1273.2L361.3 1293.1L361.8 1276.4L362.3 1293.5L362.8 1277.8L363.3 1293.9L363.8 1275.3L364.3 1290.4L364.8 1274.4L365.3 1293.3L365.8 1277.2L366.3 1297.0L366.8 1275.2L367.3 1309.5L367.8 1286.1L368.3 1306.5L368.8 1291.1L369.3 1313.7L369.8 1290.7L370.3 1302.2L370.8 1289.5L371.3 1307.8L371.8 1288.7L372.3 1302.0L372.8 1287.2L373.3 1306.0L373.8 1276.8L374.3 1299.9L374.8 1281.9L375.3 1309.2L375.8 1280.0L376.3 1300.9L376.8 1287.5L377.3 1310.7L377.8 1292.6L378.3 1305.2L378.8 1289.1L379.3 1309.7L379.8 1296.2L380.3 1314.3L380.8 1301.6L381.3 1324.1L381.8 1309.3L382.3 1325.9L382.8 1299.3L383.3 1322.3L383.8 1302.5L384.3 1324.8L384.8 1301.1L385.3 1322.9L385.8 1300.2L386.3 1321.7L386.8 1299.4L387.3 1321.4L387.8 1299.3L388.3 1321.6L388.8 1298.1L389.3 1323.5L389.8 1297.4L390.3 1316.0L390.8 1297.3L391.3 1317.5L391.8 1298.7L392.3 1325.7L392.8 1302.0L393.3 1320.5L393.8 1294.5L394.3 1327.6L394.8 1301.7L395.3 1320.3L395.8 1302.2L396.3 1323.1L396.8 1305.2L397.3 1319.3L397.8 1306.1L398.3 1319.0L398.8 1297.7L399.3 1319.1L399.8 1301.4L400.3 1325.0L400.8 1297.9L401.3 1326.9L401.8 1307.8L402.3 1323.2L402.8 1308.5L403.3 1320.4L403.8 1303.7L404.3 1321.8L404.8 1308.4L405.3 1323.7L405.8 1302.2L406.3 1320.9L406.8 1310.7L407.3 1327.5L407.8 1310.7L408.3 1325.1L408.8 1310.2L409.3 1326.4L409.8 1301.1L410.3 1325.0L410.8 1307.9L411.3 1323.0L411.8 1303.8L412.3 1326.0L412.8 1304.9L413.3 1328.7L413.8 1307.9L414.3 1327.9L414.8 1306.4L415.3 1334.1L415.8 1305.1L416.3 1326.7L416.8 1311.6L417.3 1330.6L417.8 1314.4L418.3 1338.5L418.8 1309.4L419.3 1338.5L419.8 1321.7L420.3 1345.0L420.8 1324.5L421.3 1338.9L421.8 1320.4L422.3 1338.6L422.8 1321.0L423.3 1348.4L423.8 1320.5L424.3 1345.7L424.8 1317.5L425.3 1346.9L425.8 1322.2L426.3 1357.5L426.8 1318.9L427.3 1353.7L427.8 1328.1L428.3 1357.6L428.8 1321.3L429.3 1357.8L429.8 1327.0L430.3 1357.8L430.8 1327.3L431.3 1359.8L431.8 1327.7L432.3 1351.3L432.8 1331.6L433.3 1350.8L433.8 1328.1L434.3 1350.3L434.8 1334.4L435.3 1358.0L435.8 1334.8L436.3 1355.6L436.8 1334.8L437.3 1356.4L437.8 1337.1L438.3 1355.6L438.8 1332.6L439.3 1354.6L439.8 1336.2L440.3 1355.2L440.8 1343.4L441.3 1363.8L441.8 1336.1L442.3 1358.5L442.8 1344.2L443.3 1367.9L443.8 1348.0L444.3 1369.9L444.8 1352.5L445.3 1370.6L445.8 1355.0L446.3 1371.3L446.8 1356.2L447.3 1373.3L447.8 1353.9L448.3 1380.1L448.8 1356.6L449.3 1374.9L449.8 1361.3L450.3 1379.8L450.8 1359.2L451.3 1377.9L451.8 1365.9L452.3 1377.5L452.8 1359.5L453.3 1378.3L453.8 1359.5L454.3 1379.5L454.8 1366.8L455.3 1381.9L455.8 1368.3L456.3 1392.0L456.8 1361.8L457.3 1390.5L457.8 1370.3L458.3 1391.5L458.8 1371.0L459.3 1392.0L459.8 1375.1L460.3 1393.4L460.8 1371.6L461.3 1403.6L461.8 1372.2L462.3 1399.0L462.8 1379.7L463.3 1400.5L463.8 1382.1L464.3 1399.8L464.8 1382.7L465.3 1400.0L465.8 1384.8L466.3 1401.7L466.8 1387.4L467.3 1404.9L467.8 1388.2L468.3 1409.4L468.8 1378.1L469.3 1411.4L469.8 1384.9L470.3 1410.0L470.8 1384.0L471.3 1406.5L471.8 1384.4L472.3 1404.2L472.8 1379.9L473.3 1403.7L473.8 1387.0L474.3 1403.0L474.8 1378.4L475.3 1401.2L475.8 1383.9L476.3 1400.0L476.8 1376.4L477.3 1400.9L477.8 1377.7L478.3 1404.4L478.8 1385.0L479.3 1408.1L479.8 1387.0L480.3 1408.5L480.8 1388.3L481.3 1414.1L481.8 1389.8L482.3 1410.9L482.8 1389.5L483.3 1413.8L483.8 1393.0L484.3 1416.1L484.8 1395.7L485.3 1412.9L485.8 1397.5L486.3 1415.8L486.8 1399.2L487.3 1421.0L487.8 1399.7L488.3 1420.2L488.8 1399.1L489.3 1419.8L489.8 1400.2L490.3 1416.2L490.8 1402.2L491.3 1417.6L491.8 1403.0L492.3 1418.9L492.8 1404.4L493.3 1420.7L493.8 1402.4L494.3 1417.5L494.8 1402.3L495.3 1419.3L495.8 1407.5L496.3 1421.6L496.8 1407.8L497.3 1421.1L497.8 1406.2L498.3 1425.8L498.8 1403.4L499.3 1419.6L499.8 1404.2L500.3 1427.1L500.8 1403.8L501.3 1421.9L501.8 1403.4L502.3 1421.7L502.8 1403.5L503.3 1420.7L503.8 1404.2L504.3 1417.7L504.8 1403.7L505.3 1414.8L505.8 1402.4L506.3 1413.6L506.8 1401.6L507.3 1414.2L507.8 1399.9L508.3 1416.8L508.8 1397.9L509.3 1414.0L509.8 1394.6L510.3 1417.4L510.8 1398.7L511.3 1415.6L511.8 1398.2L512.3 1421.4L512.8 1400.3L513.3 1422.8L513.8 1403.3L514.3 1430.0L514.8 1409.4L515.3 1426.8L515.8 1414.2L516.3 1431.4L516.8 1415.9L517.3 1434.4L517.8 1419.8L518.3 1435.8L518.8 1420.1L519.3 1437.2L519.8 1418.8L520.3 1437.2L520.8 1416.8L521.3 1442.1L521.8 1422.6L522.3 1442.5L522.8 1421.2L523.3 1438.4L523.8 1426.0L524.3 1444.6L524.8 1427.6L525.3 1445.1L525.8 1425.1L526.3 1439.9L526.8 1419.5L527.3 1438.5L527.8 1421.6L528.3 1438.7L528.8 1423.5L529.3 1444.1L529.8 1416.9L530.3 1439.4L530.8 1422.7L531.3 1445.4L531.8 1421.0L532.3 1441.7L532.8 1421.9L533.3 1442.8L533.8 1424.5L534.3 1445.2L534.8 1426.0L535.3 1453.5L535.8 1427.8L536.3 1450.0L536.8 1430.3L537.3 1456.2L537.8 1431.8L538.3 1456.5L538.8 1430.4L539.3 1451.4L539.8 1435.9L540.3 1453.2L540.8 1424.4L541.3 1454.0L541.8 1437.0L542.3 1453.6L542.8 1428.1L543.3 1455.1L543.8 1438.3L544.3 1457.9L544.8 1437.3L545.3 1459.7L545.8 1437.1L546.3 1462.0L546.8 1440.4L547.3 1471.1L547.8 1445.1L548.3 1477.9L548.8 1451.4L549.3 1475.8L549.8 1449.3L550.3 1467.2L550.8 1447.4L551.3 1464.7L551.8 1445.6L552.3 1466.5L552.8 1436.9L553.3 1466.2L553.8 1445.1L554.3 1460.3L554.8 1448.7L555.3 1463.5L555.8 1452.5L556.3 1478.2L556.8 1446.9L557.3 1481.4L557.8 1457.4L558.3 1480.1L558.8 1457.9L559.3 1480.2L559.8 1455.7L560.3 1479.9L560.8 1450.8L561.3 1472.0L561.8 1446.6L562.3 1471.6L562.8 1449.3L563.3 1473.1L563.8 1451.8L564.3 1478.9L564.8 1452.0L565.3 1480.6L565.8 1453.3L566.3 1480.7L566.8 1458.2L567.3 1477.1L567.8 1460.1L568.3 1480.5L568.8 1457.0L569.3 1486.0L569.8 1457.6L570.3 1480.7L570.8 1456.6L571.3 1481.6L571.8 1456.3L572.3 1483.2L572.8 1448.6L573.3 1484.3L573.8 1447.7L574.3 1491.4L574.8 1451.4L575.3 1483.2L575.8 1453.5L576.3 1486.0L576.8 1458.1L577.3 1483.7L577.8 1450.5L578.3 1471.7L578.8 1452.0L579.3 1473.5L579.8 1452.3L580.3 1472.0L580.8 1452.7L581.3 1467.0L581.8 1451.6L582.3 1465.8L582.8 1453.0L583.3 1466.5L583.8 1451.3L584.3 1466.7L584.8 1440.6L585.3 1464.6L585.8 1446.1L586.3 1468.4L586.8 1435.8L587.3 1465.6L587.8 1442.4L588.3 1465.5L588.8 1444.8L589.3 1464.6L589.8 1446.2L590.3 1463.5L590.8 1446.4L591.3 1461.1L591.8 1446.1L592.3 1460.9L592.8 1437.6L593.3 1461.6L593.8 1445.2L594.3 1465.4L594.8 1445.3L595.3 1470.3L595.8 1440.1L596.3 1466.4L596.8 1444.0L597.3 1466.0L597.8 1437.8L598.3 1463.3L598.8 1444.1L599.3 1460.8L599.8 1440.8L600.3 1460.9L600.8 1442.0L601.3 1460.4L601.8 1442.2L602.3 1459.5L602.8 1434.2L603.3 1456.3L603.8 1441.0L604.3 1456.1L604.8 1442.5L605.3 1460.6L605.8 1436.1L606.3 1454.2L606.8 1441.8L607.3 1454.7L607.8 1441.2L608.3 1454.2L608.8 1435.5L609.3 1451.1L609.8 1430.4L610.3 1452.9L610.8 1431.2L611.3 1454.9L611.8 1438.4L612.3 1452.7L612.8 1436.0L613.3 1449.4L613.8 1435.2L614.3 1449.4L614.8 1434.5L615.3 1456.9L615.8 1430.7L616.3 1448.8L616.8 1432.1L617.3 1448.9L617.8 1436.7L618.3 1451.0L618.8 1435.0L619.3 1451.1L619.8 1429.6L620.3 1447.5L620.8 1434.9L621.3 1445.0L621.8 1429.1L622.3 1451.2L622.8 1434.5L623.3 1444.4L623.8 1430.8L624.3 1443.0L624.8 1430.1L625.3 1447.2L625.8 1429.5L626.3 1442.6L627.2 1396.8L627.7 1406.7L628.2 1395.2L628.7 1410.9L629.2 1394.1L629.7 1404.7L630.2 1384.0L630.7 1404.4L631.2 1389.4L631.7 1404.9L632.2 1378.8L632.7 1405.6L633.2 1379.1L633.7 1406.0L634.2 1388.0L634.7 1403.0L635.2 1375.8L635.7 1401.9L636.2 1374.9L636.7 1411.9L637.2 1385.7L637.7 1409.5L638.2 1384.7L638.7 1405.1L639.2 1377.2L639.7 1398.1L640.2 1384.6L640.7 1400.7L641.2 1384.0L641.7 1405.4L642.2 1377.0L642.7 1406.1L643.2 1386.4L643.7 1402.7L644.2 1384.7L644.7 1402.0L645.2 1383.0L645.7 1403.3L646.2 1387.3L646.7 1404.7L647.2 1384.1L647.7 1405.0L648.2 1382.4L648.7 1400.4L649.2 1383.0L649.7 1395.6L650.2 1382.3L650.7 1394.6L651.2 1374.7L651.7 1392.8L652.2 1371.3L652.7 1392.5L653.2 1377.8L653.7 1396.3L654.2 1377.2L654.7 1398.5L655.2 1379.7L655.7 1395.3L656.2 1377.1L656.7 1390.1L657.2 1374.7L657.7 1389.3L658.2 1375.6L658.7 1389.9L659.2 1378.3L659.7 1393.6L660.2 1378.7L660.7 1391.1L661.2 1376.7L661.7 1390.4L662.2 1378.8L662.7 1390.7L663.2 1379.7L663.7 1394.3L664.2 1380.5L664.7 1395.4L665.2 1380.4L665.7 1393.6L666.2 1374.8L666.7 1393.5L667.2 1375.9L667.7 1396.7L668.2 1370.8L668.7 1401.2L669.2 1375.3L669.7 1396.7L670.2 1375.6L670.7 1393.1L671.2 1375.2L671.7 1395.2L672.2 1374.8L672.7 1396.8L673.2 1374.7L673.7 1396.8L674.2 1379.3L674.7 1400.7L675.2 1370.3L675.7 1396.1L676.2 1373.7L676.7 1396.0L677.2 1373.5L677.7 1393.8L678.2 1373.1L678.7 1389.5L679.2 1371.3L679.7 1386.0L680.2 1363.8L680.7 1392.2L681.2 1360.2L681.7 1391.9L682.2 1361.2L682.7 1381.8L683.2 1361.1L683.7 1378.0L684.2 1359.7L684.7 1377.0L685.2 1350.5L685.7 1384.0L686.2 1354.4L686.7 1381.0L687.2 1358.5L687.7 1381.2L688.2 1359.1L688.7 1387.5L689.2 1360.3L689.7 1381.3L690.2 1358.1L690.7 1386.5L691.2 1367.8L691.7 1379.5L692.2 1364.8L692.7 1379.0L693.2 1364.6L693.7 1380.3L694.2 1366.4L694.7 1380.5L695.2 1363.6L695.7 1385.2L696.2 1366.0L696.7 1379.0L697.2 1364.9L697.7 1380.4L698.2 1361.5L698.7 1381.0L699.2 1361.2L699.7 1374.7L700.2 1360.3L700.7 1379.9L701.2 1356.0L701.7 1374.6L702.2 1354.4L702.7 1371.8L703.2 1362.3L703.7 1373.4L704.2 1362.8L704.7 1376.6L705.2 1361.7L705.7 1377.7L706.2 1361.2L706.7 1378.5L707.2 1361.0L707.7 1379.5L708.2 1361.5L708.7 1379.1L709.2 1364.1L709.7 1382.2L710.2 1365.2L710.7 1381.2L711.2 1359.9L711.7 1382.0L712.2 1368.3L712.7 1389.2L713.2 1368.5L713.7 1382.8L714.2 1363.9L714.7 1388.9L715.2 1367.8L715.7 1388.6L716.2 1366.8L716.7 1386.2L717.2 1362.5L717.7 1379.5L718.2 1363.0L718.7 1384.1L719.2 1366.4L719.7 1385.1L720.2 1365.8L720.7 1384.0L721.2 1365.6L721.7 1385.4L722.2 1367.9L722.7 1380.4L723.2 1366.8L723.7 1381.3L724.2 1364.7L724.7 1386.1L725.2 1366.3L725.7 1389.1L726.2 1362.7L726.7 1389.1L727.2 1364.3L727.7 1388.4L728.2 1362.7L728.7 1386.0L729.2 1370.8L729.7 1392.7L730.2 1372.7L730.7 1385.4L731.2 1372.0L731.7 1394.6L732.2 1373.5L732.7 1386.9L733.2 1371.0L733.7 1389.6L734.2 1368.2L734.7 1390.5L735.2 1377.4L735.7 1389.3L736.2 1369.5L736.7 1387.9L737.2 1376.5L737.7 1388.0L738.2 1370.1L738.7 1388.3L739.2 1374.4L739.7 1394.0L740.2 1372.5L740.7 1397.8L741.2 1372.5L741.7 1391.5L742.2 1370.9L742.7 1391.0L743.2 1376.3L743.7 1396.9L744.2 1378.0L744.7 1396.4L745.2 1381.5L745.7 1396.1L746.2 1380.5L746.7 1398.3L747.2 1380.8L747.7 1402.5L748.2 1386.7L748.7 1407.7L749.2 1385.3L749.7 1409.3L750.2 1384.6L750.7 1410.8L751.2 1392.5L751.7 1412.6L752.2 1387.6L752.7 1415.3L753.2 1391.4L753.7 1411.8L754.2 1393.5L754.7 1411.8L755.2 1389.0L755.7 1415.6L756.2 1399.9L756.7 1416.7L757.2 1398.8L757.7 1414.3L758.2 1398.4L758.7 1419.1L759.2 1397.6L759.7 1411.3L760.2 1395.6L760.7 1414.0L761.2 1388.1L761.7 1415.0L762.2 1392.8L762.7 1414.4L763.2 1395.2L763.7 1413.0L764.2 1399.1L764.7 1413.3L765.2 1400.4L765.7 1413.5L766.2 1392.6L766.7 1422.6L767.2 1396.6L767.7 1415.9L768.2 1401.9L768.7 1417.9L769.2 1402.7L769.7 1418.2L770.2 1402.4L770.7 1417.1L771.2 1404.1L771.7 1424.6L772.2 1406.4L772.7 1423.3L773.2 1397.0L773.7 1424.5L774.2 1401.5L774.7 1426.5L775.2 1407.6L775.7 1427.9L776.2 1409.3L776.7 1429.2L777.2 1409.9L777.7 1429.5L778.2 1409.2L778.7 1424.7L779.2 1404.4L779.7 1424.5L780.2 1399.2L780.7 1424.9L781.2 1408.0L781.7 1426.1L782.2 1407.8L782.7 1430.3L783.2 1407.5L783.7 1425.4L784.2 1410.6L784.7 1424.5L785.2 1411.8L785.7 1424.2L786.2 1409.4L786.7 1425.6L787.2 1411.1L787.7 1425.7L788.2 1410.8L788.7 1424.0L789.2 1407.2L789.7 1422.8L790.2 1405.9L790.7 1424.9L791.2 1410.0L791.7 1430.7L792.2 1406.1L792.7 1436.5L793.2 1416.9L793.7 1435.1L794.2 1413.1L794.7 1442.1L795.2 1423.6L795.7 1441.8L796.2 1422.4L796.7 1436.8L797.2 1421.5L797.7 1438.3L798.2 1420.6L798.7 1438.9L799.2 1420.2L799.7 1436.9L800.2 1417.9L800.7 1435.0L801.2 1411.3L801.7 1434.5L802.2 1418.4L802.7 1434.9L803.2 1410.0L803.7 1433.5L804.2 1417.1L804.7 1433.4L805.2 1411.1L805.7 1438.2L806.2 1419.1L806.7 1435.7L807.2 1416.3L807.7 1430.9L808.2 1411.8L808.7 1430.0L809.2 1415.5L809.7 1431.2L810.2 1413.0L810.7 1436.2L811.2 1413.5L811.7 1433.2L812.2 1419.7L812.7 1437.9L813.2 1418.4L813.7 1431.6L814.2 1417.1L814.7 1430.4L815.2 1418.1L815.7 1430.1L816.2 1419.0L816.7 1432.2L817.2 1419.9L817.7 1435.3L818.2 1421.5L818.7 1441.1L819.2 1424.7L819.7 1440.4L820.2 1428.5L820.7 1442.6L821.2 1431.3L821.7 1442.9L822.2 1423.5L822.7 1443.3L823.2 1431.0L823.7 1448.7L824.2 1427.9L824.7 1449.2L825.2 1428.6L825.7 1443.0L826.2 1429.8L826.7 1450.5L827.2 1422.8L827.7 1442.0L828.2 1424.8L828.7 1442.2L829.2 1426.5L829.7 1442.9L830.2 1426.5L830.7 1443.4L831.2 1421.0L831.7 1443.0L832.2 1428.2L832.7 1444.1L833.2 1431.6L833.7 1451.4L834.2 1426.3L834.7 1452.2L835.2 1433.6L835.7 1459.3L836.2 1439.6L836.7 1455.8L837.2 1444.7L837.7 1456.4L838.2 1440.8L838.7 1455.0L839.2 1443.9L839.7 1459.4L840.2 1441.4L840.7 1454.2L841.2 1441.1L841.7 1454.6L842.2 1441.8L842.7 1454.2L843.2 1438.8L843.7 1453.4L844.2 1440.4L844.7 1455.1L845.2 1440.5L845.7 1456.2L846.2 1440.5L846.7 1455.5L847.2 1441.7L847.7 1455.9L848.2 1441.9L848.7 1451.7L849.2 1440.7L849.7 1451.4L850.2 1440.3L850.7 1451.5L851.2 1439.9L851.7 1450.6L852.2 1438.3L852.7 1450.0L853.2 1435.9L853.7 1451.7L854.2 1433.4L854.7 1452.3L855.2 1434.3L855.7 1453.8L856.2 1435.0L856.7 1455.4L857.2 1432.2L857.7 1455.9L858.2 1437.2L858.7 1454.3L859.2 1432.0L859.7 1454.6L860.2 1432.0L860.7 1460.4L861.2 1434.7L861.7 1455.9L862.2 1434.0L862.7 1449.1L863.2 1434.0L863.7 1449.8L864.2 1433.7L864.7 1451.6L865.2 1431.7L865.7 1451.4L866.2 1429.5L866.7 1452.9L867.2 1428.3L867.7 1449.4L868.2 1430.6L868.7 1449.4L869.2 1432.5L869.7 1453.2L870.2 1429.4L870.7 1446.1L871.2 1429.0L871.7 1443.9L872.2 1429.6L872.7 1444.8L873.2 1430.8L873.7 1446.9L874.2 1430.8L874.7 1448.5L875.2 1431.6L875.7 1445.4L876.2 1424.9L876.7 1444.6L877.2 1431.6L877.7 1446.7L878.2 1430.0L878.7 1444.8L879.2 1429.1L879.7 1444.9L880.2 1426.6L880.7 1447.2L881.2 1425.2L881.7 1443.4L882.2 1426.9L882.7 1443.1L883.2 1427.6L883.7 1448.3L884.2 1428.1L884.7 1441.3L885.2 1423.5L885.7 1438.3L886.2 1425.5L886.7 1438.1L887.2 1422.2L887.7 1438.2L888.2 1416.9L888.7 1437.4L889.2 1425.4L889.7 1438.9L890.2 1428.0L890.7 1446.6L891.2 1423.1L891.7 1442.6L892.2 1430.9L892.7 1447.6L893.2 1432.8L893.7 1448.7L894.2 1432.5L894.7 1450.4L895.2 1434.8L895.7 1451.2L896.2 1437.9L896.7 1453.8L897.2 1435.8L897.7 1445.8L898.2 1431.8L898.7 1452.1L899.2 1430.2L899.7 1451.0L900.2 1430.1L900.7 1444.8L901.2 1430.0L901.7 1443.1L902.2 1429.3L902.7 1440.8L903.2 1419.4L903.7 1443.5L904.2 1419.4L904.7 1440.4L905.2 1422.6L905.7 1445.6L906.2 1417.3L906.7 1442.3L907.2 1419.4L907.7 1439.0L908.2 1425.4L908.7 1437.6L909.2 1424.4L909.7 1437.2L910.2 1421.2L910.7 1446.0L911.2 1427.1L911.7 1441.7L912.2 1426.2L912.7 1441.8L913.2 1422.5L913.7 1440.8L914.2 1426.1L914.7 1442.2L915.2 1419.6L915.7 1435.5L916.2 1415.6L916.7 1444.0L917.2 1417.6L917.7 1444.6L918.2 1415.0L918.7 1436.4L919.2 1420.7L919.7 1434.6L920.2 1419.0L920.7 1434.1L921.2 1418.0L921.7 1433.5L922.2 1418.3L922.7 1432.1L923.2 1417.2L923.7 1432.4L924.2 1417.3L924.7 1435.1L925.2 1417.5L925.7 1443.9L926.2 1408.3L926.7 1435.9L927.2 1415.5L927.7 1438.9L928.2 1416.5L928.7 1439.3L929.2 1417.6L929.7 1441.9L930.2 1412.3L930.7 1447.5L931.2 1420.9L931.7 1445.0L932.2 1414.2L932.7 1451.4L933.2 1424.6L933.7 1447.0L934.2 1414.9L934.7 1451.1L935.2 1421.4L935.7 1442.2L936.2 1422.4L936.7 1446.3L937.2 1424.3L937.7 1446.3L938.2 1413.0L938.7 1451.3L939.2 1421.4L939.7 1438.8L940.2 1422.7L940.7 1438.5L941.2 1413.5L941.7 1438.6L942.2 1417.9L942.7 1446.0L943.2 1418.5L943.7 1444.8L944.2 1423.4L944.7 1445.4L945.2 1419.7L945.7 1442.2L946.2 1425.1L946.7 1449.8L947.2 1424.8L947.7 1441.3L948.2 1420.7L948.7 1442.8L949.2 1419.7L949.7 1443.8L950.2 1425.8L950.7 1445.8L951.2 1426.2L951.7 1446.2L952.2 1427.0L952.7 1443.8L953.2 1429.3L953.7 1444.6L954.2 1428.5L954.7 1448.3L955.2 1427.0L955.7 1443.9L956.2 1426.0L956.7 1442.7L957.2 1422.8L957.7 1443.0L958.2 1428.8L958.7 1448.3L959.2 1431.3L959.7 1446.0L960.2 1422.7L960.7 1448.1L961.2 1429.5L961.7 1451.1L962.2 1429.7L962.7 1450.3L963.2 1426.7L963.7 1451.4L964.2 1432.7L964.7 1455.2L965.2 1428.2L965.7 1455.0L966.2 1437.7L966.7 1459.9L967.2 1429.4L967.7 1451.5L968.2 1438.2L968.7 1459.1L969.2 1437.6L969.7 1454.1L970.7 1416.6L971.2 1437.8L971.7 1416.7L972.2 1432.2L972.7 1417.5L973.2 1431.9L973.7 1418.5L974.2 1430.7L974.7 1418.4L975.2 1430.2L975.7 1418.1L976.2 1437.7L976.7 1419.0L977.2 1429.9L977.7 1419.9L978.2 1433.8L978.7 1413.7L979.2 1429.1L979.7 1417.4L980.2 1428.2L980.7 1415.6L981.2 1427.7L981.7 1412.1L982.2 1426.4L982.7 1407.3L983.2 1430.5L983.7 1407.2L984.2 1423.8L984.7 1405.4L985.2 1420.2L985.7 1400.0L986.2 1425.1L986.7 1403.2L987.2 1424.1L987.7 1402.8L988.2 1420.3L988.7 1402.7L989.2 1420.2L989.7 1404.3L990.2 1421.5L990.7 1406.1L991.2 1426.3L991.7 1399.4L992.2 1424.0L992.7 1405.4L993.2 1418.2L993.7 1399.2L994.2 1419.7L994.7 1406.8L995.2 1424.8L995.7 1407.5L996.2 1424.9L996.7 1407.3L997.2 1420.4L997.7 1406.7L998.2 1422.4L998.7 1400.5L999.2 1423.2L999.7 1405.1L1000.2 1425.3L1000.7 1407.4L1001.2 1423.4L1001.7 1408.4L1002.2 1422.7L1002.7 1399.7L1003.2 1423.8L1003.7 1404.2L1004.2 1426.1L1004.7 1405.9L1005.2 1426.0L1005.7 1403.1L1006.2 1428.5L1006.7 1402.7L1007.2 1432.3L1007.7 1407.9L1008.2 1426.7L1008.7 1413.8L1009.2 1428.5L1009.7 1412.1L1010.2 1430.4L1010.7 1409.1L1011.2 1431.6L1011.7 1415.4L1012.2 1431.6L1012.7 1418.2L1013.2 1432.0L1013.7 1411.7L1014.2 1432.8L1014.7 1414.5L1015.2 1432.4L1015.7 1410.2L1016.2 1432.3L1016.7 1416.7L1017.2 1431.3L1017.7 1410.8L1018.2 1432.3L1018.7 1414.8L1019.2 1429.2L1019.7 1414.1L1020.2 1430.3L1020.7 1414.5L1021.2 1430.5L1021.7 1413.5L1022.2 1434.7L1022.7 1414.9L1023.2 1427.8L1023.7 1410.6L1024.2 1427.1L1024.7 1409.7L1025.2 1428.9L1025.7 1412.6L1026.2 1435.7L1026.7 1414.0L1027.2 1429.3L1027.7 1416.1L1028.2 1430.5L1028.7 1419.7L1029.2 1433.3L1029.7 1414.3L1030.2 1437.7L1030.7 1424.9L1031.2 1439.3L1031.7 1421.2L1032.2 1435.4L1032.7 1416.0L1033.2 1436.6L1033.7 1410.7L1034.2 1429.3L1034.7 1411.8L1035.2 1429.6L1035.7 1410.0L1036.2 1433.2L1036.7 1412.0L1037.2 1424.9L1037.7 1402.5L1038.2 1422.0L1038.7 1405.0L1039.2 1419.6L1039.7 1403.6L1040.2 1419.0L1040.7 1401.6L1041.2 1421.3L1041.7 1407.1L1042.2 1422.1L1042.7 1406.8L1043.2 1426.5L1043.7 1405.9L1044.2 1423.9L1044.7 1398.0L1045.2 1421.2L1045.7 1404.0L1046.2 1418.7L1046.7 1397.8L1047.2 1416.8L1047.7 1402.4L1048.2 1415.5L1048.7 1403.6L1049.2 1415.7L1049.7 1401.9L1050.2 1415.0L1050.7 1396.9L1051.2 1417.0L1051.7 1399.6L1052.2 1420.8L1052.7 1402.7L1053.2 1419.6L1053.7 1406.2L1054.2 1420.0L1054.7 1406.9L1055.2 1426.7L1055.7 1408.7L1056.2 1424.4L1056.7 1403.0L1057.2 1423.6L1057.7 1409.5L1058.2 1424.9L1058.7 1409.4L1059.2 1425.7L1059.7 1409.9L1060.2 1430.3L1060.7 1410.0L1061.2 1425.7L1061.7 1408.5L1062.2 1432.5L1062.7 1413.4L1063.2 1432.5L1063.7 1413.1L1064.2 1433.1L1064.7 1412.6L1065.2 1431.9L1065.7 1414.4L1066.2 1436.2L1066.7 1413.6L1067.2 1436.6L1067.7 1412.7L1068.2 1434.4L1068.7 1407.3L1069.2 1436.6L1069.7 1412.1L1070.2 1433.0L1070.7 1407.3L1071.2 1433.2L1071.7 1409.1L1072.2 1429.0L1072.7 1410.2L1073.2 1427.6L1073.7 1413.3L1074.2 1428.3L1074.7 1411.5L1075.2 1431.6L1075.7 1404.0L1076.2 1438.1L1076.7 1401.1L1077.2 1437.6L1077.7 1412.7L1078.2 1434.4L1078.7 1412.9L1079.2 1431.8L1079.7 1410.5L1080.2 1428.3L1080.7 1409.3L1081.2 1441.1L1081.7 1412.1L1082.2 1428.8L1082.7 1415.2L1083.2 1437.2L1083.7 1415.0L1084.2 1432.7L1084.7 1418.4L1085.2 1436.6L1085.7 1419.1L1086.2 1432.2L1086.7 1415.9L1087.2 1433.8L1087.7 1417.1L1088.2 1434.7L1088.7 1421.2L1089.2 1436.8L1089.7 1418.7L1090.2 1438.3L1090.7 1417.5L1091.2 1442.4L1091.7 1417.7L1092.2 1439.3L1092.7 1418.5L1093.2 1433.8L1093.7 1416.3L1094.2 1431.4L1094.7 1408.3L1095.2 1427.0L1095.7 1409.0L1096.2 1428.5L1096.7 1410.3L1097.2 1426.9L1097.7 1409.0L1098.2 1430.3L1098.7 1408.6L1099.2 1422.1L1099.7 1407.0L1100.2 1421.9L1100.7 1410.1L1101.2 1422.8L1101.7 1408.7L1102.2 1424.8L1102.7 1408.0L1103.2 1425.5L1103.7 1407.6L1104.2 1426.3L1104.7 1407.1L1105.2 1429.4L1105.7 1406.8L1106.2 1424.3L1106.7 1407.4L1107.2 1424.5L1107.7 1406.9L1108.2 1424.3L1108.7 1406.5L1109.2 1430.3L1109.7 1412.3L1110.2 1430.9L1110.7 1407.6L1111.2 1424.4L1111.7 1411.8L1112.2 1424.3L1112.7 1413.1L1113.2 1430.3L1113.7 1407.1L1114.2 1426.7L1114.7 1413.7L1115.2 1426.1L1115.7 1413.1L1116.2 1434.2L1116.7 1412.1L1117.2 1432.8L1117.7 1411.2L1118.2 1432.6L1118.7 1411.1L1119.2 1433.7L1119.7 1412.3L1120.2 1426.2L1120.7 1408.2L1121.2 1429.4L1121.7 1412.2L1122.2 1432.1L1122.7 1420.7L1123.2 1439.4L1123.7 1418.2L1124.2 1438.8L1124.7 1423.3L1125.2 1442.6L1125.7 1425.8L1126.2 1440.2L1126.7 1426.3L1127.2 1442.3L1127.7 1420.1L1128.2 1440.8L1128.7 1425.0L1129.2 1440.6L1129.7 1427.3L1130.2 1441.4L1130.7 1422.4L1131.2 1445.4L1131.7 1422.8L1132.2 1441.0L1132.7 1426.3L1133.2 1446.1L1133.7 1428.1L1134.2 1441.7L1134.7 1428.8L1135.2 1443.2L1135.7 1429.9L1136.2 1444.6L1136.7 1431.8L1137.2 1455.8L1137.7 1432.5L1138.2 1458.1L1138.7 1436.3L1139.2 1458.7L1139.7 1437.1L1140.2 1455.3L1140.7 1432.4L1141.2 1460.7L1141.7 1439.8L1142.2 1454.9L1142.7 1442.2L1143.2 1459.0L1143.7 1437.1L1144.2 1459.3L1144.7 1437.1L1145.2 1458.3L1145.7 1438.1L1146.2 1463.1L1146.7 1444.2L1147.2 1459.8L1147.7 1446.4L1148.2 1459.9L1148.7 1447.1L1149.2 1466.0L1149.7 1442.5L1150.2 1461.8L1150.7 1446.0L1151.2 1468.4L1151.7 1443.9L1152.2 1463.7L1152.7 1444.3L1153.2 1469.2L1153.7 1445.9L1154.2 1467.9L1154.7 1450.8L1155.2 1471.8L1155.7 1448.8L1156.2 1468.3L1156.7 1448.3L1157.2 1466.4L1157.7 1446.4L1158.2 1463.6L1158.7 1452.4L1159.2 1466.0L1159.7 1448.6L1160.2 1464.2L1160.7 1448.2L1161.2 1465.9L1161.7 1443.1L1162.2 1463.0L1162.7 1446.6L1163.2 1461.6L1163.7 1447.5L1164.2 1459.7L1164.7 1443.6L1165.2 1457.5L1165.7 1442.8L1166.2 1460.8L1166.7 1442.5L1167.2 1456.9L1167.7 1442.4L1168.2 1458.3L1168.7 1438.9L1169.2 1458.5L1169.7 1438.8L1170.2 1458.0L1170.7 1438.6L1171.2 1457.0L1171.7 1445.9L1172.2 1455.6L1172.7 1445.1L1173.2 1456.7L1173.7 1444.1L1174.2 1458.4L1174.7 1444.8L1175.2 1463.3L1175.7 1447.0L1176.2 1457.8L1176.7 1443.7L1177.2 1459.6L1177.7 1445.3L1178.2 1463.4L1178.7 1445.7L1179.2 1461.3L1179.7 1442.7L1180.2 1462.8L1180.7 1447.1L1181.2 1462.7L1181.7 1447.7L1182.2 1463.8L1182.7 1449.1L1183.2 1466.8L1183.7 1450.9L1184.2 1466.7L1184.7 1442.8L1185.2 1466.3L1185.7 1451.4L1186.2 1466.8L1186.7 1453.1L1187.2 1467.1L1187.7 1446.2L1188.2 1469.5L1188.7 1452.6L1189.2 1471.4L1189.7 1450.1L1190.2 1468.6L1190.7 1449.9L1191.2 1471.4L1191.7 1449.5L1192.2 1463.7L1192.7 1444.3L1193.2 1462.7L1193.7 1446.2L1194.2 1462.0L1194.7 1446.8L1195.2 1467.6L1195.7 1447.1L1196.2 1466.7L1196.7 1447.7L1197.2 1470.1L1197.7 1448.3L1198.2 1462.9L1198.7 1450.7L1199.2 1463.2L1199.7 1454.8L1200.2 1464.0L1200.7 1455.9L1201.2 1470.3L1201.7 1456.0L1202.2 1471.1L1202.7 1451.7L1203.2 1467.5L1203.7 1458.4L1204.2 1473.0L1204.7 1454.5L1205.2 1473.1L1205.7 1453.8L1206.2 1474.7L1206.7 1457.4L1207.2 1474.8L1207.7 1454.2L1208.2 1476.2L1208.7 1453.8L1209.2 1477.4L1209.7 1453.5L1210.2 1477.4L1210.7 1461.9L1211.2 1477.5L1211.7 1461.8L1212.2 1481.3L1212.7 1457.6L1213.2 1476.9L1213.7 1456.0L1214.2 1475.1L1214.7 1450.0L1215.2 1474.1L1215.7 1457.5L1216.2 1472.6L1216.7 1458.5L1217.2 1481.2L1217.7 1454.9L1218.2 1477.2L1218.7 1456.2L1219.2 1477.3L1219.7 1460.4L1220.2 1476.1L1220.7 1462.1L1221.2 1476.1L1221.7 1462.2L1222.2 1475.4L1222.7 1461.7L1223.2 1481.3L1223.7 1455.3L1224.2 1473.3L1224.7 1463.5L1225.2 1473.3L1225.7 1458.6L1226.2 1482.4L1226.7 1459.4L1227.2 1477.9L1227.7 1464.8L1228.2 1483.6L1228.7 1463.6L1229.2 1480.0L1229.7 1463.1L1230.2 1484.2L1230.7 1465.2L1231.2 1484.4L1231.7 1468.1L1232.2 1483.4L1232.7 1469.2L1233.2 1479.5L1233.7 1469.1L1234.2 1479.7L1234.7 1467.1L1235.2 1485.1L1235.7 1467.5L1236.2 1481.2L1236.7 1471.6L1237.2 1484.1L1237.7 1473.3L1238.2 1486.8L1238.7 1474.2L1239.2 1488.0L1239.7 1475.4L1240.2 1493.3L1240.7 1476.8L1241.2 1486.9L1241.7 1475.3L1242.2 1492.3L1242.7 1474.8L1243.2 1495.2L1243.7 1472.0L1244.2 1485.8L1244.7 1462.8L1245.2 1486.1L1245.7 1472.7L1246.2 1499.5L1246.7 1467.7L1247.2 1495.7L1247.7 1477.8L1248.2 1500.2L1248.7 1484.2L1249.2 1498.1L1249.7 1486.3L1250.2 1505.8L1250.7 1487.1L1251.2 1498.4L1251.7 1483.0L1252.2 1498.0L1252.7 1484.2L1253.2 1506.4L1253.7 1484.8L1254.2 1506.3L1254.7 1486.3L1255.2 1497.6L1255.7 1485.3L1256.2 1496.4L1256.7 1483.3L1257.2 1497.2L1257.7 1482.2L1258.2 1497.2L1258.7 1480.3L1259.2 1494.7L1259.7 1477.9L1260.2 1497.7L1260.7 1478.4L1261.2 1496.5L1261.7 1477.2L1262.2 1491.4L1262.7 1478.0L1263.2 1491.9L1263.7 1473.0L1264.2 1495.2L1264.7 1473.9L1265.2 1496.0L1265.7 1478.0L1266.2 1497.6L1266.7 1478.3L1267.2 1492.9L1267.7 1481.0L1268.2 1501.7L1268.7 1474.2L1269.2 1494.3L1269.7 1484.6L1270.2 1496.2L1270.7 1479.5L1271.2 1504.6L1271.7 1473.7L1272.2 1496.5L1272.7 1481.7L1273.2 1494.0L1273.7 1479.8L1274.2 1490.6L1274.7 1477.5L1275.2 1497.5L1275.7 1478.8L1276.2 1493.2L1276.7 1480.9L1277.2 1492.4L1277.7 1480.1L1278.2 1494.7L1278.7 1478.2L1279.2 1495.6L1279.7 1477.9L1280.2 1499.9L1280.7 1479.1L1281.2 1493.2L1281.7 1482.8L1282.2 1494.9L1282.7 1475.2L1283.2 1500.6L1283.7 1482.6L1284.2 1497.6L1284.7 1483.6L1285.2 1497.4L1285.7 1484.3L1286.2 1498.3L1286.7 1482.4L1287.2 1499.5L1287.7 1483.4L1288.2 1495.2L1288.7 1474.6L1289.2 1501.8L1289.7 1480.4L1290.2 1495.1L1290.7 1484.0L1291.2 1497.3L1291.7 1479.5L1292.2 1497.6L1292.7 1487.3L1293.2 1503.7L1293.7 1485.9L1294.2 1498.6L1294.7 1482.5L1295.2 1499.3L1295.7 1488.3L1296.2 1504.7L1296.7 1484.0L1297.2 1501.9L1297.7 1484.0L1298.2 1502.0L1298.7 1484.0L1299.2 1501.2L1299.7 1482.0L1300.2 1500.2L1300.7 1480.3L1301.2 1501.8L1301.7 1483.2L1302.2 1497.9L1302.7 1483.8L1303.2 1500.0L1303.7 1481.8L1304.2 1501.0L1304.7 1481.3L1305.2 1494.3L1305.7 1481.3L1306.2 1493.9L1306.7 1483.9L1307.2 1493.6L1307.7 1480.7L1308.2 1494.0L1308.7 1480.2L1309.2 1498.7L1309.7 1480.0L1310.2 1495.6L1310.7 1483.7L1311.2 1495.2L1311.7 1481.3L1312.2 1495.2L1312.7 1482.4L1313.2 1495.9L1313.7 1488.1L1314.2 1503.9L1314.7 1493.2L1315.2 1513.4L1315.7 1492.5L1316.2 1517.9L1316.7 1499.0L1317.2 1515.5L1317.7 1498.2L1318.2 1513.1L1318.7 1499.1L1319.2 1511.3L1319.7 1489.7L1320.2 1510.6L1320.7 1498.0L1321.2 1510.9L1321.7 1498.4L1322.2 1511.3L1322.7 1495.9L1323.2 1513.1L1323.7 1491.3L1324.2 1512.5L1324.7 1494.9L1325.2 1517.7L1325.7 1495.4L1326.2 1511.6L1326.7 1492.4L1327.2 1513.9L1327.7 1498.1L1328.2 1511.7L1328.7 1497.6L1329.2 1512.3L1329.7 1488.6L1330.2 1510.5L1330.7 1494.9L1331.2 1512.7L1331.7 1492.0L1332.2 1509.8L1332.7 1493.9L1333.2 1509.4L1333.7 1492.0L1334.2 1509.3L1334.7 1485.1L1335.2 1508.8L1335.7 1491.7L1336.2 1507.3L1336.7 1493.1L1337.2 1514.8L1337.7 1493.8L1338.2 1513.7L1338.7 1489.9L1339.2 1508.2L1339.7 1486.1L1340.2 1506.5L1340.7 1486.1L1341.2 1514.1L1341.7 1487.9L1342.2 1503.0L1342.7 1484.8L1343.2 1502.1L1343.7 1484.6L1344.2 1502.7L1344.7 1484.8L1345.2 1504.4L1345.7 1484.2L1346.2 1503.5L1346.7 1482.2L1347.2 1507.2L1347.7 1481.1L1348.2 1498.9L1348.7 1487.4L1349.2 1499.7L1349.7 1488.3L1350.2 1504.6L1350.7 1489.7L1351.2 1504.2L1351.7 1491.0L1352.2 1505.5L1352.7 1489.8L1353.2 1508.2L1353.7 1489.8L1354.2 1504.2L1354.7 1493.3L1355.2 1515.0L1355.7 1490.2L1356.2 1516.4L1356.7 1491.8L1357.2 1510.2L1357.7 1491.3L1358.2 1512.6L1358.7 1493.8L1359.2 1514.3L1359.7 1495.6L1360.2 1520.1L1360.7 1489.8L1361.2 1512.9L1361.7 1489.9L1362.2 1509.6L1362.7 1491.1L1363.2 1520.3L1363.7 1487.5L1364.2 1521.8L1364.7 1489.8L1365.2 1518.7L1365.7 1497.0L1366.2 1513.2L1366.7 1489.3L1367.2 1513.9L1367.7 1498.5L1368.2 1512.9L1368.7 1498.2L1369.2 1512.4L1369.7 1495.5L1370.2 1516.2L1370.7 1491.5L1371.2 1520.7L1371.7 1500.8L1372.2 1513.4L1372.7 1492.7L1373.2 1511.8L1373.7 1498.0L1374.2 1511.6L1374.7 1495.3L1375.2 1514.8L1375.7 1493.9L1376.2 1519.6L1376.7 1497.2L1377.2 1516.3L1377.7 1497.5L1378.2 1514.1L1378.7 1496.3L1379.2 1518.0L1379.7 1494.9L1380.2 1517.7L1380.7 1503.3L1381.2 1516.8L1381.7 1502.0L1382.2 1519.5L1383.0 1471.4L1383.5 1495.0L1384.0 1472.9L1384.5 1489.8L1385.0 1473.8L1385.5 1489.1L1386.0 1472.7L1386.5 1488.7L1387.0 1465.2L1387.5 1488.5L1388.0 1464.5L1388.5 1492.1L1389.0 1472.0L1389.5 1483.0L1390.0 1469.6L1390.5 1490.8L1391.0 1467.4L1391.5 1483.0L1392.0 1468.6L1392.5 1487.2L1393.0 1468.9L1393.5 1488.3L1394.0 1466.8L1394.5 1488.7L1395.0 1467.7L1395.5 1484.5L1396.0 1468.9L1396.5 1484.1L1397.0 1467.1L1397.5 1484.8L1398.0 1471.6L1398.5 1492.5L1399.0 1473.2L1399.5 1488.6L1400.0 1470.6L1400.5 1491.4L1401.0 1476.4L1401.5 1490.3L1402.0 1474.8L1402.5 1491.7L1403.0 1475.1L1403.5 1492.8L1404.0 1475.2L1404.5 1491.4L1405.0 1476.5L1405.5 1500.8L1406.0 1476.0L1406.5 1499.1L1407.0 1477.0L1407.5 1497.8L1408.0 1479.9L1408.5 1504.5L1409.0 1482.1L1409.5 1497.4L1410.0 1482.2L1410.5 1495.0L1411.0 1478.7L1411.5 1495.0L1412.0 1478.6L1412.5 1504.7L1413.0 1479.4L1413.5 1498.1L1414.0 1479.5L1414.5 1502.8L1415.0 1480.5L1415.5 1501.7L1416.0 1478.8L1416.5 1500.4L1417.0 1486.8L1417.5 1502.5L1418.0 1482.2L1418.5 1509.7L1419.0 1485.1L1419.5 1505.5L1420.0 1479.3L1420.5 1506.0L1421.0 1480.5L1421.5 1505.2L1422.0 1483.7L1422.5 1503.7L1423.0 1483.3L1423.5 1501.6L1424.0 1468.6L1424.5 1503.6L1425.0 1478.4L1425.5 1505.3L1426.0 1482.0L1426.5 1505.3L1427.0 1471.5L1427.5 1503.1L1428.0 1472.8L1428.5 1502.2L1429.0 1481.9L1429.5 1508.1L1430.0 1483.9L1430.5 1504.8L1431.0 1487.1L1431.5 1503.9L1432.0 1488.3L1432.5 1503.2L1433.0 1488.3L1433.5 1502.5L1434.0 1484.5L1434.5 1503.7L1435.0 1486.2L1435.5 1510.7L1436.0 1487.9L1436.5 1509.4L1437.0 1489.2L1437.5 1510.1L1438.0 1487.5L1438.5 1515.3L1439.0 1497.1L1439.5 1516.4L1440.0 1496.8L1440.5 1509.2L1441.0 1495.4L1441.5 1507.2L1442.0 1496.9L1442.5 1506.6L1443.0 1496.5L1443.5 1507.1L1444.0 1492.5L1444.5 1511.6L1445.0 1492.7L1445.5 1514.7L1446.0 1493.9L1446.5 1510.2L1447.0 1488.7L1447.5 1509.7L1448.0 1496.7L1448.5 1510.4L1449.0 1495.4L1449.5 1508.6L1450.0 1488.8L1450.5 1511.3L1451.0 1492.2L1451.5 1514.2L1452.0 1493.3L1452.5 1513.1L1453.0 1494.3L1453.5 1511.6L1454.0 1492.7L1454.5 1509.4L1455.0 1491.0L1455.5 1516.4L1456.0 1492.9L1456.5 1509.3L1457.0 1495.4L1457.5 1509.7L1458.0 1497.4L1458.5 1514.8L1459.0 1497.6L1459.5 1516.8L1460.0 1493.2L1460.5 1519.1L1461.0 1494.9L1461.5 1515.8L1462.0 1500.1L1462.5 1513.3L1463.0 1492.5L1463.5 1508.8L1464.0 1494.4L1464.5 1506.8L1465.0 1495.9L1465.5 1509.6L1466.0 1494.2L1466.5 1505.9L1467.0 1493.0L1467.5 1504.4L1468.0 1492.0L1468.5 1507.5L1469.0 1492.7L1469.5 1506.0L1470.0 1491.4L1470.5 1502.1L1471.0 1489.5L1471.5 1507.1L1472.0 1489.2L1472.5 1502.4L1473.0 1489.6L1473.5 1500.4L1474.0 1486.2L1474.5 1500.2L1475.0 1485.4L1475.5 1501.1L1476.0 1479.8L1476.5 1500.3L1477.0 1480.2L1477.5 1503.6L1478.0 1485.2L1478.5 1505.7L1479.0 1481.1L1479.5 1506.3L1480.0 1480.0L1480.5 1496.3L1481.0 1475.3L1481.5 1495.9L1482.0 1475.9L1482.5 1495.4L1483.0 1479.1L1483.5 1496.4L1484.0 1479.1L1484.5 1496.8L1485.0 1479.9L1485.5 1497.3L1486.0 1478.5L1486.5 1498.3L1487.0 1477.9L1487.5 1498.4L1488.0 1481.1L1488.5 1496.1L1489.0 1478.1L1489.5 1495.2L1490.0 1481.4L1490.5 1495.0L1491.0 1483.2L1491.5 1501.6L1492.0 1484.3L1492.5 1499.2L1493.0 1482.7L1493.5 1497.0L1494.0 1487.6L1494.5 1502.2L1495.0 1488.0L1495.5 1497.4L1496.0 1488.0L1496.5 1497.4L1497.0 1481.6L1497.5 1497.4L1498.0 1488.6L1498.5 1499.1L1499.0 1488.5L1499.5 1500.8L1500.0 1488.1L1500.5 1506.7L1501.0 1480.7L1501.5 1504.6L1502.0 1482.3L1502.5 1500.9L1503.0 1480.0L1503.5 1503.8L1504.0 1488.7L1504.5 1503.7L1505.0 1488.0L1505.5 1499.5L1506.0 1487.0L1506.5 1498.5L1507.0 1482.9L1507.5 1500.5L1508.0 1487.3L1508.5 1499.9L1509.0 1479.3L1509.5 1500.4L1510.0 1486.0L1510.5 1497.5L1511.0 1479.6L1511.5 1496.5L1512.0 1484.3L1512.5 1498.4L1513.0 1481.6L1513.5 1502.0L1514.0 1481.1L1514.5 1493.0L1515.0 1482.7L1515.5 1499.2L1516.0 1479.0L1516.5 1494.3L1517.0 1475.9L1517.5 1497.7L1518.0 1479.9L1518.5 1499.8L1519.0 1482.1L1519.5 1497.3L1520.0 1482.6L1520.5 1494.8L1521.0 1475.1L1521.5 1493.4L1522.0 1478.8L1522.5 1502.4L1523.0 1483.0L1523.5 1502.2L1524.0 1481.9L1524.5 1501.8L1525.0 1481.6L1525.5 1501.8L1526.0 1482.0L1526.5 1501.1L1527.0 1482.1L1527.5 1503.3L1528.0 1488.6L1528.5 1500.9L1529.0 1488.2L1529.5 1501.8L1530.0 1484.7L1530.5 1500.8L1531.0 1480.9L1531.5 1498.7L1532.0 1478.7L1532.5 1505.4L1533.0 1479.5L1533.5 1504.1L1534.0 1480.1L1534.5 1497.9L1535.0 1486.7L1535.5 1505.5L1536.0 1486.7L1536.5 1497.4L1537.0 1485.9L1537.5 1497.1L1538.0 1483.1L1538.5 1497.3L1539.0 1478.8L1539.5 1502.5L1540.0 1472.4L1540.5 1495.8L1541.0 1470.7L1541.5 1495.9L1542.0 1476.9L1542.5 1493.8L1543.0 1472.5L1543.5 1494.4L1544.0 1470.7L1544.5 1500.2L1545.0 1475.2L1545.5 1496.9L1546.0 1471.7L1546.5 1496.0L1547.0 1479.5L1547.5 1499.3L1548.0 1484.0L1548.5 1501.7L1549.0 1477.7L1549.5 1501.8L1550.0 1488.8L1550.5 1501.3L1551.0 1489.0L1551.5 1507.6L1552.0 1488.2L1552.5 1498.7L1553.0 1488.1L1553.5 1500.3L1554.0 1487.7L1554.5 1502.7L1555.0 1487.2L1555.5 1499.2L1556.0 1486.8L1556.5 1508.6L1557.0 1487.8L1557.5 1501.5L1558.0 1484.9L1558.5 1501.6L1559.0 1483.0L1559.5 1502.7L1560.0 1484.5L1560.5 1505.4L1561.0 1485.3L1561.5 1507.4L1562.0 1478.8L1562.5 1508.9L1563.0 1483.3L1563.5 1502.5L1564.0 1483.4L1564.5 1500.6L1565.0 1483.9L1565.5 1499.5L1566.0 1486.6L1566.5 1498.8L1567.0 1480.0L1567.5 1498.5L1568.0 1482.8L1568.5 1498.9L1569.0 1485.1L1569.5 1503.0L1570.0 1487.4L1570.5 1504.7L1571.0 1482.1L1571.5 1502.5L1572.0 1485.7L1572.5 1499.1L1573.0 1486.3L1573.5 1502.0L1574.0 1487.8L1574.5 1504.2L1575.0 1480.1L1575.5 1505.4L1576.0 1481.4L1576.5 1501.0L1577.0 1486.0L1577.5 1498.7L1578.0 1484.2L1578.5 1503.1L1579.0 1486.1L1579.5 1498.8L1580.0 1481.2L1580.5 1499.6L1581.0 1484.8L1581.5 1500.2L1582.0 1481.1L1582.5 1500.4L1583.0 1485.7L1583.5 1498.8L1584.0 1485.6L1584.5 1498.4L1585.0 1483.0L1585.5 1498.9L1586.0 1487.5L1586.5 1501.6L1587.0 1486.1L1587.5 1504.0L1588.0 1486.6L1588.5 1507.9L1589.0 1489.3L1589.5 1505.4L1590.0 1489.5L1590.5 1505.9L1591.0 1495.2L1591.5 1505.7L1592.0 1490.2L1592.5 1507.5L1593.0 1494.3L1593.5 1507.2L1594.0 1491.5L1594.5 1505.1L1595.0 1492.0L1595.5 1509.8L1596.0 1487.3L1596.5 1506.4L1597.0 1495.0L1597.5 1506.3L1598.0 1495.3L1598.5 1512.4L1599.0 1493.8L1599.5 1513.2L1600.0 1492.2L1600.5 1510.4L1601.0 1486.4L1601.5 1505.6L1602.0 1489.6L1602.5 1510.1L1603.0 1481.6L1603.5 1506.6L1604.0 1483.8L1604.5 1504.6L1605.0 1483.0L1605.5 1503.7L1606.0 1487.7L1606.5 1502.0L1607.0 1489.3L1607.5 1500.6L1608.0 1489.2L1608.5 1501.3L1609.0 1489.6L1609.5 1508.0L1610.0 1487.4L1610.5 1502.1L1611.0 1492.0L1611.5 1503.4L1612.0 1485.9L1612.5 1510.4L1613.0 1490.1L1613.5 1509.2L1614.0 1485.6L1614.5 1509.8L1615.0 1490.0L1615.5 1510.1L1616.0 1493.7L1616.5 1515.6L1617.0 1485.7L1617.5 1511.0L1618.0 1493.2L1618.5 1510.9L1619.0 1491.4L1619.5 1514.0L1620.0 1491.0L1620.5 1517.8L1621.0 1485.5L1621.5 1507.0L1622.0 1489.0L1622.5 1507.9L1623.0 1495.2L1623.5 1507.0L1624.0 1492.7L1624.5 1513.0L1625.0 1488.1L1625.5 1506.8L1626.0 1493.1L1626.5 1514.1L1627.0 1494.0L1627.5 1506.4L1628.0 1486.3L1628.5 1508.2L1629.0 1491.2L1629.5 1511.5L1630.0 1491.9L1630.5 1511.5L1631.0 1489.7L1631.5 1512.0L1632.0 1492.0L1632.5 1511.1L1633.0 1487.3L1633.5 1515.5L1634.0 1497.8L1634.5 1513.3L1635.0 1495.8L1635.5 1516.2L1636.0 1491.6L1636.5 1510.8L1637.0 1496.3L1637.5 1516.7L1638.0 1493.4L1638.5 1512.1L1639.0 1501.8L1639.5 1512.4L1640.0 1502.2L1640.5 1515.6L1641.0 1502.6L1641.5 1517.0L1642.0 1503.5L1642.5 1520.6L1643.0 1495.2L1643.5 1521.5L1644.0 1500.5L1644.5 1523.1L1645.0 1496.6L1645.5 1522.6L1646.0 1503.3L1646.5 1515.7L1647.0 1499.9L1647.5 1515.1L1648.0 1501.9L1648.5 1516.8L1649.0 1503.2L1649.5 1518.6L1650.0 1505.5L1650.5 1517.6L1651.0 1503.1L1651.5 1515.8L1652.0 1503.6L1652.5 1516.4L1653.0 1505.7L1653.5 1521.1L1654.0 1499.1L1654.5 1515.9L1655.0 1504.5L1655.5 1520.4L1656.0 1505.1L1656.5 1519.1L1657.0 1504.0L1658.2 1545.1L1658.7 1561.6L1659.2 1539.8L1659.7 1558.5L1660.2 1540.4L1660.7 1556.0L1661.2 1539.9L1661.7 1557.0L1662.2 1541.2L1662.7 1559.0L1663.2 1544.3L1663.7 1559.2L1664.2 1544.3L1664.7 1558.7L1665.2 1542.6L1665.7 1558.1L1666.2 1541.2L1666.7 1556.8L1667.2 1540.6L1667.7 1561.8L1668.2 1541.9L1668.7 1556.8L1669.2 1540.5L1669.7 1554.4L1670.2 1538.6L1670.7 1551.2L1671.2 1534.9L1671.7 1553.7L1672.2 1535.5L1672.7 1556.1L1673.2 1530.4L1673.7 1552.2L1674.2 1533.1L1674.7 1550.8L1675.2 1528.2L1675.7 1550.2L1676.2 1535.8L1676.7 1551.2L1677.2 1535.2L1677.7 1550.4L1678.2 1535.7L1678.7 1551.3L1679.2 1535.4L1679.7 1552.8L1680.2 1538.7L1680.7 1557.8L1681.2 1539.8L1681.7 1558.4L1682.2 1538.8L1682.7 1554.3L1683.2 1536.7L1683.7 1556.5L1684.2 1531.7L1684.7 1552.5L1685.2 1530.1L1685.7 1550.1L1686.2 1530.2L1686.7 1553.7L1687.2 1531.9L1687.7 1548.5L1688.2 1529.5L1688.7 1555.9L1689.2 1528.7L1689.7 1551.1L1690.2 1531.7L1690.7 1559.6L1691.2 1533.2L1691.7 1559.7L1692.2 1530.1L1692.7 1559.7L1693.2 1536.3L1693.7 1559.6L1694.2 1537.5L1694.7 1563.4L1695.2 1541.3L1695.7 1558.6L1696.2 1543.8L1696.7 1554.6L1697.2 1543.3L1697.7 1563.6L1698.2 1540.1L1698.7 1558.6L1699.2 1540.6L1699.7 1559.2L1700.2 1543.2L1700.7 1559.4L1701.2 1544.5L1701.7 1559.2L1702.2 1545.5L1702.7 1558.3L1703.2 1542.8L1703.7 1557.8L1704.2 1548.1L1704.7 1558.6L1705.2 1547.8L1705.7 1561.6L1706.2 1542.2L1706.7 1564.6L1707.2 1548.4L1707.7 1562.6L1708.2 1549.1L1708.7 1563.9L1709.2 1546.4L1709.7 1562.5L1710.2 1545.8L1710.7 1564.4L1711.2 1547.5L1711.7 1562.9L1712.2 1545.2L1712.7 1558.3L1713.2 1536.6L1713.7 1554.8L1714.2 1532.4L1714.7 1555.0L1715.2 1533.9L1715.7 1550.2L1716.2 1532.4L1716.7 1555.0L1717.2 1531.7L1717.7 1549.1L1718.2 1530.1L1718.7 1552.1L1719.2 1537.7L1719.7 1547.6L1720.2 1537.6L1720.7 1548.4L1721.2 1529.8L1721.7 1551.0L1722.2 1535.4L1722.7 1550.9L1723.2 1530.3L1723.7 1548.3L1724.2 1536.0L1724.7 1554.0L1725.2 1529.3L1725.7 1545.3L1726.2 1531.0L1726.7 1545.2L1727.2 1531.8L1727.7 1549.0L1728.2 1533.9L1728.7 1547.1L1729.2 1527.2L1729.7 1542.6L1730.2 1532.5L1730.7 1544.3L1731.2 1529.8L1731.7 1545.4L1732.2 1527.9L1732.7 1549.9L1733.2 1530.3L1733.7 1549.2L1734.2 1530.1L1734.7 1550.7L1735.2 1535.4L1735.7 1548.5L1736.2 1534.4L1736.7 1554.4L1737.2 1535.2L1737.7 1548.8L1738.2 1530.5L1738.7 1549.9L1739.2 1536.5L1739.7 1558.0L1740.2 1537.1L1740.7 1550.0L1741.2 1531.0L1741.7 1549.7L1742.2 1537.5L1742.7 1556.4L1743.2 1539.8L1743.7 1554.0L1744.2 1539.3L1744.7 1550.1L1745.2 1535.5L1745.7 1548.5L1746.2 1534.2L1746.7 1548.4L1747.2 1534.3L1747.7 1549.3L1748.2 1530.2L1748.7 1554.8L1749.2 1530.9L1749.7 1549.6L1750.2 1529.8L1750.7 1546.0L1751.2 1530.6L1751.7 1545.0L1752.2 1529.9L1752.7 1543.8L1753.2 1527.8L1753.7 1546.9L1754.2 1525.4L1754.7 1542.3L1755.2 1526.1L1755.7 1539.6L1756.2 1522.2L1756.7 1538.9L1757.2 1522.4L1757.7 1539.3L1758.2 1527.4L1758.7 1537.1L1759.2 1522.2L1759.7 1535.8L1760.2 1526.1L1760.7 1536.6L1761.2 1527.0L1761.7 1536.3L1762.2 1525.2L1762.7 1540.2L1763.2 1524.3L1763.7 1540.1L1764.2 1524.9L1764.7 1537.8L1765.2 1520.9L1765.7 1534.2L1766.2 1520.6L1766.7 1535.1L1767.2 1522.6L1767.7 1538.2L1768.2 1521.3L1768.7 1542.4L1769.2 1522.6L1769.7 1538.5L1770.2 1527.0L1770.7 1537.8L1771.2 1521.8L1771.7 1537.4L1772.2 1527.0L1772.7 1542.2L1773.2 1526.0L1773.7 1537.3L1774.2 1522.5L1774.7 1542.3L1775.2 1518.3L1775.7 1536.2L1776.2 1517.9L1776.7 1537.4L1777.2 1521.7L1777.7 1540.6L1778.2 1522.0L1778.7 1536.4L1779.2 1525.2L1779.7 1541.4L1780.2 1526.7L1780.7 1542.4L1781.2 1526.1L1781.7 1542.7L1782.2 1526.3L1782.7 1541.9L1783.2 1524.6L1783.7 1544.4L1784.2 1523.3L1784.7 1540.0L1785.2 1521.9L1785.7 1538.5L1786.2 1519.6L1786.7 1543.6L1787.2 1522.1L1787.7 1540.6L1788.2 1522.5L1788.7 1538.8L1789.2 1517.5L1789.7 1536.8L1790.2 1516.4L1790.7 1544.4L1791.2 1524.6L1791.7 1538.1L1792.2 1522.9L1792.7 1539.7L1793.2 1519.9L1793.7 1536.5L1794.2 1518.6L1794.7 1534.2L1795.2 1519.3L1795.7 1535.9L1796.2 1509.3L1796.7 1530.6L1797.2 1513.7L1797.7 1528.0L1798.2 1511.3L1798.7 1527.6L1799.2 1509.6L1799.7 1530.5L1800.2 1511.8L1800.7 1531.0L1801.2 1514.3L1801.7 1531.5L1802.2 1512.1L1802.7 1529.3L1803.2 1512.1L1803.7 1528.5L1804.2 1514.2L1804.7 1528.2L1805.2 1514.5L1805.7 1525.1L1806.2 1512.4L1806.7 1524.6L1807.2 1511.7L1807.7 1524.7L1808.2 1507.8L1808.7 1525.5L1809.2 1513.1L1809.7 1525.4L1810.2 1512.0L1810.7 1525.1L1811.2 1511.9L1811.7 1526.2L1812.2 1512.3L1812.7 1526.1L1813.2 1514.1L1813.7 1533.7L1814.2 1515.5L1814.7 1529.8L1815.2 1508.9L1815.7 1529.4L1816.2 1517.2L1816.7 1535.5L1817.2 1517.4L1817.7 1527.7L1818.2 1516.8L1818.7 1528.9L1819.2 1517.0L1819.7 1528.6L1820.2 1510.7L1820.7 1529.2L1821.2 1507.4L1821.7 1529.3L1822.2 1512.3L1822.7 1527.6L1823.2 1512.4L1823.7 1524.1L1824.2 1503.9L1824.7 1521.7L1825.2 1508.6L1825.7 1521.9L1826.2 1506.7L1826.7 1523.9L1827.2 1506.5L1827.7 1522.1L1828.2 1507.7L1828.7 1520.8L1829.2 1507.2L1829.7 1521.3L1830.2 1505.4L1830.7 1517.0L1831.2 1502.1L1831.7 1516.3L1832.2 1503.5L1832.7 1516.6L1833.2 1494.9L1833.7 1516.6L1834.2 1502.5L1834.7 1519.3L1835.2 1503.7L1835.7 1520.7L1836.2 1504.3L1836.7 1520.3L1837.2 1504.7L1837.7 1520.4L1838.2 1505.0L1838.7 1522.5L1839.2 1505.9L1839.7 1517.6L1840.2 1500.6L1840.7 1522.4L1841.2 1507.4L1841.7 1523.3L1842.2 1507.0L1842.7 1524.6L1843.2 1506.7L1843.7 1525.4L1844.2 1506.7L1844.7 1529.0L1845.2 1501.1L1845.7 1527.3L1846.2 1509.8L1846.7 1521.7L1847.2 1508.4L1847.7 1521.8L1848.2 1501.8L1848.7 1520.5L1849.2 1507.4L1849.7 1519.2L1850.2 1499.0L1850.7 1517.8L1851.2 1502.0L1851.7 1522.7L1852.2 1504.9L1852.7 1515.6L1853.2 1500.9L1853.7 1519.1L1854.2 1497.0L1854.7 1519.3L1855.2 1502.6L1855.7 1515.7L1856.2 1503.6L1856.7 1523.0L1857.2 1503.4L1857.7 1518.2L1858.2 1503.5L1858.7 1518.3L1859.2 1502.4L1859.7 1521.8L1860.2 1494.9L1860.7 1522.5L1861.2 1495.3L1861.7 1517.3L1862.2 1498.4L1862.7 1521.9L1863.2 1502.5L1863.7 1514.6L1864.2 1504.3L1864.7 1517.2L1865.2 1504.3L1865.7 1517.1L1866.2 1496.5L1866.7 1522.4L1867.2 1501.8L1867.7 1515.9L1868.2 1502.2L1868.7 1516.5L1869.2 1503.4L1869.7 1521.9L1870.2 1503.5L1870.7 1521.1L1871.2 1503.6L1871.7 1521.6L1872.2 1505.4L1872.7 1519.9L1873.2 1507.6L1873.7 1520.6L1874.2 1503.0L1874.7 1524.2L1875.2 1506.5L1875.7 1521.2L1876.2 1507.8L1876.7 1524.5L1877.2 1510.3L1877.7 1520.6L1878.2 1512.5L1878.7 1525.3L1879.2 1512.7L1879.7 1528.1L1880.2 1511.1L1880.7 1526.4L1881.2 1509.4L1881.7 1526.1L1882.2 1508.5L1882.7 1526.8L1883.2 1511.8L1883.7 1527.6L1884.2 1505.8L1884.7 1527.0L1885.2 1511.1L1885.7 1524.9L1886.2 1510.4L1886.7 1524.6L1887.2 1511.0L1887.7 1525.0L1888.2 1508.9L1888.7 1523.5L1889.2 1507.2L1889.7 1520.8L1890.2 1504.7L1890.7 1518.8L1891.2 1504.9L1891.7 1515.3L1892.2 1503.1L1892.7 1512.1L1893.2 1498.5L1893.7 1511.7L1894.2 1495.2L1894.7 1516.3L1895.2 1497.2L1895.7 1512.8L1896.2 1495.1L1896.7 1517.9L1897.2 1500.0L1897.7 1515.8L1898.2 1497.5L1898.7 1510.1L1899.2 1499.3L1899.7 1510.7L1900.2 1498.3L1900.7 1513.3L1901.2 1495.8L1901.7 1514.6L1902.2 1496.8L1902.7 1515.7L1903.2 1498.2L1903.7 1515.5L1904.2 1495.1L1904.7 1514.9L1905.2 1490.0L1905.7 1510.8L1906.2 1488.9L1906.7 1517.5L1907.2 1492.0L1907.7 1521.3L1908.2 1493.1L1908.7 1511.6L1909.2 1496.8L1909.7 1513.8L1910.2 1492.5L1910.7 1517.2L1911.2 1495.6L1911.7 1519.8L1912.2 1489.9L1912.7 1514.8L1913.2 1499.1L1913.7 1512.8L1914.2 1492.6L1914.7 1518.6L1915.2 1491.0L1915.7 1513.7L1916.2 1497.4L1916.7 1515.6L1917.2 1500.3L1917.7 1515.7L1918.2 1495.8L1918.7 1516.4L1919.2 1500.8L1919.7 1514.0L1920.2 1500.6L1920.7 1523.4L1921.2 1494.7L1921.7 1515.3L1922.2 1501.7L1922.7 1519.9L1923.2 1496.6L1923.7 1520.7L1924.2 1503.5L1924.7 1520.6L1925.2 1502.8L1925.7 1527.0L1926.2 1502.7L1926.7 1515.8L1927.2 1500.4L1927.7 1521.2L1928.2 1497.0L1928.7 1521.1L1929.2 1496.8L1929.7 1520.6L1930.2 1501.2L1930.7 1524.8L1931.2 1499.9L1931.7 1516.3L1932.2 1492.4L1932.7 1516.5L1933.2 1487.3L1933.7 1512.3L1934.2 1496.1L1934.7 1510.1L1935.2 1496.3L1935.7 1509.8L1936.2 1496.6L1936.7 1511.4L1937.2 1495.6L1937.7 1511.5L1938.2 1488.1L1938.7 1509.5L1939.2 1494.2L1939.7 1510.3L1940.2 1491.5L1940.7 1510.6L1941.2 1491.8L1941.7 1507.8L1942.2 1491.0L1942.7 1506.9L1943.2 1491.4L1943.7 1508.8L1944.2 1490.8L1944.7 1513.9L1945.2 1492.0L1945.7 1508.3L1946.2 1494.7L1946.7 1506.7L1947.2 1492.3L1947.7 1507.7L1948.2 1493.3L1948.7 1509.5L1949.2 1495.1L1949.7 1509.7L1950.2 1497.3L1950.7 1511.5L1951.2 1490.7L1951.7 1510.6L1952.2 1494.8L1952.7 1509.5L1953.2 1499.0L1953.7 1513.3L1954.2 1494.0L1954.7 1518.8L1955.2 1498.0L1955.7 1512.6L1956.2 1497.6L1956.7 1515.0L1957.2 1499.3L1957.7 1514.4L1958.2 1500.0L1958.7 1521.9L1959.2 1498.6L1959.7 1519.9L1960.2 1498.9L1960.7 1514.5L1961.2 1498.3L1961.7 1514.7L1962.2 1499.6L1962.7 1515.2L1963.2 1500.4L1963.7 1521.4L1964.2 1503.1L1964.7 1521.5L1965.2 1501.0L1965.7 1518.8L1966.2 1503.4L1966.7 1518.8L1967.2 1502.1L1967.7 1515.1L1968.2 1501.3L1968.7 1519.6L1969.2 1502.4L1969.7 1515.3L1970.2 1504.8L1970.7 1519.1L1971.2 1503.4L1971.7 1515.1L1972.2 1502.7L1972.7 1516.5L1973.2 1505.1L1973.7 1515.5L1974.2 1502.5L1974.7 1517.1L1975.2 1501.5L1975.7 1517.3L1976.2 1502.4L1976.7 1514.4L1977.2 1501.0L1977.7 1514.2L1978.2 1500.2L1978.7 1515.4L1979.2 1500.5L1979.7 1515.5L1980.2 1500.5L1980.7 1513.6L1981.2 1499.1L1981.7 1513.4L1982.2 1497.0L1982.7 1511.0L1983.2 1495.6L1983.7 1508.2L1984.2 1494.2L1984.7 1506.8L1985.2 1489.2L1985.7 1505.3L1986.2 1488.6L1986.7 1508.6L1987.2 1481.6L1987.7 1508.4L1988.2 1486.5L1988.7 1497.1L1989.2 1484.5L1989.7 1495.1L1990.2 1483.2L1990.7 1492.9L1991.2 1479.3L1991.7 1491.5L1992.2 1479.7L1992.7 1492.9L1993.2 1481.4L1993.7 1496.3L1994.2 1478.7L1994.7 1498.0L1995.2 1477.3L1995.7 1499.0L1996.2 1479.4L1996.7 1498.7L1997.2 1481.6L1997.7 1499.2L1998.2 1482.5L1998.7 1497.9L1999.2 1486.9L1999.7 1497.5L2000.2 1488.8L2000.7 1499.0L2001.2 1490.3L2001.7 1499.9"/>
<text class="t" x="269.2" y="1188.3" text-anchor="end">41</text>
<text class="t" x="267.5" y="1314.2" text-anchor="end">40.5</text>
<text class="t" x="269.2" y="1440.2" text-anchor="end">40</text>
<text class="t" x="267.5" y="1566.1" text-anchor="end">39.5</text>
<text class="t" x="282.8" y="1635.2" text-anchor="middle">0</text>
<text class="t" x="556.9" y="1635.2" text-anchor="middle">2000</text>
<text class="t" x="831.7" y="1635.2" text-anchor="middle">4000</text>
<text class="t" x="1106.6" y="1635.2" text-anchor="middle">6000</text>
<text class="t" x="1381.5" y="1635.2" text-anchor="middle">8000</text>
<text class="t" x="1660.7" y="1635.2" text-anchor="middle">10,000</text>
<text class="t" x="1935.5" y="1635.2" text-anchor="middle">12,000</text>
<text class="t" x="2210.4" y="1635.2" text-anchor="middle">14,000</text>
<text transform="rotate(-90)" font-size="57"><tspan x="-1474.1" y="126.8" font-size="59">B</tspan><tspan x="-1429.9" y="152.3" font-size="45">z</tspan><tspan x="-1406.3" y="127.1" letter-spacing="-0.5"> [mG]</tspan></text></g>
<text x="1145.6" y="1707.7" font-size="57" letter-spacing="-0.4">Time [s]</text>
</svg>
</body>
</html>
